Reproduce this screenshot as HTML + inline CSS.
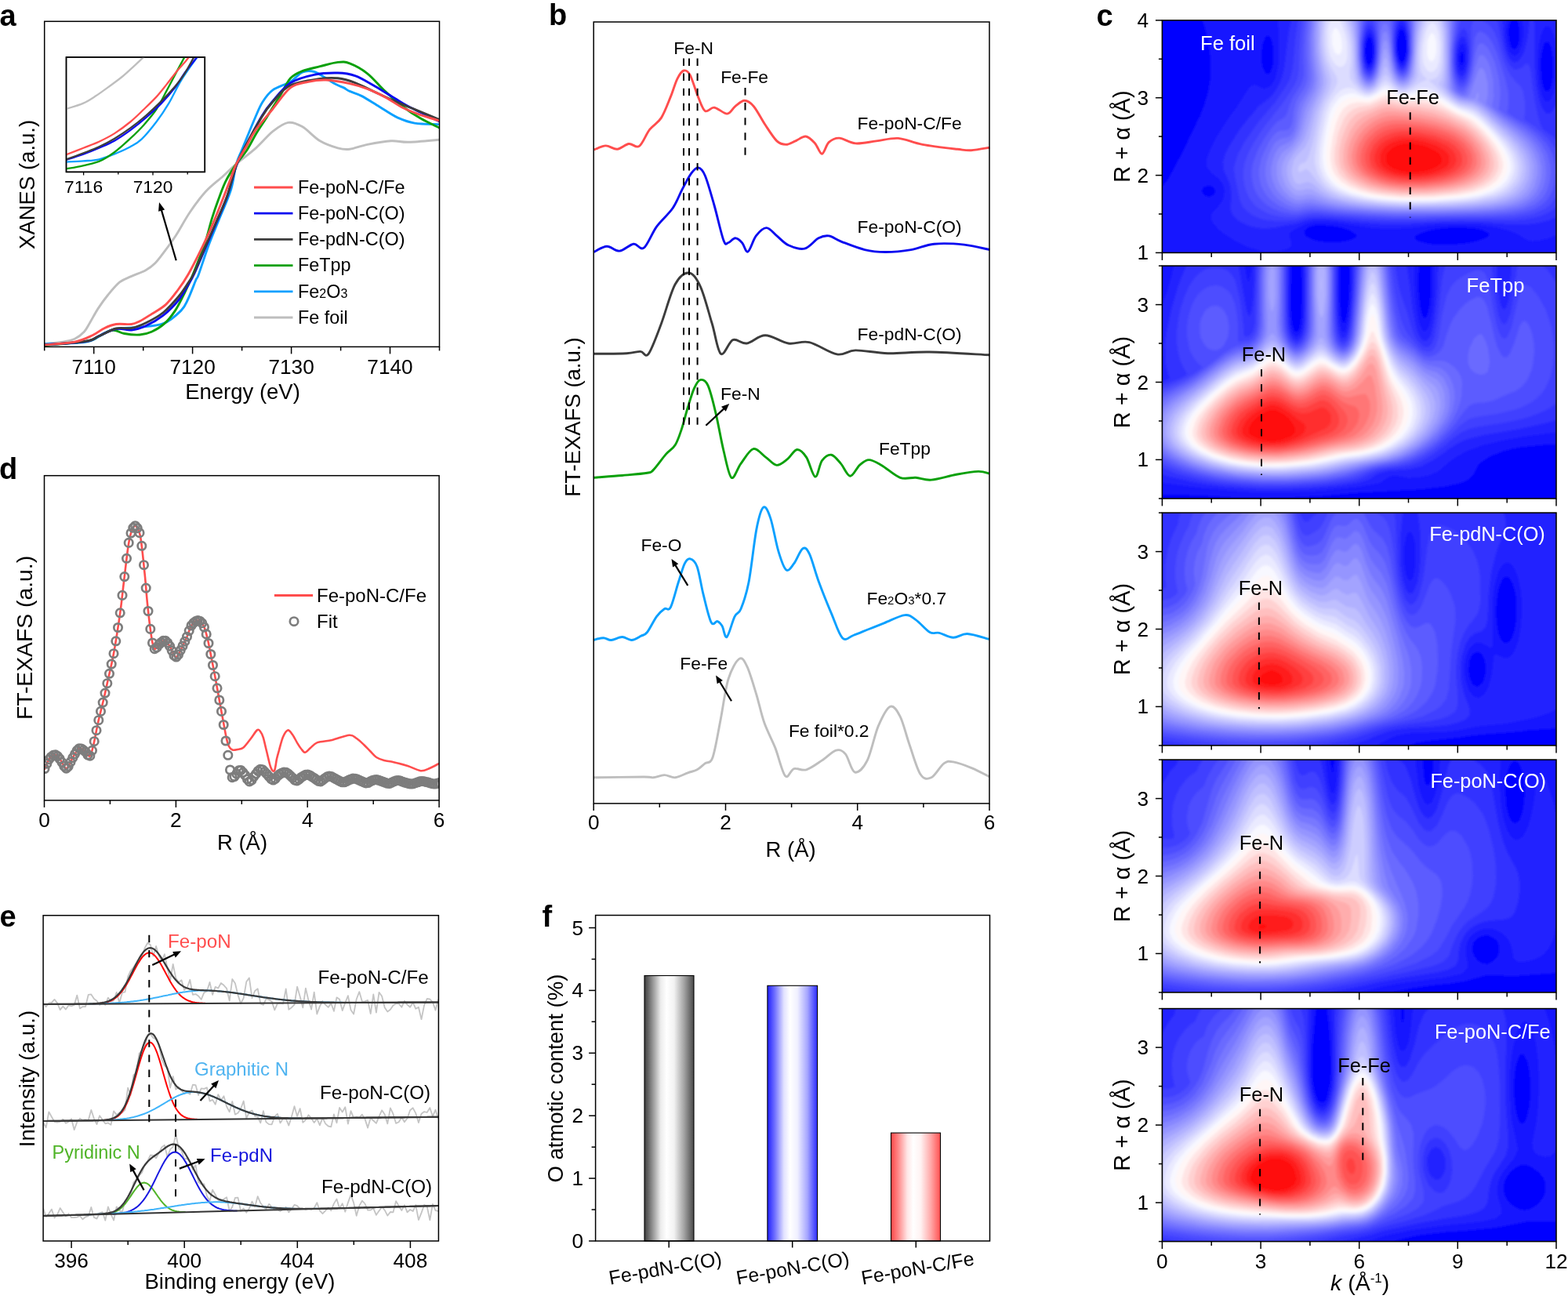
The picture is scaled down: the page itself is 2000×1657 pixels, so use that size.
<!DOCTYPE html>
<html><head><meta charset="utf-8"><style>
html,body{margin:0;padding:0;background:#fff;overflow:hidden}
svg{display:block}
</style></head><body>
<svg width="2000" height="1657" viewBox="0 0 2000 1657" style="font-family:'Liberation Sans',Arial,sans-serif">
<rect width="2000" height="1657" fill="#fff"/>
<defs><clipPath id="ca"><rect x="56.7" y="27.3" width="503.8" height="415.09999999999997"/></clipPath>
<clipPath id="cai"><rect x="84.5" y="72.9" width="176.8" height="146.5"/></clipPath></defs>
<g clip-path="url(#ca)" fill="none" stroke-width="2.9" stroke-linejoin="round">
<path d="M56.8,438.3C60.7,437.9 73.8,437.1 80.2,436.1C86.6,435.1 90.8,434.4 95.3,432.3C99.8,430.2 104,426.8 107.3,423.3C110.6,419.8 111.9,416.2 114.9,411.2C117.9,406.2 121.6,398.9 125.4,393.1C129.2,387.3 133,382 137.5,376.5C142,371 147.6,363.9 152.6,359.9C157.6,355.9 162.2,354.9 167.7,352.4C173.2,349.9 180.8,347.6 185.8,344.8C190.8,342 193.8,339.8 197.8,335.8C201.8,331.8 205.5,326.5 209.9,320.7C214.3,314.9 218.7,309.1 224.1,300.8C229.5,292.5 235.8,280.1 242.2,270.7C248.6,261.2 255.6,251.8 262.7,244.1C269.8,236.4 278.1,230.6 284.5,224.8C290.9,219 294.4,215.1 301.4,209.1C308.4,203.1 318.9,195.5 326.7,188.6C334.4,181.7 341.1,173.1 347.9,167.7C354.7,162.3 361.2,157.4 367.5,156.4C373.8,155.4 378.8,157.7 385.6,161.6C392.4,165.5 400.6,175.3 408.2,179.8C415.8,184.3 424.6,187.1 430.9,188.8C437.2,190.6 439.7,191.1 446,190.3C452.3,189.6 459.8,186.1 468.6,184.3C477.4,182.6 490,180.3 498.8,179.8C507.6,179.3 511.1,181.6 521.4,181.3C531.7,181 554.1,178.7 560.6,178.2" stroke="#bebebe"/>
<path d="M56.8,438.9C65.7,438.4 97.6,438.5 110.3,436.1C123,433.8 126.7,427.6 133,424.8C139.3,422 140.6,420.8 148.1,419.5C155.6,418.2 168.1,418.3 178.2,417.2C188.2,416.1 199.6,416.2 208.4,412.7C217.2,409.2 225.7,401.4 231,396.1C236.3,390.8 236.9,387.5 240.1,381C243.2,374.5 247.7,362.2 249.9,357C252.1,351.8 250.6,357.8 253.4,350C256.2,342.2 262.5,322.5 267,310.5C271.5,298.5 275.6,289.4 280.2,277.9C284.8,266.4 291.2,253.2 294.7,241.7C298.2,230.2 299.1,217.5 301.4,209.1C303.7,200.7 304.6,200.8 308.6,191C312.6,181.2 321.1,160.2 325.5,150C329.9,139.8 331.3,135.8 335,130C338.7,124.2 342,119.2 347.9,114.9C353.8,110.6 364.2,108.1 370.5,104.3C376.8,100.5 380.6,94.3 385.6,92.2C390.6,90.1 395.7,90.2 400.7,91.5C405.7,92.8 411.3,97.2 415.8,99.8C420.3,102.4 424.1,105.3 427.9,107.3C431.7,109.3 435.4,110.4 438.4,111.9C441.4,113.4 442.2,114.7 446,116.4C449.8,118.2 454.8,119.1 461.1,122.4C467.4,125.7 476.2,131.5 483.7,136C491.2,140.5 498.8,146.1 506.3,149.6C513.8,153.1 519.9,155.6 528.9,157.1C537.9,158.6 555.3,158.3 560.6,158.6" stroke="#0aa0ff"/>
<path d="M56.8,440.6C65.7,439.7 98.9,437.2 110.3,435.3C121.7,433.4 120.4,431.6 125.4,429.3C130.4,427.1 136.7,423.1 140.5,421.8C144.3,420.6 145.1,421.2 148.1,421.8C151.1,422.4 153.6,424.6 158.6,425.5C163.6,426.4 172.4,427.4 178.2,427C184,426.6 188,425.7 193.3,423.3C198.6,420.9 204.9,417.2 209.9,412.7C214.9,408.2 219.2,402.6 223.5,396.1C227.8,389.6 231.7,381.2 235.5,373.5C239.3,365.8 241.9,360.3 246.1,350C250.3,339.7 256.8,323.7 260.9,311.7C265,299.7 267.4,288.1 270.6,277.9C273.8,267.6 277.2,258.2 280.2,250.2C283.2,242.1 285.1,236.4 288.7,229.6C292.2,222.8 297.1,215.4 301.4,209.1C305.7,202.8 310.3,198.5 314.6,192C318.9,185.5 322.8,177 327,170C331.2,163 336.5,155.5 340,150C343.5,144.5 344.9,141.8 347.9,137C350.9,132.2 354.2,127.2 358,121C361.8,114.8 365.9,104.8 370.5,99.8C375.1,94.8 379.3,93.2 385.6,90.7C391.9,88.2 400.6,86.6 408.2,84.7C415.8,82.8 424.6,80 430.9,79.4C437.2,78.8 439.7,78.5 446,80.9C452.3,83.3 461.1,87.9 468.6,93.8C476.1,99.7 483.6,109.4 491.2,116.4C498.8,123.4 506.3,130.2 513.9,136C521.4,141.8 528.7,146.6 536.5,151.1C544.3,155.6 556.6,161.2 560.6,163.2" stroke="#0aa00a"/>
<path d="M56.8,440C65.7,439.2 98.6,437.3 110,435.5C121.4,433.7 119.1,431.7 125.4,429C131.8,426.3 141.1,420.8 148.1,419.5C155.1,418.2 161.4,421.6 167.7,421C174,420.4 179,418.8 185.8,415.7C192.6,412.6 201.4,407.6 208.4,402.1C215.4,396.6 222.7,389 228,382.5C233.3,376 237.1,368.3 240.3,362.9C243.5,357.5 244,357.3 247.4,350C250.8,342.7 256.2,329.7 260.9,318.9C265.6,308.1 270.6,296.6 275.4,285.2C280.2,273.8 285.6,262.5 289.9,250.2C294.2,237.9 297.7,221.8 301.4,211.5C305.1,201.2 306.8,199.2 312.2,188.6C317.6,178 328.1,157.9 334,148C339.9,138.1 341.8,136 347.9,129C354,122 361.7,111.4 370.5,105.8C379.3,100.2 390.6,97.4 400.7,95.3C410.8,93.2 422.1,92.8 430.9,93C439.7,93.2 446,94.2 453.5,96.8C461,99.4 468.6,104.5 476.1,108.8C483.7,113.1 491.2,117.9 498.8,122.4C506.4,126.9 511.1,130.6 521.4,136C531.7,141.4 554.1,151.8 560.6,154.9" stroke="#0a0af0"/>
<path d="M56.8,440C65.7,439.2 98.6,437.1 110,435.3C121.4,433.5 119.1,431.7 125.4,429C131.8,426.3 141.1,420.8 148.1,419C155.1,417.2 161.4,419.7 167.7,418.5C174,417.3 179,415.3 185.8,412C192.6,408.7 201.4,404.2 208.4,398.5C215.4,392.8 222.6,384.4 228,378C233.4,371.6 237.3,365 240.6,360C243.9,355 244.2,355.2 247.6,348C251,340.8 256.3,327.7 260.9,317C265.5,306.3 270.6,295.2 275.4,284C280.2,272.8 285.6,261.7 289.9,249.5C294.2,237.3 297.7,221.2 301.4,211C305.1,200.8 306.8,198.3 312.2,188C317.6,177.7 328.1,158.7 334,149C339.9,139.3 341.8,136.7 347.9,130C354,123.3 360.4,113.7 370.5,108.8C380.6,103.9 398.1,102 408.2,100.5C418.3,99 423.3,98.9 430.9,99.8C438.4,100.7 446,103 453.5,105.8C461,108.6 468.6,112.9 476.1,116.4C483.7,119.9 491.2,123.7 498.8,127C506.4,130.3 515.1,133.9 521.4,136.5C527.7,139.1 530,139.8 536.5,142.5C543,145.2 556.6,150.9 560.6,152.6" stroke="#3c3c3c"/>
<path d="M56.8,439.9C63.2,439.3 85.1,438.1 95.3,436.1C105.5,434.1 111.6,430.7 117.9,427.8C124.2,424.9 128,421.1 133,418.7C138,416.3 142.3,414.4 148.1,413.5C153.9,412.6 162.7,414.1 167.7,413.5C172.7,412.9 173.9,411.8 178.2,409.7C182.5,407.6 187.8,404.1 193.3,400.6C198.8,397.1 205.9,393.6 211.4,388.6C216.9,383.6 221.7,376.9 226.5,370.5C231.3,364.1 234.8,359.4 240.1,350C245.4,340.6 253.4,324.5 258.5,314.1C263.6,303.7 266.8,296.5 270.6,287.6C274.4,278.8 277.7,270.2 281.4,261C285.1,251.8 289.2,240.8 292.6,232.1C295.9,223.4 297.7,216.8 301.4,209.1C305.1,201.4 310.5,193.4 314.6,186.2C318.7,179 320.4,173.9 326,166C331.6,158.1 340.5,148 347.9,139C355.3,130 362.9,117.7 370.5,111.9C378.1,106.1 385.6,106 393.2,104.3C400.8,102.6 407,101.6 415.8,102C424.6,102.4 437.2,104.7 446,106.6C454.8,108.5 461.1,110.5 468.6,113.4C476.1,116.3 483.6,119.9 491.2,123.9C498.8,127.9 506.3,133.7 513.9,137.5C521.4,141.3 528.7,143.8 536.5,146.6C544.3,149.4 556.6,152.8 560.6,154.1" stroke="#ff4d4d"/>
</g>
<rect x="84.5" y="72.9" width="176.8" height="146.5" fill="#fff" stroke="#000" stroke-width="1.5"/>
<g clip-path="url(#cai)" fill="none" stroke-width="2.3" stroke-linejoin="round">
<path d="M84.5,138.9C88.2,137.7 100.1,134.4 106.4,131.6C112.7,128.8 116.5,126.1 122.3,122.3C128.1,118.5 135.2,113.2 141,109C146.8,104.8 152.1,101 156.9,97C161.8,93 165.8,89.1 170.1,85.1C174.4,81.1 179.5,76.3 182.8,73.1C186.1,69.9 188.8,67.2 190,66" stroke="#bebebe"/>
<path d="M84.5,206.6C88.2,206.4 99.4,205.9 106.4,205.3C113.4,204.8 119.2,205 126.3,203.3C133.4,201.6 142.2,198 148.9,195.3C155.6,192.6 160.9,190.3 166.2,187.3C171.5,184.3 175.3,182.7 180.8,177.4C186.3,172.1 193.6,163.1 199.4,155.5C205.2,147.9 210.1,140.5 215.4,131.6C220.7,122.7 225.2,112 231.2,102.3C237.2,92.5 247.2,79 251.2,73.1C255.2,67.2 254.4,68 255,67" stroke="#0aa0ff"/>
<path d="M84.5,215.2C87,214.8 92.8,214.1 99.8,212.6C106.8,211.1 118.6,209 126.3,205.9C134,202.8 139.5,198.9 146.2,194C152.8,189.1 160,182.5 166.2,176.7C172.4,170.9 177.9,165.6 183.4,159.4C188.9,153.2 194.5,146.8 199.4,139.5C204.3,132.2 208.2,123.8 212.6,115.6C217,107.4 222.1,97.5 225.9,90.4C229.7,83.3 233.2,76.8 235.2,73.1C237.2,69.4 237.5,68.8 238,68" stroke="#0aa00a"/>
<path d="M84.5,203.9C88.2,202.7 99.4,199.1 106.4,196.6C113.4,194.1 119.7,191.6 126.3,188.7C132.9,185.8 139.5,183.2 146.2,179.4C152.8,175.6 159.5,171 166.2,166.1C172.8,161.2 179.5,155.8 186.1,150.1C192.7,144.3 199.8,138 206,131.6C212.2,125.2 218.2,118.2 223.3,111.6C228.4,104.9 231.8,98.1 236.5,91.7C241.2,85.3 248.1,77 251.2,73.1C254.3,69.1 254.4,68.8 255,68" stroke="#0a0af0"/>
<path d="M84.5,203.3C88.2,202 99.4,198 106.4,195.3C113.4,192.6 119.7,190.4 126.3,187.3C132.9,184.2 139.5,180.7 146.2,176.7C152.8,172.7 159.5,168.3 166.2,163.4C172.8,158.5 179.5,153.2 186.1,147.5C192.7,141.8 199.8,135.1 206,128.9C212.2,122.7 218.4,116 223.3,110.3C228.2,104.5 231.2,100.6 235.2,94.4C239.2,88.2 244.7,77.5 247.2,73.1C249.7,68.7 249.5,68.8 250,68" stroke="#3c3c3c"/>
<path d="M84.5,197.3C88.2,195.9 99.4,191.5 106.4,188.7C113.4,185.9 119.7,183.8 126.3,180.7C132.9,177.6 139.5,174.3 146.2,170.1C152.8,165.9 160,160.6 166.2,155.5C172.4,150.4 177.9,144.8 183.4,139.5C188.9,134.2 194.5,128.9 199.4,123.6C204.3,118.3 208.2,113.1 212.6,107.6C217,102.1 221.9,95.3 225.9,90.4C229.9,85.5 233.6,81.8 236.5,78.4C239.4,75 242.1,71.4 243.2,70" stroke="#ff4d4d"/>
</g>
<rect x="84.5" y="72.9" width="176.8" height="146.5" fill="none" stroke="#000" stroke-width="1.5"/>
<line x1="106.6" y1="219.2" x2="106.6" y2="223.5" stroke="#000" stroke-width="1.3"/>
<line x1="150.8" y1="219.2" x2="150.8" y2="222.5" stroke="#000" stroke-width="1.3"/>
<line x1="195" y1="219.2" x2="195" y2="223.5" stroke="#000" stroke-width="1.3"/>
<line x1="239.2" y1="219.2" x2="239.2" y2="222.5" stroke="#000" stroke-width="1.3"/>
<text x="106.6" y="246.3" font-size="22.8" text-anchor="middle">7116</text>
<text x="195" y="246.3" font-size="22.8" text-anchor="middle">7120</text>
<line x1="224.7" y1="332.2" x2="205.8" y2="267.6" stroke="#000" stroke-width="2.2"/><path d="M203,258L210.1,267.4L202.1,269.7Z" fill="#000"/>
<rect x="56.7" y="27.3" width="503.8" height="415.1" fill="none" stroke="#000" stroke-width="1.5"/>
<line x1="56.7" y1="442.4" x2="56.7" y2="447.4" stroke="#000" stroke-width="1.5"/>
<line x1="119.7" y1="442.4" x2="119.7" y2="451.4" stroke="#000" stroke-width="1.5"/>
<text x="119.7" y="476.8" font-size="26.2" text-anchor="middle">7110</text>
<line x1="182.7" y1="442.4" x2="182.7" y2="447.4" stroke="#000" stroke-width="1.5"/>
<line x1="245.6" y1="442.4" x2="245.6" y2="451.4" stroke="#000" stroke-width="1.5"/>
<text x="245.6" y="476.8" font-size="26.2" text-anchor="middle">7120</text>
<line x1="308.6" y1="442.4" x2="308.6" y2="447.4" stroke="#000" stroke-width="1.5"/>
<line x1="371.6" y1="442.4" x2="371.6" y2="451.4" stroke="#000" stroke-width="1.5"/>
<text x="371.6" y="476.8" font-size="26.2" text-anchor="middle">7130</text>
<line x1="434.6" y1="442.4" x2="434.6" y2="447.4" stroke="#000" stroke-width="1.5"/>
<line x1="497.5" y1="442.4" x2="497.5" y2="451.4" stroke="#000" stroke-width="1.5"/>
<text x="497.5" y="476.8" font-size="26.2" text-anchor="middle">7140</text>
<line x1="560.5" y1="442.4" x2="560.5" y2="447.4" stroke="#000" stroke-width="1.5"/>
<text x="309.5" y="508.5" font-size="27.5" text-anchor="middle">Energy (eV)</text>
<text x="44" y="235.4" font-size="27.5" text-anchor="middle" transform="rotate(-90 44 235.4)">XANES (a.u.)</text>
<line x1="324" y1="239" x2="373.5" y2="239" stroke="#ff4d4d" stroke-width="2.8"/>
<text x="380" y="246.8" font-size="23.4">Fe-poN-C/Fe</text>
<line x1="324" y1="272.2" x2="373.5" y2="272.2" stroke="#0a0af0" stroke-width="2.8"/>
<text x="380" y="280" font-size="23.4">Fe-poN-C(O)</text>
<line x1="324" y1="305.4" x2="373.5" y2="305.4" stroke="#3c3c3c" stroke-width="2.8"/>
<text x="380" y="313.2" font-size="23.4">Fe-pdN-C(O)</text>
<line x1="324" y1="338.6" x2="373.5" y2="338.6" stroke="#0aa00a" stroke-width="2.8"/>
<text x="380" y="346.4" font-size="23.4">FeTpp</text>
<line x1="324" y1="371.8" x2="373.5" y2="371.8" stroke="#0aa0ff" stroke-width="2.8"/>
<text x="380" y="379.6" font-size="23.4">Fe<tspan font-size="16">2</tspan>O<tspan font-size="16">3</tspan></text>
<line x1="324" y1="405" x2="373.5" y2="405" stroke="#bebebe" stroke-width="2.8"/>
<text x="380" y="412.8" font-size="23.4">Fe foil</text>
<text x="-0.5" y="32.5" font-size="38" font-weight="bold">a</text>
<g fill="none" stroke-width="2.9" stroke-linejoin="round">
<path d="M757.3,191.2C759.8,190.3 767.6,186.1 772.6,185.9C777.6,185.8 782.4,190.7 787.3,190.3C792.2,189.9 797.4,184.2 802.1,183.5C806.8,182.8 811,189.5 815.4,186.4C819.8,183.3 824,171.2 828.7,165.2C833.4,159.2 839,157.3 843.4,150.4C847.8,143.5 851.8,132.2 855.2,123.9C858.6,115.6 861.1,106 864,100.3C866.9,94.6 869.6,90.7 872.3,90C875,89.3 877.2,90.2 880.3,95.9C883.3,101.6 887.4,116.3 890.6,123.9C893.8,131.5 896,139.4 899.4,141.6C902.8,143.8 906.5,136.6 911.2,137.2C915.9,137.8 923.1,145.3 927.5,145.1C931.9,144.8 934.1,138.5 937.8,135.7C941.5,132.9 945.7,128.3 949.6,128.3C953.5,128.3 957,130.5 961.4,135.7C965.8,140.9 971.2,151.9 976.1,159.3C981,166.7 986.5,175.7 990.9,179.9C995.3,184.1 998.8,184.4 1002.7,184.4C1006.6,184.4 1010.3,181.6 1014.5,179.9C1018.7,178.2 1023.6,173.5 1027.8,174C1032,174.5 1036.2,179.2 1039.6,182.9C1043,186.6 1045.5,196.4 1048.4,196.2C1051.4,195.9 1053.6,184.8 1057.3,181.4C1061,178.1 1064.8,175.8 1070.5,176.1C1076.2,176.3 1083.3,182.3 1091.2,182.9C1099.1,183.5 1108.6,181 1117.7,179.9C1126.8,178.8 1136,175.7 1145.8,176.4C1155.6,177.2 1164.2,182.1 1176.7,184.4C1189.2,186.7 1210.7,189.1 1221,190.3C1231.3,191.5 1231.8,192 1238.7,191.7C1245.6,191.3 1258.4,188.8 1262.3,188.2" stroke="#ff4d4d"/>
<path d="M757.3,321.5C760.1,320.3 768.6,314.4 774.1,314.2C779.6,314 784.6,320.6 790.3,320.1C795.9,319.6 802.8,311.9 808,311.2C813.2,310.5 816.4,319.9 821.3,316.2C826.2,312.5 831.4,297.6 837.5,289.1C843.6,280.7 852.7,273.4 858.1,265.5C863.5,257.6 866.1,249.3 870,241.9C873.9,234.5 878.3,225.9 881.7,221.2C885.1,216.5 887.7,213.4 890.6,213.9C893.5,214.4 896,216.1 899.4,224.2C902.8,232.3 907.3,248.7 911.2,262.5C915.1,276.3 920,298.9 923,306.8C926,314.7 926.4,310.2 928.9,309.7C931.4,309.2 934.8,303.8 937.8,303.8C940.8,303.8 943.9,306.8 946.6,309.7C949.3,312.6 951,322.5 954,321C957,319.5 960.4,306 964.3,300.9C968.2,295.8 973.2,290.6 977.6,290.6C982,290.6 986.2,297.2 990.9,300.9C995.6,304.6 999.7,310 1005.6,312.7C1011.5,315.4 1019.9,318.6 1026.3,317.1C1032.7,315.6 1038.8,306.5 1044,303.8C1049.2,301.1 1052.4,300.1 1057.3,300.9C1062.2,301.6 1065.9,305.4 1073.5,308.3C1081.1,311.2 1093.7,316.4 1103,318.6C1112.3,320.8 1119.7,321.5 1129.5,321.5C1139.3,321.5 1151.7,320.3 1162,318.6C1172.3,316.9 1180.2,312.3 1191.5,311.2C1202.8,310.1 1218,310.9 1229.8,312.1C1241.6,313.3 1256.9,317.5 1262.3,318.6" stroke="#0a0af0"/>
<path d="M757.3,451.3C764.3,451.2 789.2,451.2 799.1,450.7C809,450.2 812.1,448.3 816.8,448.4C821.5,448.5 822.8,457.2 827.2,451.3C831.6,445.4 837.8,427.8 843.4,413C849,398.2 855.2,373.6 861.1,362.8C867,352 873.4,347.5 878.8,348C884.2,348.5 888.6,355 893.5,365.8C898.4,376.6 904,398.8 908.3,413C912.6,427.2 915.1,447.9 919.5,451.3C923.9,454.7 929.3,435.8 934.8,433.6C940.3,431.4 945.6,439 952.5,438C959.4,437 967.2,427.7 976.1,427.7C985,427.7 996.2,436.5 1005.6,438C1015,439.5 1021.9,434.3 1032.2,436.6C1042.5,438.9 1057.8,450.2 1067.6,451.9C1077.4,453.6 1080.4,447.1 1091.2,446.9C1102,446.7 1116.8,450.3 1132.5,450.7C1148.2,451.1 1164,448.6 1185.6,449C1207.2,449.4 1249.5,452.2 1262.3,452.8" stroke="#3c3c3c"/>
<path d="M756.9,609.3C763,608.8 782.2,607.5 793.6,606.5C805,605.5 818.9,604.5 825.5,603.3C832.1,602.1 829.4,603.4 833.4,599.4C837.4,595.4 844.8,584.7 849.4,579.4C854,574.1 858,572.8 861.3,567.5C864.6,562.2 866.6,555.6 869.3,547.6C872,539.6 874.6,528.3 877.3,519.7C879.9,511.1 882.6,501.7 885.2,495.8C887.9,489.9 890.2,485.3 893.2,484.6C896.2,483.9 899.8,484.6 903.1,491.8C906.4,499 909.8,513.6 913.1,527.6C916.4,541.6 919.8,561.9 923.1,575.5C926.4,589.1 929.4,606.6 933,609.3C936.6,611.9 940.4,597.5 945,591.4C949.6,585.3 955.6,574 960.9,572.7C966.2,571.4 971.9,580 976.9,583.4C981.9,586.8 986.2,593.1 990.8,593.4C995.4,593.7 1000.4,588.7 1004.7,585.4C1009,582.1 1012.7,573.8 1016.7,573.5C1020.7,573.2 1024.8,577.6 1028.6,583.4C1032.4,589.2 1036.5,607.4 1039.8,608.1C1043.1,608.8 1045.1,592 1048.6,587.4C1052,582.8 1056.5,579.5 1060.5,580.2C1064.5,580.9 1068.5,586.9 1072.5,591.4C1076.5,595.9 1080.4,607 1084.4,607.3C1088.4,607.6 1092.4,596.8 1096.4,593.4C1100.4,590 1103.7,586.6 1108.3,586.6C1112.9,586.6 1117.6,589.6 1124.3,593.4C1131,597.2 1140.9,606.6 1148.2,609.3C1155.5,611.9 1161.5,608.8 1168.1,609.3C1174.7,609.8 1179.4,612.8 1188,612.1C1196.6,611.4 1209.9,607.1 1219.9,605.3C1229.9,603.5 1240.8,601.6 1247.8,601.4C1254.8,601.2 1259.4,603.6 1261.7,604.1" stroke="#0aa00a"/>
<path d="M756.9,816.5C759,816 765.9,813.7 769.7,813.7C773.5,813.7 775.6,816.7 779.6,816.5C783.6,816.3 789.3,812.5 793.6,812.5C797.9,812.5 801.5,816.7 805.5,816.5C809.5,816.3 814.2,813 817.5,811.3C820.8,809.6 822.2,810.6 825.5,806.5C828.8,802.4 833.8,791.6 837.4,786.6C841,781.6 844.4,778.7 847.4,776.7C850.4,774.7 852.3,780.4 855.3,774.7C858.3,769.1 862.3,752.1 865.3,742.8C868.3,733.5 870.8,723.9 873.3,718.9C875.8,713.9 877.8,712.2 880.4,712.9C883,713.6 886.4,715.3 889.2,722.9C892,730.5 894.2,746.9 897.2,758.7C900.2,770.5 904.1,788.1 907.1,793.8C910.1,799.4 912.8,791.8 915.1,792.6C917.4,793.4 919.1,795.3 921.1,798.6C923.1,801.9 924.5,814.5 927.1,812.5C929.8,810.5 934,792.6 937,786.6C940,780.6 942,784 945,776.7C948,769.4 951.7,759.7 955,742.8C958.3,725.9 961.8,691 964.9,675.1C968,659.2 970.7,649.5 973.7,647.2C976.7,644.9 979.6,651.8 982.8,661.1C986,670.4 989.5,691.9 992.8,702.9C996.1,713.9 999.4,724.2 1002.7,726.9C1006,729.6 1009.2,723.4 1012.7,718.9C1016.2,714.4 1020.6,701.8 1023.9,699.8C1027.2,697.8 1029.1,699.7 1032.6,706.9C1036,714.1 1039.9,730.2 1044.6,742.8C1049.2,755.4 1055.5,770.8 1060.5,782.6C1065.5,794.4 1069.8,809.1 1074.5,813.7C1079.2,818.4 1082.8,812.4 1088.4,810.5C1094,808.6 1101.7,805.1 1108.3,802.5C1114.9,799.9 1120.6,797.6 1128.2,794.6C1135.8,791.6 1147.4,785.3 1154.1,784.6C1160.8,783.9 1162.8,787 1168.1,790.6C1173.4,794.2 1181,803.7 1186,806.5C1191,809.3 1193,806.2 1198,807.3C1203,808.4 1209.9,813.1 1215.9,813.3C1221.9,813.5 1226.2,808.2 1233.8,808.5C1241.4,808.8 1257,814.2 1261.7,815.3" stroke="#0aa0ff"/>
<path d="M756.9,991.8C767.7,991.7 808.8,991 821.5,991C834.2,991 829.1,992.2 833.4,991.8C837.7,991.4 842.8,988.6 847.4,988.6C852,988.6 856.3,992.3 861.3,991.8C866.3,991.3 872.6,987.5 877.3,985.8C881.9,984.1 885.6,983.8 889.2,981.8C892.9,979.8 895.9,976.5 899.2,973.9C902.5,971.2 905.8,975.2 909.1,965.9C912.4,956.6 915.8,934.7 919.1,918.1C922.4,901.5 925,879.2 929,866.3C933,853.3 939,843 943,840.4C947,837.8 949.4,842.8 953,850.4C956.6,858 961.2,874.2 964.9,886.2C968.5,898.2 970.9,910.8 974.9,922.1C978.9,933.4 984.3,942.6 988.8,953.9C993.2,965.2 997.6,985.3 1001.6,989.8C1005.6,994.2 1008.2,981.9 1012.7,980.6C1017.2,979.3 1022.6,983.6 1028.6,981.8C1034.6,980 1042.3,974 1048.6,969.9C1054.9,965.8 1061.5,958.4 1066.5,957.1C1071.5,955.8 1074.4,957.2 1078.4,961.9C1082.4,966.5 1085.8,983.7 1090.4,985C1095.1,986.3 1101.3,979.7 1106.3,969.9C1111.3,960.1 1115.4,937.5 1120.3,926.1C1125.2,914.7 1130.8,903.3 1135.4,901.3C1140.1,899.3 1144.1,906 1148.2,914.1C1152.3,922.2 1155.8,937.7 1160.1,950C1164.4,962.3 1169.4,980.8 1174.1,987.8C1178.8,994.8 1183,994.1 1188,991.8C1193,989.5 1199.2,977.2 1203.9,973.9C1208.6,970.6 1209.9,970.9 1215.9,971.9C1221.9,972.9 1232.2,976.7 1239.8,979.8C1247.4,982.9 1258,988.8 1261.7,990.6" stroke="#bebebe"/>
</g>
<line x1="872" y1="74.5" x2="872" y2="542" stroke="#000" stroke-width="2.0" stroke-dasharray="9.4,9.68"/>
<line x1="879" y1="74.5" x2="879" y2="542" stroke="#000" stroke-width="2.0" stroke-dasharray="9.4,9.68"/>
<line x1="889.6" y1="74.5" x2="889.6" y2="542" stroke="#000" stroke-width="2.0" stroke-dasharray="9.4,9.68"/>
<line x1="950.5" y1="112" x2="950.5" y2="198" stroke="#000" stroke-width="2.0" stroke-dasharray="9.4,9.68"/>
<text x="884.7" y="69.3" font-size="22.8" text-anchor="middle">Fe-N</text>
<text x="949.6" y="105.6" font-size="22.8" text-anchor="middle">Fe-Fe</text>
<text x="1093.6" y="165.2" font-size="22.8">Fe-poN-C/Fe</text>
<text x="1093.6" y="296.5" font-size="22.8">Fe-poN-C(O)</text>
<text x="1093.6" y="433.6" font-size="22.8">Fe-pdN-C(O)</text>
<text x="1121" y="580" font-size="22.8">FeTpp</text>
<text x="919.1" y="509.7" font-size="22.8">Fe-N</text>
<line x1="900.4" y1="542.8" x2="923.6" y2="521.1" stroke="#000" stroke-width="2.2"/><path d="M930.2,514.9L925.8,524.8L920,518.7Z" fill="#000"/>
<text x="817.5" y="703" font-size="22.8">Fe-O</text>
<line x1="877.3" y1="746.8" x2="861.2" y2="720.6" stroke="#000" stroke-width="2.2"/><path d="M856.5,712.9L865.3,719.2L858.1,723.6Z" fill="#000"/>
<text x="1105.5" y="770.7" font-size="22.8">Fe<tspan font-size="15">2</tspan>O<tspan font-size="15">3</tspan>*0.7</text>
<text x="867.3" y="853.5" font-size="22.8">Fe-Fe</text>
<line x1="933" y1="894.2" x2="917.8" y2="869.2" stroke="#000" stroke-width="2.2"/><path d="M913.1,861.5L921.9,867.9L914.7,872.2Z" fill="#000"/>
<text x="1005.9" y="940" font-size="22.8">Fe foil*0.2</text>
<rect x="757.2" y="28" width="504.8" height="996.9" fill="none" stroke="#000" stroke-width="1.5"/>
<line x1="757.2" y1="1024.9" x2="757.2" y2="1033.9" stroke="#000" stroke-width="1.5"/>
<text x="757.2" y="1057.5" font-size="26.2" text-anchor="middle">0</text>
<line x1="841.3" y1="1024.9" x2="841.3" y2="1029.9" stroke="#000" stroke-width="1.5"/>
<line x1="925.5" y1="1024.9" x2="925.5" y2="1033.9" stroke="#000" stroke-width="1.5"/>
<text x="925.5" y="1057.5" font-size="26.2" text-anchor="middle">2</text>
<line x1="1009.6" y1="1024.9" x2="1009.6" y2="1029.9" stroke="#000" stroke-width="1.5"/>
<line x1="1093.7" y1="1024.9" x2="1093.7" y2="1033.9" stroke="#000" stroke-width="1.5"/>
<text x="1093.7" y="1057.5" font-size="26.2" text-anchor="middle">4</text>
<line x1="1177.9" y1="1024.9" x2="1177.9" y2="1029.9" stroke="#000" stroke-width="1.5"/>
<line x1="1262" y1="1024.9" x2="1262" y2="1033.9" stroke="#000" stroke-width="1.5"/>
<text x="1262" y="1057.5" font-size="26.2" text-anchor="middle">6</text>
<text x="1008.7" y="1093.4" font-size="27.5" text-anchor="middle">R (Å)</text>
<text x="740" y="532" font-size="27.5" text-anchor="middle" transform="rotate(-90 740 532)">FT-EXAFS (a.u.)</text>
<text x="700" y="32.4" font-size="38" font-weight="bold">b</text>
<defs><filter id="blr" x="-5%" y="-5%" width="110%" height="110%"><feGaussianBlur stdDeviation="1.6"/></filter><clipPath id="cc0"><rect x="1482.4" y="25.9" width="502.6" height="296.5"/></clipPath><clipPath id="cc1"><rect x="1482.4" y="339.1" width="502.6" height="296.8"/></clipPath><clipPath id="cc2"><rect x="1482.4" y="654.1" width="502.6" height="296.8"/></clipPath><clipPath id="cc3"><rect x="1482.4" y="969.1" width="502.6" height="296.8"/></clipPath><clipPath id="cc4"><rect x="1482.4" y="1286.6" width="502.6" height="297"/></clipPath></defs>
<g clip-path="url(#cc0)"><g filter="url(#blr)">
<rect x="1462.4" y="5.9" width="542.6" height="336.5" fill="#0000ff"/>
<path d="M1459.5 347 2010 347 2010 1 1523.5 1 1529 12.5 1533.5 24 1538.5 40.5 1541.5 54 1544 72.5 1544.5 82 1544 100.5 1541.5 116.5 1536 135 1530.5 149 1529 151 1523 165 1521.5 167 1510.5 190.5 1492 225.5 1488 232 1487 232.5 1479 243.5 1473.5 248.5 1469 252 1462 255 1457.5 256 1457.5 347ZM1817 310 1809 308 1805.5 305.5 1804.5 303.5 1805.5 301 1808.5 298.5 1821 294 1835 291.5 1851 290 1867.5 290 1883.5 291.5 1890.5 293 1897.5 296 1899.5 298.5 1898.5 301 1897.5 302.5 1895 304 1883.5 308 1867.5 311 1849 312.5 1828 312 1819 310.5ZM1682 308 1674 306 1668.5 303.5 1665.5 301 1663 296.5 1663.5 294 1669 289.5 1678.5 287 1697 287.5 1713 290.5 1723 294 1729.5 298.5 1730 301 1729 303.5 1727 305 1716.5 308 1708.5 309 1690 309 1683 308ZM1538 250.5 1535 248 1533.5 245.5 1533 243.5 1533.5 241 1535 238.5 1540 236.5 1545 237 1547.5 238.5 1549.5 241 1550 243.5 1550 245.5 1548.5 248 1546 250.5 1542.5 251 1538 250.5ZM1971.5 116.5 1968.5 112 1965.5 98 1965 77.5 1966 68 1968.5 58 1970.5 54 1973.5 52.5 1975.5 54 1979 61 1981.5 77.5 1981.5 93.5 1980 105 1978 112 1975.5 116 1973.5 117.5ZM1614 93.5 1610.5 86.5 1609 79.5 1608.5 70.5 1610 56.5 1613.5 47.5 1616 45 1618.5 45.5 1621 48.5 1623 54 1624.5 63.5 1624.5 77.5 1623.5 84 1621 91.5 1618.5 94.5 1616 95 1614 93.5ZM1744.5 82 1743 79.5 1741.5 72.5 1741 63.5 1742.5 54 1744 49.5 1745 47.5 1747.5 47.5 1750 51 1751.5 59 1751.5 70.5 1749.5 79.5 1747.5 82.5 1745 82.5ZM1863 82 1862 77.5 1862.5 68 1865 65 1867.5 70.5 1867.5 77 1865 83ZM1788.5 79.5 1786.5 79 1784.5 75.5 1782 63.5 1782 52 1784.5 40.5 1786.5 37.5 1789 37.5 1791.5 41 1794 52 1794 66 1791.5 77 1789 79.5ZM1928.5 61 1927 59.5 1924.5 49.5 1924 38 1925 32.5 1927 26 1929.5 23 1932 22.5 1935.5 26.5 1936.5 28.5 1938.5 38 1938.5 49.5 1936.5 58 1934 62 1932 63.5 1929.5 62.5Z" fill="#1515ff"/>
<path d="M1936.5 347 1958 347 1955 345 1948 343.5 1941 344.5 1936 347ZM1609.5 320 1616 321 1630 320.5 1637 319 1644 316 1645.5 315 1647 312.5 1647.5 310 1644.5 301 1644.5 298.5 1646 296 1648.5 294 1662.5 286.5 1676 283 1692 283 1704 284 1752 291 1772.5 292 1796 291 1828 287.5 1844.5 286.5 1885.5 287 1909 290 1925 294 1936.5 298.5 1945.5 304.5 1950 306.5 1955 307.5 1962 307 1971 305 1978 302.5 2001 292 2009.5 287 2010 286.5 2010 1 1631.5 1 1630 10.5 1630 26.5 1631.5 47.5 1631.5 72.5 1630.5 84 1626.5 100.5 1621 109.5 1617.5 112 1611.5 113 1608 112 1600 108 1595.5 110 1593 112.5 1577 137.5 1567 151 1551.5 175 1541 197 1538.5 206.5 1540 214.5 1545.5 220.5 1553.5 227 1556.5 230.5 1559 234 1561 238.5 1562 243.5 1561 251.5 1558.5 257 1555 262 1546.5 271 1544.5 275.5 1545 280 1547.5 285 1554 292 1559.5 296.5 1572.5 305 1592.5 315 1607 319.5ZM1970.5 128 1968.5 125.5 1966.5 121 1964 112 1963 105 1962 89.5 1961.5 89 1962 66 1963.5 54 1965.5 45 1968.5 37.5 1971 34 1973.5 33 1975.5 33.5 1978 35.5 1982 45 1984 54 1986 75 1986 89 1984.5 105 1981.5 119 1978 127 1975.5 129.5 1973.5 130 1971 129ZM1864.5 91 1862.5 90.5 1860 84 1859.5 70.5 1860.5 63.5 1862.5 57.5 1865 55.5 1867.5 56.5 1870 66 1870 79.5 1867.5 88.5 1865 91ZM1743.5 84 1741.5 79.5 1740 70.5 1740.5 56 1742.5 47.5 1745 42.5 1748 42.5 1750 45 1752 52 1753 61 1752.5 72.5 1750 83 1747.5 86 1745 86.5ZM1786 82 1783.5 77.5 1781 66 1781 49.5 1783 38 1786.5 32 1789 32.5 1791.5 35.5 1792.5 38 1794.5 47.5 1795 66 1793 77.5 1791.5 81 1789 83 1786.5 82.5ZM1929 70.5 1925.5 66 1923 59 1921.5 52 1920.5 38 1922.5 21 1924.5 15 1927 10.5 1929.5 8.5 1934 9 1936.5 11.5 1940 19.5 1942.5 31 1943 40.5 1942.5 49.5 1941 57.5 1938 66 1937 68 1934 71 1932 71.5 1929.5 70.5Z" fill="#2323ff"/>
<path d="M1600 290 1611.5 291.5 1625.5 290.5 1642.5 287 1651 286 1664.5 281.5 1676 279.5 1696.5 280 1729 283.5 1761.5 286 1798 286 1842 283.5 1881 283.5 1929.5 286.5 1945.5 286.5 1959.5 285 1975.5 281 1989.5 274.5 1996.5 269 2003 262 2007.5 255 2010 248.5 2010 196.5 2006 188 2008 175 2009.5 158 2009.5 130.5 2008 114 2003.5 91 2001 84 1998.5 80.5 1996.5 81 1994 88.5 1989.5 115 1984 135 1980 142 1978 144 1973.5 145 1971 143.5 1967 137.5 1963.5 128 1959.5 107.5 1957.5 82 1957.5 33.5 1956.5 26.5 1955 22.5 1952.5 22.5 1950.5 29 1949.5 40.5 1947.5 52 1944 66 1942 70.5 1936.5 78 1932 79.5 1929.5 78.5 1927 76.5 1923.5 70.5 1921 63.5 1918.5 52 1917 38 1916.5 10.5 1915.5 3.5 1914.5 1 1652 1 1643.5 42.5 1638.5 84 1635.5 98 1632.5 105.5 1626.5 116.5 1621 123.5 1604.5 136.5 1594.5 149 1593 150 1580 167 1567 188 1563 196 1560 206.5 1560.5 215.5 1563 222.5 1563.5 222.5 1568 233 1570 241 1570.5 252.5 1569.5 266.5 1572 273.5 1575.5 278 1581.5 282.5 1593 288 1598.5 289.5ZM1862 95.5 1859.5 91 1858 84 1857.5 79.5 1858 65.5 1860.5 54 1862.5 49.5 1865 47 1867.5 47.5 1869 49.5 1872 61 1872.5 66 1872 79.5 1869.5 91 1867.5 95 1865 97 1862.5 96.5ZM1744.5 89 1742.5 86.5 1740 79.5 1739 70.5 1739 59 1740.5 48.5 1743 41 1745 37.5 1747.5 37 1750.5 40.5 1753 49.5 1754 59 1754 68 1753 77.5 1750 86.5 1747.5 89.5 1745 89.5ZM1785.5 84 1782 77.5 1780 66 1779.5 59 1780 45 1781 38 1784 29 1786.5 26 1789 26.5 1791.5 29.5 1793 33.5 1795.5 45 1796 68 1793.5 79.5 1791.5 84.5 1789 86.5 1786.5 86Z" fill="#3232ff"/>
<path d="M1614 280.5 1627.5 282 1639.5 282 1653 281 1669 277 1687.5 276.5 1733 280 1733.5 280.5 1770.5 282.5 1803 282.5 1862.5 280.5 1925 281.5 1945.5 280 1964 276 1975.5 271 1985 264.5 1989.5 259.5 1994 252.5 1998.5 241 2000.5 232 2001.5 222.5 2001 211 1999.5 204 1996.5 195.5 1989.5 183.5 1985 178 1980.5 174 1968.5 165.5 1965.5 160.5 1962 149 1958 130.5 1955 112 1953 93.5 1951.5 86.5 1949.5 82 1948 81 1945.5 82 1940.5 86.5 1934 89 1932 88.5 1927 85 1922.5 78 1917.5 63.5 1910.5 29 1909 25 1905.5 19.5 1902 16 1897 12.5 1887.5 8 1874 4.5 1870.5 1 1659.5 1 1652.5 47.5 1649 86.5 1645.5 100.5 1639 112 1626.5 130.5 1604.5 156.5 1587.5 181 1579 197 1574.5 211 1574 215.5 1575 225 1581.5 255.5 1585.5 264 1588.5 267.5 1596 273.5 1605.5 278 1611.5 280 1613.5 280ZM1861.5 100.5 1858 93.5 1857 89 1856 79.5 1856 70.5 1857.5 56.5 1860.5 46 1862.5 40.5 1865 37.5 1867.5 36.5 1869.5 38.5 1871.5 42.5 1874 54 1874.5 61 1874 79.5 1872 90 1869 98 1867.5 100.5 1865 102 1862.5 101.5ZM1743.5 91 1740.5 86 1738.5 77.5 1738 72.5 1738.5 52 1740.5 42 1742.5 36 1745 32 1748 31 1750 33 1751.5 36 1753.5 42.5 1755 54 1755 68 1754 77.5 1752.5 84 1750.5 89 1747.5 92 1745 92.5ZM1787 89 1784.5 86.5 1781.5 79.5 1780 70.5 1779.5 70.5 1778.5 59 1778.5 47.5 1780 33.5 1783 22 1784 19.5 1786.5 17 1789 18 1791.5 22 1794.5 31 1797 47.5 1797 66 1796 75 1793.5 83.5 1791.5 87.5 1789 89Z" fill="#4040ff"/>
<path d="M1743 278 1773 279.5 1814.5 279.5 1837.5 278.5 1915.5 278 1932 277 1952 273.5 1957 272 1969.5 266.5 1973.5 264 1978.5 259.5 1985 250.5 1988 243.5 1991 232 1992 222.5 1991.5 211 1988 197 1985 190.5 1973.5 176 1958.5 162.5 1945 153.5 1944 151 1945 144 1945 130.5 1942.5 116.5 1939 109.5 1934 105 1927 97 1922.5 89 1917.5 77.5 1909 47.5 1908.5 47.5 1906.5 42 1902 35 1897.5 30.5 1890.5 26 1883.5 25 1880 26.5 1879 28 1877.5 31 1876.5 36 1877 56.5 1876.5 72.5 1875.5 82 1873 93.5 1870.5 100.5 1867.5 105.5 1865 106.5 1862.5 106.5 1860.5 104.5 1857.5 98 1855.5 89 1854.5 75 1855 63.5 1856.5 52 1863.5 22 1863 12.5 1860 1 1793 1 1792.5 10.5 1797.5 40.5 1798 66 1797 75 1794 86.5 1791.5 90.5 1789 92 1786.5 91.5 1784 89 1782 85 1778.5 70.5 1777.5 59 1777.5 40.5 1779 26.5 1779.5 12.5 1777.5 6 1772.5 1 1665 1 1663.5 8 1659 42.5 1657.5 63.5 1657 89 1655 100.5 1651 109 1639.5 127 1632.5 137 1627.5 142.5 1609 167 1598.5 183.5 1591.5 197 1587.5 208.5 1586 218 1586 227 1587.5 236.5 1589.5 243.5 1593.5 252.5 1600 261 1604.5 265 1609.5 268 1616 271.5 1623 274 1632.5 276 1641.5 277 1653 277 1669 273.5 1678.5 273 1742 278ZM1743 93.5 1740 89 1737.5 77.5 1737 56.5 1740.5 34.5 1745 23.5 1747.5 22 1750 23 1751.5 26.5 1755 40.5 1756 49.5 1756 68 1754.5 80.5 1753 86.5 1750 93 1747.5 95 1745 95 1743 93.5Z" fill="#4e4eff"/>
<path d="M1750 275.5 1777.5 277 1819 277 1821 276.5 1902 275.5 1929.5 273.5 1945.5 270.5 1955 267.5 1964 263 1971 257.5 1973.5 254.5 1978 248 1980 243.5 1982.5 235 1984.5 220.5 1984 211 1980.5 197 1973.5 184.5 1962 171.5 1948 160 1929.5 149 1922.5 144 1924 132.5 1924 119 1920.5 102.5 1909 66 1908.5 66 1903.5 54 1897.5 46 1893.5 42.5 1890.5 41 1888 40.5 1885.5 41 1883.5 43 1881.5 47.5 1880.5 52 1877.5 82 1874 98 1872 103.5 1870 107.5 1867.5 110.5 1865 111.5 1862.5 111.5 1859 107.5 1855.5 98 1853.5 82 1854 59 1857.5 36 1858.5 24.5 1857.5 10.5 1855.5 1 1798 1 1796.5 10.5 1796.5 17.5 1799 45 1799 66 1798 75 1795.5 86.5 1793.5 91 1791.5 93.5 1789 94.5 1786.5 94 1782 88.5 1777.5 70.5 1776 52 1776 24.5 1774.5 17.5 1772 12.5 1768.5 10.5 1763.5 10 1759 12.5 1756.5 17 1755.5 24.5 1757.5 54 1756.5 75 1754.5 85.5 1751.5 93.5 1750 96 1747.5 97.5 1745 98 1740.5 93.5 1738 86.5 1736 70.5 1736 56.5 1737 45 1742 17.5 1742 8 1740 1 1669 1 1666.5 15 1663.5 42.5 1662.5 61 1663 95.5 1661.5 102.5 1658.5 109.5 1648.5 125.5 1645.5 132.5 1642 144 1639.5 149 1629 155.5 1622.5 162.5 1611.5 178.5 1604 192.5 1598 208.5 1596.5 218 1596.5 225 1598.5 236.5 1601 243.5 1605 250.5 1611.5 257.5 1616 261.5 1624.5 266.5 1630 268.5 1630 269 1637 271 1648.5 273 1655.5 273 1669 270 1683 270 1708.5 273 1748 275.5Z" fill="#5c5cff"/>
<path d="M1752 273.5 1773 274.5 1835 274.5 1897.5 273 1922.5 271 1941 267.5 1955.5 262 1959.5 259.5 1966.5 253.5 1969 250.5 1973 243.5 1976.5 232 1978 220.5 1977.5 211 1973.5 196 1966.5 184 1962 179 1962 178 1955 171 1944.5 162.5 1922.5 148 1911.5 139.5 1913.5 123.5 1913.5 114 1911.5 98 1906.5 79.5 1902 69 1897.5 61 1893 56.5 1890.5 55.5 1888 55.5 1885.5 57 1883 63.5 1881 72.5 1877.5 93.5 1873 107.5 1867.5 116 1865 117 1862.5 116.5 1858 112 1855.5 105 1853.5 95.5 1852 79.5 1852.5 61 1855 36 1855 19.5 1851.5 1 1802 1 1799.5 12.5 1799 19.5 1800 38 1800 66 1798 82 1796 89.5 1794 93.5 1791.5 96.5 1789 97 1786.5 96.5 1784.5 95 1782 91.5 1780 86.5 1777.5 77.5 1776.5 70.5 1775 55 1774.5 40.5 1773 28 1770.5 22.5 1768.5 20.5 1766 20 1763.5 20.5 1761.5 23 1759 31 1758.5 63.5 1757.5 75 1755.5 86.5 1753 93.5 1750 98.5 1747.5 100 1745 100.5 1740.5 96.5 1739 93.5 1737.5 89 1735.5 77.5 1735 54 1738 24.5 1738 12.5 1735 1 1672.5 1 1669 22.5 1667 45 1666.5 66 1668 89 1668 98 1667 104 1664 112 1656.5 123.5 1653 130.5 1650 142 1648.5 155.5 1646 162.5 1644 165 1641.5 166 1631.5 167 1627.5 169.5 1623 174.5 1618.5 181 1611.5 195.5 1609 202 1606 215.5 1606 225 1608.5 236.5 1611.5 243 1616.5 250.5 1621 255 1630.5 262 1639.5 266 1646 268 1651 269 1655.5 269 1664.5 267 1674 266 1715.5 271 1750 273.5Z" fill="#6a6aff"/>
<path d="M1750 271 1780 272.5 1830.5 272.5 1885.5 271 1918 268.5 1936.5 265 1945.5 262 1957 255 1962 250 1967.5 241 1970.5 232 1972 220.5 1971 208 1968 197 1962 186 1952 174 1944 167 1938.5 163.5 1938 162.5 1918.5 149 1904.5 137.5 1903 135 1905 123.5 1904.5 102.5 1901 86.5 1897.5 78 1894 72.5 1890.5 70 1888 70.5 1886 72.5 1881.5 86.5 1877 105 1870.5 119 1867.5 121 1862.5 120 1858 117 1856 114 1852.5 100.5 1851 86.5 1851 63.5 1853 31 1852 17.5 1848 1 1806 1 1803.5 8 1801.5 19.5 1801 66 1799.5 79.5 1796 93.5 1791.5 99 1789 99.5 1785 98 1782 94.5 1779.5 89 1776 75 1773 45 1770.5 34 1768.5 30.5 1766 30 1763.5 31.5 1761 40.5 1759.5 66 1758 79.5 1756 89 1752.5 98 1750 101 1747.5 102.5 1743 102 1739.5 98 1737.5 93.5 1735 82 1734 70.5 1734 52 1735.5 22 1733 8 1730.5 1 1676 1 1672.5 19.5 1670 49.5 1670.5 75 1672.5 93.5 1672.5 100.5 1670.5 109.5 1667 117 1657.5 133 1654.5 144 1653.5 153.5 1651 165 1648.5 170 1644 174.5 1639.5 176 1634.5 176.5 1627.5 181 1624 185.5 1618.5 197 1615 208.5 1614 218 1614.5 225 1616 232.5 1618.5 238.5 1623 246 1627.5 251.5 1631.5 255 1638.5 259.5 1643.5 262 1651 264.5 1657.5 264.5 1667 262.5 1676 262.5 1706 267.5 1749.5 271Z" fill="#7878ff"/>
<path d="M1750 269 1782 270.5 1830.5 270.5 1881 269 1902 267.5 1918 265.5 1934 262 1940.5 259.5 1949 255 1955 250 1960 243.5 1964 234 1966 225 1966.5 213.5 1962.5 197 1955 184 1948 176 1938 167 1914 149 1895.5 132.5 1897.5 121 1897.5 106.5 1894.5 93.5 1893.5 91 1890.5 87 1888 87 1885.5 90 1875.5 119 1874.5 121 1872 123 1869.5 123.5 1865 123 1862.5 122 1858 119.5 1853.5 114.5 1852.5 112 1851 102.5 1849.5 82 1849.5 68 1850.5 52 1850.5 26.5 1849 16.5 1845 1 1809 1 1805 14 1803 26.5 1802 66 1800 84 1798.5 91 1796 97 1791.5 101.5 1789 102 1784.5 100.5 1779.5 93.5 1775.5 79.5 1772.5 56.5 1770.5 46.5 1768.5 41 1766 40.5 1763.5 44 1762 52 1759.5 77.5 1758 86.5 1756 93.5 1752.5 100.5 1750 103.5 1747.5 105 1743 104.5 1739 100.5 1736 93.5 1734.5 86.5 1733 70.5 1733 42.5 1733.5 40.5 1733 24.5 1731 12.5 1727 1.5 1726.5 1 1679 1 1676.5 12.5 1674.5 26.5 1673 49.5 1673.5 70.5 1676.5 95.5 1676.5 102.5 1675.5 107.5 1674 113 1664.5 130 1660.5 139.5 1655.5 163.5 1651 174.5 1647.5 179 1644 181.5 1639.5 184 1635 185.5 1632.5 187.5 1627.5 193.5 1624 202 1621.5 213.5 1621.5 222.5 1623 229.5 1627.5 240.5 1633.5 248 1642 255 1651 259.5 1657.5 260 1664.5 258.5 1671.5 258 1704 264.5 1724.5 267 1747.5 268.5Z" fill="#8787ff"/>
<path d="M1745 266.5 1780 268.5 1833 268.5 1876.5 267 1902 265 1925 261 1934 258 1940.5 255 1947.5 250.5 1950 248 1955 241.5 1957.5 236.5 1961 222.5 1961 211 1959.5 204 1955 192.5 1947 181 1935 169.5 1915.5 154 1890.5 132 1885 128 1885 125.5 1886 123.5 1885.5 117 1883 121 1882.5 125.5 1881 126 1867.5 125.5 1861 123.5 1856 120 1851 114.5 1850 112 1848.5 93.5 1848.5 54 1849 52 1848.5 31 1847.5 22 1845.5 12.5 1842 1 1812.5 1 1807.5 15 1805 26.5 1803.5 47.5 1803 67 1801.5 82 1799.5 93.5 1796 100.5 1791.5 104 1789 104.5 1784.5 103 1782 100.5 1778 93.5 1776.5 89 1770 56.5 1768.5 52 1766 51.5 1763.5 57.5 1760.5 79.5 1757.5 93.5 1754.5 100.5 1752 104 1750 106 1746.5 107.5 1745 107.5 1740.5 105 1736 98 1734.5 93.5 1732 72.5 1731.5 33.5 1730.5 24.5 1727.5 12.5 1723 1 1682 1 1678.5 17.5 1676 42.5 1676.5 70.5 1680.5 100.5 1678.5 112 1677 116.5 1668.5 132.5 1664.5 142 1659 165 1655.5 174 1648.5 184.5 1641.5 190.5 1638 192.5 1634.5 196 1630.5 204 1629 208.5 1628.5 213.5 1628.5 222.5 1630 229.5 1633 236.5 1637.5 243.5 1644.5 250.5 1653 255 1660 255 1667 253.5 1674 253.5 1690 258.5 1705.5 262 1745 266.5Z" fill="#9595ff"/>
<path d="M1782 266.5 1835 266.5 1865 265.5 1897.5 263 1918 259.5 1932 255 1940 250.5 1943 248 1947.5 243.5 1950.5 238.5 1953.5 232 1955.5 225 1956 211 1954.5 204 1952 197 1948.5 190.5 1941.5 181 1932 171.5 1920.5 161.5 1918.5 160.5 1890.5 135 1881 129.5 1862.5 126.5 1858 124 1854.5 121 1851 117.5 1847.5 112 1847 38 1844.5 19.5 1838.5 1 1816 1 1813 8 1810 17.5 1809.5 17.5 1806.5 31 1805 47.5 1804 70.5 1802 89 1799.5 98 1796 103.5 1793.5 105.5 1789 107 1784.5 105.5 1779.5 100.5 1775 89.5 1773 82 1773 79.5 1772 77.5 1771 70.5 1769 66 1768.5 63 1766 63 1763.5 70 1761.5 82.5 1757.5 98 1753.5 105 1750 108.5 1747.5 109.5 1744.5 109.5 1740.5 108 1736.5 102.5 1734 95.5 1733.5 95.5 1731 77.5 1730.5 52 1729 31 1727 21 1720 2.5 1719 1 1685 1 1680.5 22 1678.5 45 1679 66 1684 98 1683.5 109.5 1678.5 122.5 1669 143 1661 172 1657.5 179 1651 188 1640.5 199.5 1636 208.5 1635 213.5 1635 222.5 1638 232 1640 236.5 1645.5 243.5 1650.5 248 1653 249 1660 249.5 1667 248 1671.5 248 1676 249 1697 257 1722 262 1745 264.5 1781.5 266.5Z" fill="#a3a3ff"/>
<path d="M1773 264 1791.5 265 1853.5 264 1879 262.5 1897.5 260.5 1909 258.5 1920.5 255.5 1932 250.5 1936.5 247.5 1943.5 240.5 1949 229.5 1951 220.5 1951 211 1949.5 204 1947 197 1943.5 190.5 1936.5 181.5 1922 167 1914 160.5 1901.5 149 1897 144 1888 136.5 1879 131.5 1862.5 128.5 1860.5 127.5 1854.5 123.5 1850 119 1845 112 1844.5 109.5 1845.5 75 1845 38 1840.5 15 1838 8 1834 1 1820.5 1 1814.5 12.5 1809.5 27.5 1807 42.5 1804.5 82 1803 95 1802 98 1797.5 105 1795 107.5 1789 109.5 1783.5 107.5 1777.5 100.5 1773.5 91 1768.5 74 1766 74.5 1763.5 81.5 1760 95.5 1754 107.5 1750 111 1746 112 1740.5 110.5 1735.5 105 1732.5 98 1730 84 1729 54 1727 33.5 1721.5 15 1715.5 1.5 1715 1 1689 1 1687 6 1685.5 12.5 1685 12.5 1682 31 1681.5 61 1683 75 1688 98 1688 107.5 1684.5 119 1680.5 126.5 1675 139.5 1667 168.5 1664 176.5 1660 183.5 1649 197 1643.5 206.5 1642 211 1641 218 1642.5 227 1647 236.5 1653 242.5 1660 243 1667 241 1674 242 1689 250.5 1697 253.5 1722 259.5 1741 262 1771 264Z" fill="#b1b1ff"/>
<path d="M1766 262 1784.5 263 1826 263 1854 262 1885.5 259.5 1909 255.5 1923.5 250.5 1928 248 1932 245.5 1938.5 238.5 1943.5 230 1945 225 1946.5 215.5 1945.5 208.5 1944 202 1942 197 1935 185.5 1927 176.5 1909 159 1904 155 1897.5 148 1883.5 136.5 1876.5 133.5 1865 131.5 1858 128.5 1851.5 123.5 1847 119 1840.5 109.5 1842 102.5 1843.5 84 1843 40.5 1839 19.5 1833 7 1828 4 1826 4 1823.5 5.5 1818 12.5 1814 22 1809 42.5 1807 63.5 1805.5 93.5 1803.5 100.5 1798.5 107.5 1793.5 111 1791.5 111.5 1786.5 111.5 1782 109 1777.5 104 1775 100 1768.5 85.5 1766 86 1761.5 97.5 1754.5 109.5 1752 112 1745 114.5 1739 112 1734.5 107.5 1731 100.5 1728.5 86.5 1727 51.5 1724.5 35.5 1720 20.5 1715.5 9.5 1710.5 1 1693 1 1687.5 15.5 1684.5 33.5 1684 56.5 1685 68 1687.5 81 1692.5 100.5 1692.5 107.5 1692 107.5 1691.5 112 1678 144 1670 176.5 1664.5 188 1655.5 197 1650.5 204 1647.5 215.5 1647.5 220.5 1650 229.5 1653 233.5 1657.5 235 1667 232 1671.5 233 1674 234 1685.5 243.5 1698 250.5 1710.5 254.5 1722 257 1738.5 259.5 1764 262Z" fill="#bfbfff"/>
<path d="M1761.5 259.5 1770.5 260.5 1796 261.5 1844.5 260.5 1879 258 1906.5 253 1918 249 1927.5 243.5 1936 234 1938.5 229.5 1941.5 218 1941.5 211 1940 204 1935 192.5 1926.5 181 1895 149.5 1883 139.5 1876.5 136.5 1862.5 133 1857.5 130.5 1848.5 123.5 1844 119 1835 107.5 1838.5 100.5 1840.5 91 1841.5 79.5 1841.5 49.5 1840 36 1838.5 29 1835.5 19.5 1831 12.5 1828 11 1823.5 12.5 1821 15.5 1816.5 24.5 1813.5 33.5 1811 45 1809.5 56.5 1808.5 72.5 1808.5 93.5 1809 95.5 1806.5 102.5 1803 107 1796 112.5 1791.5 114 1786.5 114 1782.5 112 1779.5 109.5 1775 104.5 1771 98 1768.5 95.5 1766.5 95.5 1763.5 99 1761.5 103 1755 112 1747.5 116.5 1743 116.5 1738.5 114.5 1733.5 110 1730 105 1728 100.5 1726 89 1726 72.5 1725 56.5 1724 47.5 1721.5 36 1716 19.5 1712.5 12.5 1708.5 6.5 1704 3 1701.5 2.5 1699 3 1696 6 1692 12.5 1688 29 1686.5 47.5 1687 59 1688.5 70.5 1690 77.5 1696.5 95.5 1698 102.5 1697 110 1693.5 119 1687.5 130.5 1682.5 144 1674 183.5 1669 199.5 1667 204 1664.5 207 1660 208.5 1657 211 1655.5 215.5 1656 218 1657.5 219.5 1660 219 1664.5 216 1667 216 1671.5 220 1680.5 232 1687.5 239 1693 243.5 1707.5 250.5 1733.5 256.5 1759.5 259.5Z" fill="#cdcdff"/>
<path d="M1796 259.5 1821 259.5 1867.5 257 1883.5 255 1909 249 1920 243.5 1925 239.5 1932 231.5 1935 225 1936.5 218 1936.5 210 1934.5 202 1932 195.5 1922 181 1893 151 1885 144 1881 141.5 1877 139.5 1860.5 134.5 1851 128.5 1840 119 1826 105.5 1821.5 102.5 1828 101.5 1833 98.5 1836 93.5 1837.5 88.5 1839 77.5 1839.5 56.5 1838 40.5 1835 29 1833 24 1830.5 21 1828.5 19.5 1825.5 19.5 1821 24 1815.5 38 1812 56.5 1811 70.5 1811 79.5 1812 89 1813.5 93.5 1816.5 98 1820 100.5 1819 102 1814.5 103.5 1805 109.5 1803 111.5 1791.5 116.5 1786.5 116 1782 114.5 1776 109.5 1773 106 1768 102.5 1766 103 1763.5 105 1760 109.5 1752.5 116.5 1747.5 119 1742.5 119 1740.5 118.5 1733.5 114 1727 107.5 1722 100 1721.5 91 1723 77.5 1723 68 1722.5 59 1720 44 1715.5 28.5 1710 17.5 1706 12.5 1701.5 11 1699 12 1696.5 15 1694 19.5 1692 25.5 1690 38 1690 56.5 1691.5 68 1694 77.5 1699.5 89 1705 98 1706 105 1703 112 1692 130.5 1687 144 1682 167 1677 199.5 1677 208.5 1680.5 221 1687 232 1692 237.5 1700.5 243.5 1713 249 1738.5 255 1756.5 257.5 1786.5 259.5 1796 259.5Z" fill="#dcdcff"/>
<path d="M1780 257 1805 258 1828 257.5 1860.5 255.5 1883.5 252.5 1902 248 1913.5 243 1920.5 238 1926 232 1930.5 222.5 1932 216 1932 210.5 1930 202 1928 197 1925 191.5 1917.5 181 1905 167 1889 151 1880 144 1872 140.5 1861.5 137.5 1850 130.5 1833 117.5 1823.5 113 1819 112 1812 112 1805 114 1796 118 1792.5 119 1788 119 1782 117 1768.5 108 1764 109.5 1754.5 118 1748 121 1745 121.5 1740.5 121 1733.5 118 1727 113.5 1722 112 1717.5 112 1713 113.5 1708.5 116.5 1704 121 1696 132.5 1692.5 142 1692 142 1685 176.5 1683 190.5 1682.5 206.5 1683.5 213.5 1688 225 1692 231 1697.5 236.5 1706 242.5 1717.5 247.5 1728 250.5 1743 253.5 1761.5 256 1779.5 257ZM1823.5 91.5 1826 92 1828 91.5 1833 86.5 1835.5 77.5 1836.5 68 1836.5 56.5 1835 42.5 1832 33.5 1830.5 31 1828 29 1826 29 1823.5 31 1821 34.5 1818 42.5 1815 59 1814.5 72.5 1816 82 1819.5 89 1822.5 91ZM1706 84.5 1710.5 85.5 1713 84.5 1715.5 82 1717.5 77.5 1718.5 70.5 1718 54 1715.5 42.5 1711.5 31 1708.5 25.5 1706 22.5 1704 21.5 1701.5 21.5 1699 23 1697 26.5 1694.5 33.5 1693.5 40.5 1694 59 1696.5 70.5 1699 76.5 1703 82 1706 84Z" fill="#eaeaff"/>
<path d="M1773 255 1789 256 1830.5 255.5 1872 252 1888 249 1904.5 243.5 1915.5 236.5 1920.5 231.5 1923.5 227 1927 218 1927.5 213.5 1927 208.5 1925 200.5 1918.5 188 1907.5 174 1897.5 163 1890 155.5 1878.5 146.5 1856.5 137.5 1837.5 124.5 1826 119 1819 117.5 1812 117 1805 118 1793.5 121.5 1789 121.5 1780.5 119 1772.5 114 1768.5 113 1766 113 1763.5 114 1757 119 1747.5 124 1740.5 124 1727 119 1722 119 1714.5 121 1707.5 125.5 1699 137.5 1695.5 146.5 1692 161.5 1689.5 176.5 1687.5 191.5 1687 202 1688.5 213.5 1692 223 1699 232.5 1703.5 236.5 1710.5 241 1722 246 1738.5 250 1738.5 250.5 1750 252.5 1772.5 255ZM1823.5 77.5 1826 78.5 1828 77.5 1830.5 73.5 1832 66 1832 54 1830.5 46.5 1828 42.5 1825.5 42.5 1823.5 45 1821.5 49.5 1820.5 54 1820 68 1821 73.5 1823.5 77.5ZM1704 68 1706 69.5 1708.5 69.5 1711 66 1712 61 1711.5 52 1710 45 1707 38 1704 35.5 1701.5 36.5 1700.5 38 1698.5 45 1699 57 1702 66 1703.5 68Z" fill="#f8f8ff"/>
<path d="M1768.5 252.5 1784.5 254 1823.5 254 1842 253 1867 250.5 1890.5 245.5 1901.5 241 1909 236.5 1914.5 232 1920.5 223 1922.5 215.5 1922.5 208.5 1920.5 200 1917 192.5 1913.5 187 1909 180.5 1897.5 167 1886 155.5 1879 150 1867.5 144.5 1862.5 143 1851 137 1835 127 1826 123.5 1814.5 121.5 1807.5 121.5 1793.5 124 1789 124 1782 122.5 1773 118 1768.5 117 1766 117 1763.5 118 1750 126 1745 127 1740.5 127 1729 124.5 1724.5 124.5 1719.5 125.5 1713 129 1709 132.5 1704 139.5 1698 155.5 1693.5 179 1691.5 195 1692 209.5 1695.5 220.5 1699 226 1704 232 1710.5 237 1723.5 243.5 1740.5 248.5 1750.5 250.5 1768 252.5Z" fill="#fff6f6"/>
<path d="M1770.5 250.5 1791.5 252 1826 251.5 1860.5 248.5 1879 245 1895 239.5 1902 235.5 1909 230 1915 220.5 1917 213.5 1917 208.5 1915.5 202 1913.5 196.5 1907.5 185.5 1902 178 1892.5 167 1879 154.5 1872 150.5 1858 144.5 1836.5 132.5 1828 129.5 1812 126.5 1789 127.5 1782 126 1770.5 122 1766 122 1747.5 130.5 1745 131 1731.5 130.5 1722.5 132.5 1717.5 135.5 1713 139.5 1708.5 146.5 1704 158 1700 174 1697 195 1697 204 1699 214.5 1701.5 220.5 1706 226.5 1711.5 232 1722 238.5 1736 244 1750 247.5 1769.5 250.5Z" fill="#ffe4e4"/>
<path d="M1773 248 1786.5 249.5 1828 249 1858 246 1879 241.5 1892.5 236 1902 229.5 1906 225 1910 218 1911 213.5 1911 206.5 1909.5 199.5 1906.5 192.5 1897.5 178.5 1887.5 167 1873.5 155.5 1841.5 139.5 1828 134.5 1819.5 132.5 1807.5 131 1796 131.5 1786.5 131 1770.5 127 1763.5 127.5 1747.5 134.5 1731.5 137 1731.5 137.5 1726 139.5 1720 144 1714.5 151 1708 167 1706 174 1704 185.5 1703.5 185.5 1702.5 195 1702.5 204 1703.5 211 1704 211 1707.5 220.5 1713 227 1722 234 1733.5 239.5 1745.5 243.5 1756.5 246 1771 248Z" fill="#ffd1d1"/>
<path d="M1773 245.5 1784.5 247 1796 247.5 1821 247 1849 244.5 1872 240 1883.5 236 1891 232 1897.5 227 1899.5 225 1904 218 1905.5 211 1905.5 206.5 1904 199.5 1901.5 192.5 1897.5 185.5 1890.5 176 1882 167 1867.5 156.5 1841.5 144 1830.5 140 1809.5 136 1786.5 135 1773 132 1763.5 132.5 1750 138.5 1733 144 1729 146.5 1722 153.5 1717 162.5 1711.5 176.5 1708 192.5 1708 204 1708.5 208.5 1710.5 215 1717.5 225 1722 229 1735 236.5 1747.5 241 1763.5 244.5 1772.5 245.5Z" fill="#ffbfbf"/>
<path d="M1775 243.5 1791.5 245 1814.5 245 1830.5 244 1853.5 241 1872 236.5 1883.5 231.5 1890.5 227 1896.5 220.5 1899.5 213.5 1900 204 1897.5 195 1890.5 182.5 1879 169.5 1867.5 161 1847 151 1827 144 1807.5 140.5 1786.5 139 1773 137 1768.5 137 1763.5 138 1756.5 140.5 1738.5 149 1730 155.5 1722 167 1715.5 183.5 1713.5 195 1713.5 206.5 1715.5 213.5 1718 218 1722 223 1729 229 1745 237 1760.5 241 1774 243.5Z" fill="#ffadad"/>
<path d="M1777.5 241 1789 242.5 1823.5 242 1849 239 1849 238.5 1856 237.5 1867.5 234.5 1879 229.5 1885.5 225 1890.5 220 1894 213.5 1895 206.5 1893 197 1887.5 185.5 1878 174 1869.5 167 1862.5 163 1847 155.5 1833 150.5 1812 146 1780 142.5 1768.5 142.5 1763.5 143.5 1747.5 151 1737.5 158 1729.5 167 1724.5 176 1722 181.5 1719.5 190.5 1718.5 199.5 1719 206.5 1722 215 1726 220.5 1730.5 225 1742 232 1752 236 1763.5 239 1776 241Z" fill="#ff9b9b"/>
<path d="M1780 239 1789 240 1816.5 240 1837.5 238 1849 236 1864 232 1874 227.5 1879 224.5 1883.5 220.5 1887 215.5 1889 211 1889.5 206.5 1888 197 1885 190.5 1879 181.5 1871.5 174 1865.5 169.5 1856 164 1844.5 159 1828 154 1807.5 150 1793.5 148.5 1777.5 147.5 1770.5 148 1760 151 1752 155 1742 162.5 1733.5 172 1727.5 183.5 1725 192.5 1724 199.5 1725 208.5 1729 217 1736 224 1750 232 1765 236.5 1775 238.5 1778 238.5Z" fill="#ff8989"/>
<path d="M1782 236.5 1800.5 238 1816.5 237.5 1835 235.5 1846.5 233.5 1856 231 1867.5 226.5 1877 220.5 1881 215.5 1883 211 1884 206.5 1882.5 197 1876.5 185.5 1867.5 176.5 1858 170 1852 167 1833 160 1812 155.5 1789 153 1777.5 153 1766 155 1756.5 159 1747.5 165.5 1740.5 172.5 1733.5 183.5 1731 190.5 1729.5 199.5 1730 206.5 1732.5 213.5 1738 220.5 1740.5 222.5 1747.5 227 1759 231.5 1759 232 1770.5 235 1780 236.5Z" fill="#ff7676"/>
<path d="M1784.5 234.5 1814.5 235 1839 232 1856 227.5 1856 227 1860.5 225.5 1869.5 220.5 1876 213.5 1878 206.5 1878 202 1877 197 1875 192.5 1867.5 182.5 1856 174 1844.5 168.5 1830.5 164 1814.5 160.5 1793.5 158 1780 158 1773 159 1763.5 162 1755 167 1745 176 1741.5 181 1737 190.5 1735 199.5 1735.5 206.5 1737 211 1740.5 216.5 1745 221 1756.5 227.5 1770 232 1782.5 234Z" fill="#ff6464"/>
<path d="M1786.5 232 1791.5 232.5 1819 232 1830.5 230.5 1844.5 227.5 1844.5 227 1852 225 1861.5 220.5 1867.5 215.5 1870.5 211 1872 206.5 1871.5 199.5 1867.5 190.5 1860.5 183 1856 179.5 1844.5 173.5 1826 167.5 1807.5 164 1798 163 1782 163 1770.5 165.5 1766 167 1761.5 169.5 1755 174 1748.5 181 1744 188 1741 197 1741 204 1743 211 1745 214.5 1752 221 1759.5 225 1770.5 229 1786 232Z" fill="#ff5252"/>
<path d="M1793.5 229.5 1796 230 1814.5 229.5 1823.5 228.5 1842 224.5 1849 222 1856 218.5 1863.5 211 1865 206.5 1865 201.5 1864 197 1861.5 192.5 1855 185.5 1848.5 181 1830.5 173.5 1809.5 169 1796 167.5 1789 167.5 1777.5 169 1765 174 1759 178 1752 185.5 1747 197 1747 204 1749 211 1750.5 213.5 1758.5 220.5 1768.5 225 1775 227 1791.5 229.5Z" fill="#ff4040"/>
<path d="M1782 225 1796 227 1807.5 227 1824.5 225 1837.5 222 1849 217 1853.5 213.5 1857 208.5 1858 204 1856.5 197 1853.5 192.5 1845.5 185.5 1833 179.5 1821 176 1811.5 174 1798 172.5 1789 172.5 1779.5 174 1768.5 178.5 1764.5 181 1759.5 185.5 1756.5 189.5 1754 195 1753 199.5 1753 204 1754.5 209 1756.5 212.5 1759.5 215.5 1767 220.5 1781 225Z" fill="#ff2e2e"/>
<path d="M1789 223 1809.5 223.5 1819 222.5 1828.5 220.5 1835.5 218 1844 213.5 1846.5 211 1849 206.5 1849 201 1847.5 197 1844.5 193 1833 185.5 1816.5 180 1800.5 177.5 1786.5 178 1775 181.5 1768.5 185.5 1763.5 191 1760.5 197 1760 199.5 1760.5 206.5 1762.5 211 1766 214.5 1770.5 217.5 1777.5 220.5 1787 222.5Z" fill="#ff1b1b"/>
<path d="M1786.5 218.5 1796 220 1805 220 1814.5 219 1823.5 217 1830.5 214.5 1837.5 209 1839 206.5 1839 202 1836.5 197 1833 193.5 1828 190.5 1823 188 1815.5 185.5 1800.5 183 1789 183.5 1781.5 185.5 1777.5 187.5 1771.5 192.5 1768.5 197 1767.5 202 1768 206.5 1770.5 210.5 1774 213.5 1777.5 215.5 1784.5 218Z" fill="#ff0909"/>
</g></g>
<rect x="1482.4" y="25.9" width="502.6" height="296.5" fill="none" stroke="#000" stroke-width="1.6"/>
<line x1="1473.9" y1="322.4" x2="1482.4" y2="322.4" stroke="#000" stroke-width="1.5"/>
<text x="1465" y="331.4" font-size="26.2" text-anchor="end">1</text>
<line x1="1477.9" y1="273" x2="1482.4" y2="273" stroke="#000" stroke-width="1.5"/>
<line x1="1473.9" y1="223.6" x2="1482.4" y2="223.6" stroke="#000" stroke-width="1.5"/>
<text x="1465" y="232.6" font-size="26.2" text-anchor="end">2</text>
<line x1="1477.9" y1="174.1" x2="1482.4" y2="174.1" stroke="#000" stroke-width="1.5"/>
<line x1="1473.9" y1="124.7" x2="1482.4" y2="124.7" stroke="#000" stroke-width="1.5"/>
<text x="1465" y="133.7" font-size="26.2" text-anchor="end">3</text>
<line x1="1477.9" y1="75.3" x2="1482.4" y2="75.3" stroke="#000" stroke-width="1.5"/>
<line x1="1473.9" y1="25.9" x2="1482.4" y2="25.9" stroke="#000" stroke-width="1.5"/>
<text x="1465" y="34.9" font-size="26.2" text-anchor="end">4</text>
<line x1="1482.4" y1="322.4" x2="1482.4" y2="331.9" stroke="#000" stroke-width="1.5"/>
<line x1="1545.2" y1="322.4" x2="1545.2" y2="327.9" stroke="#000" stroke-width="1.5"/>
<line x1="1608.1" y1="322.4" x2="1608.1" y2="331.9" stroke="#000" stroke-width="1.5"/>
<line x1="1670.9" y1="322.4" x2="1670.9" y2="327.9" stroke="#000" stroke-width="1.5"/>
<line x1="1733.7" y1="322.4" x2="1733.7" y2="331.9" stroke="#000" stroke-width="1.5"/>
<line x1="1796.5" y1="322.4" x2="1796.5" y2="327.9" stroke="#000" stroke-width="1.5"/>
<line x1="1859.3" y1="322.4" x2="1859.3" y2="331.9" stroke="#000" stroke-width="1.5"/>
<line x1="1922.2" y1="322.4" x2="1922.2" y2="327.9" stroke="#000" stroke-width="1.5"/>
<line x1="1985" y1="322.4" x2="1985" y2="331.9" stroke="#000" stroke-width="1.5"/>
<text x="1441" y="174.1" font-size="29" text-anchor="middle" transform="rotate(-90 1441 174.1)">R + α (Å)</text>
<g clip-path="url(#cc1)"><g filter="url(#blr)">
<rect x="1462.4" y="319.1" width="542.6" height="336.8" fill="#0000ff"/>
<path d="M1459.5 660.5 2010 660.5 2010 647.5 1982.5 649 1934 649 1869.5 647 1819 647 1763.5 648.5 1692 648.5 1690 648 1653 648 1621 646.5 1515 645 1460 642 1457.5 642 1457.5 660.5ZM1609.5 635.5 1639.5 635 1685.5 632.5 1729 628.5 1812 624 1842 620.5 1858.5 617 1865.5 614.5 1874.5 610 1879 605.5 1885.5 593 1890.5 588 1899.5 582 1917.5 575 1925 573.5 1927 572.5 1941 570 1971 567 1982.5 567 1996.5 568 2010 571 2010 314.5 1821 314.5 1823.5 323.5 1825 337.5 1825.5 370 1824 388 1821.5 400 1819 405.5 1816.5 406 1814 402 1811.5 393 1809.5 376.5 1809 365 1809.5 340 1811.5 323.5 1814 314.5 1721 314.5 1722 356 1720.5 386 1718 404.5 1715.5 412 1713 412.5 1710.5 406 1708.5 381.5 1708.5 346.5 1710 314.5 1658.5 314.5 1661 360.5 1660.5 402 1658 418 1655.5 423 1653 424 1651 422.5 1648.5 416 1647.5 411.5 1646 393 1646.5 346.5 1648 321.5 1649 314.5 1480 314.5 1481.5 326 1481 337.5 1479 349 1475.5 360.5 1471 370 1467 374.5 1462 376.5 1459.5 376 1457.5 374 1457.5 631 1498.5 630.5 1545 632.5 1572.5 634.5 1608 635Z" fill="#1515ff"/>
<path d="M1572.5 626 1602.5 628 1646 628 1685.5 626 1733.5 621 1755.5 617 1761.5 615 1770.5 608.5 1775 607 1782 607 1796 609.5 1809.5 609 1821 606.5 1833 601.5 1837.5 598.5 1851 587 1860.5 580.5 1871 575 1890.5 568 1915.5 562 1943.5 557 1987 551 2010 549 2010 314.5 1829 314.5 1829.5 365 1828.5 381.5 1826.5 400 1823.5 413.5 1821 420 1818 423 1816.5 423 1814 420.5 1812 416.5 1809.5 409 1807 395 1805 376.5 1804 358 1804 328 1805 314.5 1724 314.5 1724 353.5 1722.5 386 1720.5 404.5 1717.5 418.5 1715.5 423.5 1713 424 1710.5 420.5 1708.5 411.5 1707 393 1706.5 356 1707.5 314.5 1661.5 314.5 1663 360.5 1662.5 403.5 1661.5 413.5 1659.5 423 1657 427.5 1653.5 430 1650 427.5 1647.5 423 1646 417 1644.5 402 1644 374.5 1645.5 314.5 1596 314.5 1596 342 1595.5 349 1593 360 1590.5 356 1588.5 345 1585.5 314.5 1502.5 314.5 1494.5 351.5 1488 374.5 1487 376 1480.5 396.5 1474.5 411.5 1469 422.5 1462 433 1457.5 437.5 1457.5 613.5 1487 616.5 1528.5 622 1571 626Z" fill="#2323ff"/>
<path d="M1602.5 624 1634.5 624.5 1671.5 623 1704 620 1731.5 616 1743 612.5 1748.5 610 1756 605 1761.5 603 1772 600.5 1798 598.5 1812 595 1827.5 587 1844.5 575.5 1846.5 573.5 1858.5 566 1863 563.5 1872 560 1892.5 555 1936.5 547.5 1971 540 1994 533 2008 527 2010 525.5 2010 327 2001.5 314.5 1927 314.5 1927.5 346.5 1925.5 374.5 1924.5 381.5 1922.5 388.5 1920.5 393.5 1918 394.5 1915.5 392 1913.5 386 1910.5 367.5 1909.5 349 1910 314.5 1836.5 314.5 1834.5 337.5 1833 371.5 1829 409 1826 424 1824 430 1819 435 1816.5 435 1811.5 430 1808 423 1806.5 418 1801.5 393 1798 363 1794.5 340 1791.5 328 1787 314.5 1726.5 314.5 1725.5 363 1724.5 381.5 1722 406.5 1720 419.5 1718.5 425 1716 430 1713 431.5 1710.5 429.5 1708 423 1706 409 1705 386 1705.5 314.5 1664 314.5 1664.5 328 1664.5 402 1664 409 1662.5 421.5 1660.5 427.5 1657.5 432 1655.5 433.5 1653 434 1649.5 432 1646 426 1643.5 413.5 1642.5 395 1643 314.5 1600.5 314.5 1600 351.5 1598 386 1595.5 400.5 1593 403.5 1590.5 397.5 1588.5 388.5 1579.5 337.5 1575 324 1572.5 320 1568 315.5 1566 314.5 1535.5 314.5 1531 317 1524 323 1520 328 1512 342 1507 353.5 1502 367.5 1494 395 1488 423 1486 439 1486.5 462 1489.5 476 1492 483 1487 485.5 1457.5 495 1457.5 595 1469 600.5 1489.5 607.5 1522 615 1542.5 618.5 1563 621 1593 623.5 1601 623.5Z" fill="#3232ff"/>
<path d="M1579.5 619 1595.5 620.5 1621 621.5 1660 620.5 1683 619 1701 617 1717.5 614.5 1731.5 611.5 1738.5 609 1746 605 1757 600.5 1768.5 598 1791.5 595 1800.5 593 1812 588.5 1826 580.5 1844.5 567 1848 563.5 1862.5 552.5 1874 547 1882.5 545 1920.5 539 1943.5 534 1943.5 533.5 1950 532 1962 527.5 1973.5 522.5 1977.5 520 1985 514.5 1991 508.5 1996.5 501.5 2001 492.5 2003.5 485 2007 469 2008 460 2008 434.5 2006 418 2002.5 402 1996.5 383.5 1991.5 372 1985 360 1973.5 344 1962 332 1950 323.5 1945.5 322.5 1941 324.5 1938.5 328 1934.5 344.5 1930 381.5 1926.5 400 1922 411.5 1920.5 413 1918 414 1915.5 412 1912 404.5 1911 400.5 1907 379 1902 332.5 1899.5 321.5 1897.5 316 1896 314.5 1867.5 314.5 1863 316.5 1851 324.5 1846.5 330.5 1843.5 337.5 1839.5 355.5 1834.5 400 1829.5 430 1826 439 1823.5 441.5 1819 443 1815 441.5 1809.5 436.5 1805 429.5 1802 423 1794.5 397.5 1786.5 375 1783.5 363 1780 342 1777 314.5 1728.5 314.5 1727 366 1724 404.5 1722.5 416 1719.5 430 1717 434.5 1715.5 436 1713 436.5 1710.5 435.5 1707.5 430 1705.5 423 1704.5 413.5 1703.5 390.5 1703.5 314.5 1666.5 314.5 1666 409 1665 418 1662.5 429 1660 433.5 1657.5 436 1655.5 437.5 1653 438 1648.5 435 1646 431.5 1643 423 1641.5 411.5 1641 402 1641 314.5 1603.5 314.5 1600.5 413.5 1598 423.5 1595.5 427 1591 429.5 1588.5 429.5 1586.5 427.5 1586.5 420.5 1584 397.5 1581 379 1575.5 358 1572.5 352.5 1567.5 346.5 1561 343 1556.5 341.5 1547 341 1540 342.5 1535.5 344.5 1528.5 349.5 1524.5 353.5 1517 364.5 1510.5 379 1505.5 395 1503 406.5 1501 423 1501 436.5 1502 446 1505.5 460 1509.5 469 1514 476 1513.5 478.5 1505 483 1471 496.5 1458 503.5 1457.5 504.5 1457.5 582 1463.5 587 1475.5 594 1501 604.5 1521 610 1542.5 614.5 1558.5 617 1579.5 619Z" fill="#4040ff"/>
<path d="M1586.5 617 1607 618.5 1646 618.5 1690 615.5 1723 610 1731.5 607.5 1748.5 600.5 1756.5 598 1784.5 593.5 1798 590 1814.5 582.5 1830.5 572 1848 557 1862.5 542.5 1871 536 1876 533.5 1888 531 1909 528 1932 522.5 1939.5 520 1952.5 513.5 1959.5 508.5 1966.5 501.5 1971 495 1977.5 480.5 1981 464.5 1982 453 1982 441.5 1981 430 1979 418 1971.5 395 1962 378 1952.5 366.5 1950.5 365 1945.5 363.5 1943.5 364.5 1941 367.5 1937.5 376.5 1928 418 1922.5 430 1920.5 431.5 1918 432 1915.5 430.5 1913.5 427 1911.5 423 1908.5 413.5 1904.5 395 1899.5 365 1898.5 363 1897.5 357 1895 351 1892.5 347.5 1890.5 346 1885.5 344.5 1881 345.5 1874 348 1862.5 354.5 1858 358 1851 365.5 1845.5 376.5 1839.5 402 1835 430 1831.5 441.5 1828 446 1825 448.5 1823.5 449 1817 448.5 1813 446 1808 441.5 1796.5 427.5 1792 420.5 1786.5 407 1782 389 1778.5 370 1775 342 1772.5 314.5 1731 314.5 1728.5 367.5 1724.5 413.5 1723 423 1720 434.5 1715.5 440 1713 440.5 1710.5 439.5 1708.5 437.5 1705.5 432 1703.5 423 1702 395 1702 319 1701.5 314.5 1668.5 314.5 1668 404.5 1667 419 1666 425 1662.5 434 1660 437.5 1655.5 440.5 1653 441 1649 439 1646 435.5 1643 430 1640.5 420.5 1639.5 409 1639 314.5 1606 314.5 1604.5 353.5 1603.5 416 1602 423 1600 427.5 1598 431 1593.5 434.5 1581.5 436 1579.5 435.5 1579 434.5 1579 413.5 1577.5 400 1575 387.5 1570.5 376.5 1568 373 1563 368.5 1556.5 365 1551.5 364 1543.5 365 1538 367.5 1533.5 370.5 1527.5 376.5 1524 382 1521 388 1517 399.5 1515 409 1514 418 1514 427.5 1517 444 1518.5 448.5 1523.5 457.5 1528.5 463.5 1533.5 467.5 1533.5 469.5 1531 470.5 1530.5 471.5 1520.5 478.5 1512.5 483 1498.5 490 1494 491.5 1492 493 1483 496.5 1470 503.5 1462 509.5 1457.5 514 1457.5 572 1465.5 580 1478 588.5 1487 593.5 1508 602 1526.5 607.5 1547 612 1558.5 614 1584.5 617Z" fill="#4e4eff"/>
<path d="M1588.5 614.5 1604.5 616 1637 616.5 1674 614.5 1697 612 1722 607 1752 597 1766 594 1780 592 1797.5 587 1814.5 578.5 1829 568.5 1837 561.5 1849 549 1856 540.5 1867.5 524.5 1874 517.5 1881 514.5 1895.5 513 1904 511 1911 508.5 1911 508 1927 501 1932 499.5 1939.5 494.5 1944 490 1948 484.5 1953 473.5 1955 466 1957 448.5 1956.5 439 1955 429 1952.5 420.5 1949.5 413.5 1945.5 409.5 1943.5 409.5 1941 411.5 1938.5 415.5 1931 439 1926 450.5 1922.5 455 1920.5 456 1918 455.5 1915 453 1909.5 441.5 1906 430 1902.5 413.5 1896.5 390.5 1892.5 382.5 1888 379 1883.5 379 1874.5 383.5 1868.5 388 1862.5 394 1853.5 406.5 1850 413.5 1845 427.5 1841 441.5 1836.5 448.5 1830.5 453 1823.5 455 1821 455 1816.5 453.5 1810 448.5 1797.5 436.5 1789.5 430 1786.5 425.5 1783.5 418 1779 397.5 1775 372 1769 314.5 1733 314.5 1729 381.5 1724.5 425 1723.5 430 1720 438.5 1718 441.5 1715.5 443 1713 443.5 1710.5 443 1708.5 441.5 1705 436.5 1704 434.5 1701.5 423 1700.5 402 1700 314.5 1670.5 314.5 1669.5 340 1669.5 413.5 1668.5 423 1667 429 1662.5 438 1659.5 441.5 1653 444 1648 441.5 1643 434.5 1639.5 425 1638 416 1637.5 328 1636.5 314.5 1608.5 314.5 1606.5 356 1606.5 411.5 1604.5 425 1602.5 430 1599.5 434.5 1593 439 1577 442 1570 445 1565.5 448.5 1563 449.5 1526 478.5 1510.5 488 1487 499.5 1475.5 506.5 1470 510.5 1464 516.5 1459.5 522.5 1457.5 526.5 1457.5 561.5 1460 566 1464 571 1474 580 1484.5 587 1494 592 1509 598.5 1524 603.5 1551.5 610 1575 613.5 1586.5 614.5ZM1545 446 1549.5 447 1554.5 446 1560.5 441.5 1565.5 432 1567 425 1567.5 416 1566 406.5 1564.5 402 1561 396 1556.5 391.5 1551.5 390 1545 390.5 1538.5 395 1535.5 399 1532 406.5 1530.5 413.5 1530.5 425 1531.5 430 1535.5 438.5 1540 443.5 1544.5 446Z" fill="#5c5cff"/>
<path d="M1586.5 612 1609.5 614 1644 614 1690 610.5 1713 606.5 1750 595.5 1784.5 588.5 1803 581.5 1823.5 568.5 1833 560.5 1844.5 548 1853.5 534.5 1859.5 522 1862.5 513 1864 506 1865 490 1864.5 485 1862.5 478.5 1859.5 473.5 1855.5 469 1849 464 1844.5 461.5 1837.5 460 1823.5 460.5 1816.5 458.5 1809.5 453 1803 446.5 1787 434.5 1783.5 430 1780.5 423 1775 393 1772 370 1766.5 314.5 1735.5 314.5 1733.5 334.5 1731 376.5 1726 425 1724.5 432 1720.5 441.5 1715.5 446 1713 446.5 1710.5 446 1705.5 441.5 1702 434.5 1700 425 1699 411.5 1699.5 349 1698 314.5 1672.5 314.5 1671 349 1671 376.5 1671.5 379 1671 420.5 1669 430 1667 435 1662.5 441.5 1660 444 1655.5 446.5 1650.5 446 1646 442.5 1642 436.5 1639 430 1636.5 420.5 1635.5 402 1636 342 1634.5 314.5 1611 314.5 1609.5 330.5 1608.5 353.5 1608.5 397.5 1609 400 1608.5 416 1606.5 427.5 1602.5 435.5 1596 441.5 1591 443.5 1577 446 1563 453.5 1524.5 483 1513.5 490 1501 496.5 1482.5 507.5 1471 517.5 1464.5 526.5 1461.5 533.5 1460 540.5 1460 550 1461 554.5 1464 561.5 1471 571 1475.5 575.5 1487 584 1505.5 593.5 1531 602.5 1547 606.5 1563 609.5 1586 612ZM1883.5 476.5 1888 478 1890.5 478 1895 476.5 1897.5 474 1899.5 466.5 1900 462 1899.5 455 1897.5 443 1895 435 1890.5 427 1888 426.5 1885.5 427 1880 432 1874.5 443.5 1872.5 453 1872.5 462 1874 467.5 1876.5 471.5 1881 475.5 1882.5 476Z" fill="#6a6aff"/>
<path d="M1586.5 610 1611.5 612 1641.5 612 1674 610 1687.5 608.5 1716 603 1750.5 593.5 1782 587 1782 586.5 1786.5 585.5 1800.5 579.5 1818 568.5 1833 555.5 1846 538.5 1852.5 524.5 1855.5 508.5 1855 499 1853.5 492 1851 485 1848.5 480.5 1844.5 475 1837.5 469.5 1821 465.5 1814.5 462 1803 451.5 1786.5 439.5 1782 434.5 1778.5 427.5 1775 411.5 1772.5 393 1765.5 326 1763.5 314.5 1738 314.5 1735.5 333 1731.5 388 1727 428.5 1725.5 434.5 1722.5 441.5 1717.5 447.5 1716 448.5 1713 449 1710 448.5 1706 445.5 1701.5 439 1698.5 430 1697.5 420.5 1698 349 1696.5 314.5 1674.5 314.5 1673 335 1673.5 413.5 1672.5 425 1671.5 430 1665.5 441.5 1662.5 445 1658 448.5 1653 449.5 1650 448.5 1646 445.5 1641 439 1636.5 430 1634.5 422 1633.5 411.5 1634 342 1632 314.5 1613.5 314.5 1612 326 1610.5 353.5 1611 418 1608.5 430 1604.5 437 1600 442 1595.5 445 1579.5 449 1566.5 455 1551.5 465.5 1531 482 1519.5 490 1494 505 1485 511.5 1475.5 520.5 1471 527 1466.5 538.5 1466 550 1467 554.5 1470 561.5 1473 566 1480.5 574 1487 579.5 1494 584 1505.5 590 1517 595 1528.5 599 1551.5 605 1585 610Z" fill="#7878ff"/>
<path d="M1614 610 1641.5 610 1660 609 1692 605.5 1720 599.5 1742.5 593.5 1774 587 1786.5 583 1796 579 1807.5 572.5 1822 561.5 1833 550 1841 538.5 1844.5 531.5 1847 524.5 1848.5 517.5 1849 506 1847.5 496.5 1842.5 485 1839.5 481 1833 475.5 1821 471.5 1816.5 469 1806 460 1803 456.5 1786.5 444.5 1781.5 439 1776.5 430 1774.5 423 1773 413.5 1763.5 328 1761 314.5 1740.5 314.5 1738 328 1732.5 393 1729 425 1727 435 1724.5 441.5 1720 448 1717.5 450 1713 451.5 1708.5 450 1703.5 446 1699 438.5 1696 427.5 1695.5 400 1696.5 374.5 1696.5 351.5 1694.5 314.5 1676.5 314.5 1674.5 342 1674.5 383.5 1675.5 406.5 1675 423 1673 432 1667 443 1662.5 448 1655.5 452 1651 451.5 1644 446 1636 434.5 1632.5 425 1631 411.5 1632 388 1632 344.5 1629.5 316.5 1629 314.5 1616.5 314.5 1614 330.5 1612.5 358 1613.5 420.5 1612 427.5 1609.5 434 1602.5 443.5 1598 447 1588.5 450.5 1584 451 1577 453 1570 456.5 1551.5 469 1522 492 1494 510 1481 522 1475.5 530.5 1472.5 538.5 1471.5 545 1471.5 550 1473.5 557 1475.5 561.5 1480.5 568.5 1485 573 1498.5 583 1519.5 593 1535.5 598.5 1547 601.5 1577 607 1595.5 609 1613 610Z" fill="#8787ff"/>
<path d="M1607 607.5 1641.5 608 1680.5 605 1697 602.5 1731.5 594.5 1733.5 593.5 1768.5 586.5 1784.5 581.5 1791.5 578.5 1808.5 568.5 1822 557 1830 547.5 1836 538.5 1841 526.5 1843 517.5 1842.5 503.5 1841.5 499 1837.5 490 1833 484.5 1816.5 475 1803 462 1786.5 449.5 1779.5 441.5 1774 430 1771.5 418 1767.5 386 1762.5 337.5 1760 321.5 1758 314.5 1743 314.5 1739 337.5 1730.5 425 1727 439.5 1722 448.5 1717.5 452.5 1713 454 1710.5 453.5 1703 448.5 1698 441.5 1695 434.5 1693.5 427.5 1693 413.5 1694.5 386 1694.5 340 1692 314.5 1679 314.5 1678 319 1676 351.5 1676 374.5 1677.5 402 1677.5 423 1677 427.5 1674 436 1671 441.5 1665 448.5 1660 452.5 1655.5 454.5 1651 454 1646 451 1634.5 436.5 1630 427.5 1628 418 1628 406.5 1630 374.5 1629.5 344.5 1628.5 333 1625.5 318.5 1623 315 1620.5 316.5 1618.5 323 1615.5 344.5 1615 379 1617 406.5 1616.5 423 1616 423 1616 425 1614 430.5 1609.5 438.5 1607.5 441.5 1600.5 448.5 1598 450 1590.5 453 1577 456.5 1568 461 1559.5 466.5 1531 489 1505.5 506.5 1494.5 515 1487 522.5 1481 531.5 1479 536 1477 545 1477 550 1478.5 557 1482.5 564 1486 568.5 1490.5 573 1500 580 1512.5 587 1524 592 1542.5 598 1577 605 1606 607.5Z" fill="#9595ff"/>
<path d="M1602.5 605.5 1623 606.5 1644 606 1683 602.5 1705 598.5 1727 593 1768.5 584.5 1784.5 579 1803.5 568.5 1812.5 561.5 1819.5 554.5 1826 546.5 1831 538.5 1834 531.5 1837 520 1837 510.5 1835 501.5 1833 497 1829.5 492 1818 483 1809.5 475 1802 466.5 1789 456.5 1782 449.5 1775.5 439 1772.5 432 1769 413.5 1759.5 333 1757 321.5 1754.5 314.5 1747 314.5 1745 318.5 1740.5 342 1731.5 428 1729.5 436.5 1727 443 1724 448.5 1720 453 1715.5 455.5 1713 456 1710.5 456 1705 453 1700 448.5 1695.5 441.5 1691 430 1690 420.5 1693 374.5 1693 351.5 1692 333 1689 314.5 1682 314.5 1679.5 328 1678 349 1678 376.5 1680.5 411.5 1680.5 425 1679.5 430 1676.5 436.5 1674 441 1668 448.5 1662.5 453.5 1657.5 456.5 1653 457 1648.5 455.5 1641 448.5 1630 434.5 1625.5 427.5 1623 425.5 1621 426.5 1618.5 429.5 1610.5 441.5 1604 448.5 1598 453 1588.5 456.5 1577 459.5 1563 467.5 1540 485 1534.5 490 1522 499.5 1517 502.5 1498.5 517 1490 526.5 1487 531 1484 538.5 1482.5 544.5 1482.5 552.5 1483.5 557 1487 563.5 1491 568.5 1496.5 573.5 1505.5 580 1518.5 587 1531 592 1547 597 1568 601.5 1581.5 603.5 1600 605ZM1623 397.5 1625.5 388 1626.5 376.5 1626 346.5 1625.5 342 1623 335.5 1621 337.5 1619 346.5 1618 360.5 1618.5 379 1621 395Z" fill="#a3a3ff"/>
<path d="M1595.5 603 1618.5 604.5 1632.5 604.5 1653 603.5 1678.5 601 1697 598 1715 593.5 1747.5 587 1750 587 1768.5 582.5 1782 577.5 1791 573 1802 566 1812.5 557 1818.5 550 1824.5 540.5 1828.5 531.5 1830.5 522 1830.5 513 1827.5 503.5 1823 496.5 1809 480.5 1800.5 471.5 1787 460 1781 453 1776.5 446 1773 439 1770.5 432 1768.5 420.5 1768 420.5 1765.5 395 1758.5 342 1756 330.5 1752 322.5 1750 322 1746 328 1742.5 344.5 1733.5 425 1731.5 435 1727 446.5 1720 455.5 1715.5 458 1713 458.5 1708.5 457.5 1704.5 455 1697.5 448.5 1692.5 441.5 1687.5 432.5 1685.5 431 1683 432.5 1677 441.5 1666.5 453 1660 458 1653 460 1646 456.5 1627.5 436.5 1625.5 435 1621 434.5 1616 438.5 1607.5 448.5 1600 454.5 1593 458 1581.5 461 1572.5 465 1558.5 474 1533.5 494.5 1530 496.5 1507 515 1499.5 522 1492.5 531.5 1488.5 540.5 1487.5 545 1487.5 552 1488.5 557 1496 568.5 1505.5 576.5 1511 580 1525 587 1545 594 1565.5 599 1577 601 1595.5 603ZM1685.5 406 1688 400 1690.5 376.5 1690.5 346.5 1688 328 1685.5 324 1683 328 1680.5 345.5 1680.5 378.5 1682.5 397.5 1685 404.5Z" fill="#b1b1ff"/>
<path d="M1593 601 1614 602.5 1637 602.5 1674 599.5 1685.5 598 1722 590 1740.5 587 1740.5 586.5 1743 586.5 1759 583 1769.5 580 1775.5 577.5 1793.5 568.5 1803 561.5 1814.5 549 1820.5 538.5 1823 531.5 1824 524.5 1824 517.5 1822.5 510.5 1819 502.5 1807.5 486 1803 480.5 1786 464.5 1780.5 457.5 1775 448.5 1772 441.5 1768.5 432 1767 425 1764 397.5 1757.5 351.5 1754.5 339 1752 334.5 1750 334 1749 335 1747.5 337.5 1745 345 1740.5 374.5 1735 425 1732.5 436.5 1731 441.5 1727 449.5 1724.5 453 1717.5 459.5 1710.5 460.5 1706 458.5 1699 453 1694.5 448.5 1690 442.5 1685.5 439.5 1683 440 1680.5 441.5 1674 449 1662.5 459 1657.5 462 1653 462.5 1647 460 1632.5 445 1628 441.5 1625.5 440 1623 439.5 1621 440 1616 443 1609.5 449.5 1600 457.5 1595.5 460 1581.5 464 1575.5 466.5 1563 474 1517 511 1505.5 522 1498.5 530.5 1494 540 1492.5 547.5 1492.5 552 1493.5 557 1495.5 561.5 1501 568.5 1505.5 572.5 1516.5 580 1525.5 584.5 1547 592.5 1565.5 597 1584 600 1591 600.5ZM1685.5 370.5 1686 367.5 1685.5 352.5 1684.5 360.5 1685 370Z" fill="#bfbfff"/>
<path d="M1618.5 600.5 1639.5 600.5 1674 597.5 1690 595 1715.5 589 1738.5 585.5 1762.5 580 1780 573 1791.5 566.5 1803 557 1812 545 1816 536 1818 526.5 1818 520 1816 510.5 1813 503.5 1806 492 1796.5 480.5 1786.5 471 1781.5 464.5 1775 453.5 1770.5 443 1767.5 434.5 1764.5 420.5 1762.5 400 1758.5 372 1754.5 353 1752 348 1750 347 1748.5 349 1745 359.5 1740.5 388 1736.5 425 1733.5 439 1727 452.5 1720 460 1715.5 462.5 1713 463 1706 461 1699 456 1690 447 1685.5 444.5 1680.5 446 1674 452.5 1662.5 462 1658 464.5 1653 465 1650.5 464.5 1646 462 1639.5 455 1630 446.5 1625.5 444 1623 443.5 1621 444 1616 446.5 1607 455 1600.5 460 1591 464.5 1577 469 1569 473.5 1553 485 1517.5 515 1507 526.5 1502 533.5 1498.5 541.5 1497 550 1498.5 558 1506 568.5 1512.5 574 1522 580 1540 588 1563 594.5 1587.5 598.5 1602.5 600 1618.5 600.5Z" fill="#cdcdff"/>
<path d="M1609.5 598.5 1632.5 599 1674 595.5 1696 591.5 1717.5 586.5 1736 584 1755 580 1763.5 577.5 1774.5 573 1789 564.5 1798 557 1804 550 1807 545 1811 536 1812.5 529 1812.5 520 1811 513 1808.5 506 1803.5 496.5 1794.5 485 1786.5 477 1782 471 1775.5 460 1770.5 448.5 1765.5 434.5 1763.5 425 1759 388 1754.5 367 1752 361.5 1750 361 1747.5 365 1744.5 376.5 1740.5 402 1738.5 423 1736.5 434.5 1731.5 447.5 1728.5 453 1723 460 1720 462.5 1715.5 465 1708.5 464.5 1700.5 460 1690 451 1687.5 449.5 1683 449 1680.5 450 1676 453.5 1662.5 465 1657.5 467.5 1653 468 1646 464.5 1639.5 458 1630 450 1627.5 448.5 1621 447.5 1616 450 1609.5 456 1598 464.5 1574.5 473.5 1557.5 485 1522.5 515 1512 526.5 1508.5 531.5 1505.5 536.5 1502.5 545 1502 552 1503 557 1505 561.5 1508.5 566 1517 573.5 1528.5 580.5 1544 587 1554 590 1565.5 593 1579.5 595.5 1607.5 598.5Z" fill="#dcdcff"/>
<path d="M1602.5 596 1611.5 597 1637 597 1674 593.5 1717.5 584.5 1733.5 582.5 1746.5 580 1763.5 575 1777.5 568.5 1791.5 558.5 1799 550 1803 543.5 1807 531.5 1807.5 524.5 1805.5 513 1803 506 1797.5 496.5 1783 478.5 1775 465 1767.5 446 1762.5 430 1759 402 1754.5 380.5 1752 375.5 1750 374.5 1747.5 379 1745 387.5 1741.5 409 1740 425 1736 441.5 1731.5 451 1727 458 1720 465 1715.5 467.5 1710.5 467.5 1699 461.5 1691 455 1687.5 453.5 1683 453 1676 457 1662.5 468 1657.5 470 1653 470.5 1646 467.5 1632.5 455 1627.5 452 1623 451 1618.5 452 1598 467.5 1577 475.5 1562 485 1532 510.5 1524 518.5 1515 529 1512 533.5 1508 543 1506.5 552 1507.5 557 1509.5 561.5 1510.5 562 1513 566 1521 573 1533 580 1550.5 587 1570 592 1588.5 595 1600.5 596Z" fill="#eaeaff"/>
<path d="M1595.5 593.5 1609.5 595 1627.5 595.5 1662.5 593 1683 590 1708.5 584 1733.5 580.5 1748 577.5 1761.5 573.5 1773 568 1784.5 560 1788 557 1794 550 1798 543 1800.5 536.5 1802 529 1802 522 1801 515 1799.5 510.5 1795 501.5 1792 496.5 1782 483.5 1775 471.5 1773 466.5 1762.5 436.5 1759 420.5 1757 404.5 1755 395 1751.5 388 1749.5 388 1747 393 1745 400.5 1741.5 427.5 1738.5 439 1731.5 454 1727.5 460 1720 467.5 1717.5 469 1713 470 1708.5 469 1704 467 1689 457.5 1683 456.5 1676 460.5 1662.5 471 1657.5 473 1653 473.5 1646 470.5 1639.5 464 1630 456.5 1625.5 454.5 1621 454.5 1616 457 1598 470.5 1577 479 1565.5 486 1544 503.5 1528.5 518.5 1521.5 526.5 1515.5 536 1513.5 540.5 1512 545 1511 552 1513 559 1520 568.5 1531 576 1547 583.5 1570 590 1584 592.5 1595 593.5Z" fill="#f8f8ff"/>
<path d="M1591 591.5 1614 593.5 1634.5 593.5 1648.5 592.5 1674 589.5 1710.5 581.5 1733.5 578.5 1750 575 1766.5 568.5 1777.5 561.5 1785 554.5 1791.5 545.5 1795.5 536 1797 526.5 1796 517 1791.5 505 1777.5 483 1770.5 466.5 1758.5 430 1754.5 408 1752 402 1750 401 1747.5 405.5 1742 434.5 1736.5 448.5 1727 463.5 1720 470.5 1715.5 472.5 1710.5 472.5 1703 469 1692 462 1685.5 460 1680.5 461 1662.5 474 1658 476 1653 476.5 1646 473.5 1638.5 466.5 1630 460 1625.5 458 1621 458 1616 460 1607 467.5 1598 473.5 1581.5 480 1572 485 1565.5 489.5 1551.5 500.5 1528.5 523.5 1521.5 533.5 1518 540.5 1515.5 550 1517 558.5 1522.5 566 1533.5 574.5 1549.5 582 1565.5 587 1577 589.5 1591 591.5Z" fill="#fff6f6"/>
<path d="M1591 589 1602.5 590.5 1618.5 591.5 1644 590.5 1673.5 587 1713 578.5 1738.5 575 1752 571 1761.5 567 1773 559.5 1780 552.5 1784.5 546 1788 538.5 1790 529 1790 522 1789 517 1788 513 1784 503.5 1775 487 1770.5 476 1760.5 443.5 1752 423.5 1750 423 1748.5 425 1739 448.5 1729.5 464.5 1722 472.5 1715.5 476 1712.5 476 1706 474 1690 465 1683 464.5 1678.5 466.5 1662.5 478 1657.5 480 1653 480.5 1648 478.5 1633.5 466.5 1630 464.5 1625.5 462.5 1621 462.5 1616 464.5 1598 477.5 1577 486.5 1565.5 494 1551.5 505.5 1539.5 517.5 1530 529 1527 533.5 1524 540 1522 547.5 1521.5 547.5 1521.5 554.5 1522 557 1524.5 561.5 1528.5 566.5 1531 568.5 1540 574.5 1547 578 1568 585 1576.5 587 1591 589Z" fill="#ffe4e4"/>
<path d="M1621 589 1641.5 588.5 1667 585.5 1685.5 582 1706 577 1722 575 1738.5 572 1750 568.5 1759 564 1768.5 557 1773 552.5 1780 541.5 1782.5 533.5 1783 531.5 1782.5 517.5 1780 509 1770.5 486.5 1760 450.5 1756 441.5 1752.5 436.5 1749.5 436.5 1747 439 1738.5 455 1731.5 466 1727.5 471.5 1719.5 478.5 1715.5 479.5 1710.5 479.5 1707.5 478.5 1694.5 471 1689 469 1685.5 468.5 1680.5 470 1667 479.5 1660.5 483 1657.5 484 1653 484 1649.5 483 1646 481 1632.5 470 1625.5 467 1621 467 1616 469 1603.5 478.5 1595 483 1579.5 489.5 1568 496.5 1551.5 510.5 1540 523 1535.5 529 1533.5 533 1532.5 533.5 1528.5 542.5 1526.5 552 1527.5 557 1530 561.5 1537 568.5 1544 573 1551.5 576.5 1558.5 579.5 1570 583 1591 587 1611.5 589 1619.5 589Z" fill="#ffd1d1"/>
<path d="M1616 587 1630 587 1644 586 1667 583 1702 575 1727 571.5 1736 569.5 1750 564.5 1754.5 562 1761.5 557 1766 552.5 1768.5 549.5 1773 541.5 1775 536 1776.5 526.5 1776 517.5 1773 506 1766 485 1759 457.5 1754.5 447.5 1752 445 1747.5 446 1745 449 1738.5 461 1727 477 1720 482.5 1717.5 483.5 1715.5 484 1710.5 483.5 1700.5 478.5 1697 476 1690.5 473.5 1685.5 473 1680.5 474.5 1662.5 486.5 1657.5 488 1653 488 1646 485 1632.5 474.5 1623 471.5 1616 473.5 1600 484.5 1591 489 1584 491.5 1575 496.5 1565 503.5 1551.5 516 1542.5 526.5 1534.5 540.5 1533.5 545 1533 545 1532 552 1533 557 1535.5 561.5 1543 568.5 1547 571 1551.5 573.5 1565.5 579 1581.5 583 1593 585 1615.5 587Z" fill="#ffbfbf"/>
<path d="M1614 584.5 1634.5 584.5 1667 580.5 1699 573 1726.5 568.5 1736 566 1746.5 561.5 1754 557 1761.5 549 1766 541 1768.5 535 1770 526.5 1770 520 1768.5 510 1757.5 464.5 1754.5 457 1752 454 1750 453 1747.5 454 1745 456.5 1738.5 466.5 1738.5 467.5 1730.5 478.5 1727 482.5 1720 487.5 1713 488.5 1706 485.5 1694.5 479 1690 477.5 1685.5 477.5 1680.5 479 1664 490 1657.5 492 1653 492 1647.5 490 1634.5 480.5 1630 478 1625.5 476.5 1621 476.5 1614 479.5 1598 490 1581.5 497 1570 504.5 1563 510 1549.5 524.5 1540 540 1537.5 550 1538 555 1540 560 1549 568.5 1558.5 573.5 1568 577 1588.5 582 1613 584.5Z" fill="#ffadad"/>
<path d="M1611.5 582 1632.5 582.5 1651 580.5 1674 576.5 1697.5 570.5 1727 565 1738.5 561 1745.5 557 1750 553.5 1758 543 1761.5 535 1763.5 524.5 1763.5 517.5 1762 506 1755.5 473.5 1753 466.5 1750 463.5 1747.5 464 1745 465.5 1736.5 478.5 1731.5 484.5 1725.5 490 1720 493 1715.5 493.5 1710.5 492.5 1697 484.5 1690 482 1685.5 482 1678.5 485 1674 488.5 1662.5 495 1655.5 496.5 1648.5 494.5 1632.5 484 1623 481 1616 483 1598 494 1581.5 501.5 1568.5 510.5 1558.5 520 1553 526.5 1546 538.5 1543 547.5 1543 554.5 1545 559 1549.5 564 1555.5 568.5 1570 575 1591 580 1611 582Z" fill="#ff9b9b"/>
<path d="M1611.5 580 1627.5 580.5 1657.5 577 1722 562.5 1736 557 1739.5 554.5 1744.5 550 1750 543 1753.5 536 1756.5 524.5 1756.5 513 1753.5 492 1750 480.5 1747.5 478.5 1745 479 1740.5 483.5 1738.5 486.5 1729 495 1720.5 499 1715.5 499.5 1710.5 498 1699 490.5 1692.5 487.5 1685.5 487 1678.5 490 1667 497.5 1662.5 499.5 1657.5 500.5 1653 500.5 1646 497.5 1632.5 488.5 1627.5 486.5 1623 486 1617 487.5 1611.5 490 1602.5 496 1581.5 506 1577 509 1563 521 1558.5 526.5 1552.5 536 1549.5 543 1548 550 1548.5 554.5 1549.5 557 1552.5 561.5 1555 563.5 1562 568.5 1570 572 1579.5 575 1593 578 1609.5 580Z" fill="#ff8989"/>
<path d="M1609.5 577.5 1611.5 578 1632.5 578 1660 574 1713 561 1725 557 1731.5 553 1738.5 546 1742 540.5 1746 531.5 1747.5 524.5 1747.5 515 1746.5 510.5 1743 503.5 1740.5 502.5 1733.5 503.5 1722 506.5 1717.5 506.5 1710.5 504 1697 494.5 1690.5 492 1685.5 492 1676 496.5 1668.5 501.5 1662.5 504 1655.5 505 1648.5 503 1632.5 493 1625.5 491 1621 491 1616 492.5 1600 501.5 1588.5 507 1577 514 1568 522 1559 533.5 1554 546.5 1553.5 552 1555 557 1558.5 561.5 1569 568.5 1581.5 573 1595.5 576 1609 577.5Z" fill="#ff7676"/>
<path d="M1609.5 575.5 1627.5 576 1648.5 573.5 1667 569.5 1699 561 1715.5 555.5 1724 550 1729.5 543 1732 538.5 1734 529 1732 522 1729 519 1727 518 1720 516 1713.5 513 1697 500.5 1690 497.5 1685.5 497.5 1681.5 499 1671.5 505 1664 508.5 1660 509.5 1655.5 509.5 1650.5 508.5 1639.5 501.5 1629 496.5 1623 495.5 1618 496.5 1586.5 513 1577 519.5 1570 526.5 1565.5 532.5 1563 536.5 1559 547.5 1559 552 1560.5 557 1564.5 561.5 1572.5 566.5 1588.5 572 1604.5 575 1609 575Z" fill="#ff6464"/>
<path d="M1611.5 573 1630 573.5 1639.5 572.5 1659 568.5 1699 557 1706 554 1712 550 1715.5 546 1719 538.5 1718.5 531.5 1715.5 525.5 1704 512.5 1695.5 506 1690 503.5 1685.5 503.5 1678.5 506.5 1674 509.5 1664.5 513.5 1660 514.5 1655.5 514.5 1648.5 512 1632.5 502.5 1623 500.5 1616 502 1611.5 504 1593 514 1581.5 521.5 1576 526.5 1570.5 533.5 1565.5 544.5 1564.5 552 1566.5 557 1571 561.5 1577 565 1586 568.5 1595.5 571 1609.5 573Z" fill="#ff5252"/>
<path d="M1611.5 570.5 1630 571 1639.5 570 1660 565 1691.5 554.5 1699 551 1704 547 1706.5 543 1708 538.5 1708 533.5 1707 529 1704 523 1697 515 1694.5 513 1690 511 1688 510.5 1683 511 1667 519 1663 520 1656 520 1648.5 517 1632.5 507.5 1623 505.5 1616 507 1608.5 510.5 1589 522 1583 526.5 1578.5 531.5 1574 538.5 1572 543 1570.5 550 1570.5 552 1573 557 1578.5 561.5 1593 567.5 1604.5 570 1611 570.5Z" fill="#ff4040"/>
<path d="M1616 568.5 1634.5 568 1646 565.5 1660 561 1689.5 547.5 1693 545 1697 540.5 1698 536 1697.5 529 1694.5 524 1692.5 522 1687.5 519.5 1683 520 1669 526.5 1660 527 1651.5 524.5 1637 515 1630 512 1625.5 511 1621 511 1616 512 1611.5 514 1591 526.5 1582 536 1577.5 545 1577 547.5 1577 552 1578 554.5 1581.5 558.5 1586.5 561.5 1595.5 565 1614.5 568.5Z" fill="#ff2e2e"/>
<path d="M1604.5 564 1614 565.5 1625.5 566 1639.5 564 1647.5 561.5 1657.5 557 1662.5 553 1664.5 550 1665.5 545 1663.5 540.5 1651 531.5 1644 525.5 1632.5 518.5 1625.5 516.5 1621 516.5 1614 518.5 1600.5 526.5 1593 532.5 1588.5 538 1585 545 1584 550 1584.5 552 1585.5 554.5 1588.5 557.5 1596.5 561.5 1604 563.5Z" fill="#ff1b1b"/>
<path d="M1611.5 561.5 1616 562.5 1627.5 562.5 1634.5 561.5 1646.5 557 1651.5 552 1652 547.5 1651 543.5 1644 533.5 1635.5 526.5 1630 524 1623 522.5 1616 524 1611 526.5 1604.5 531 1597 538.5 1593 546 1592.5 547.5 1593 552.5 1595.5 555.5 1602 559 1610 561.5Z" fill="#ff0909"/>
</g></g>
<rect x="1482.4" y="339.1" width="502.6" height="296.8" fill="none" stroke="#000" stroke-width="1.6"/>
<line x1="1477.9" y1="635.9" x2="1482.4" y2="635.9" stroke="#000" stroke-width="1.5"/>
<line x1="1473.9" y1="586.4" x2="1482.4" y2="586.4" stroke="#000" stroke-width="1.5"/>
<text x="1465" y="595.4" font-size="26.2" text-anchor="end">1</text>
<line x1="1477.9" y1="537" x2="1482.4" y2="537" stroke="#000" stroke-width="1.5"/>
<line x1="1473.9" y1="487.5" x2="1482.4" y2="487.5" stroke="#000" stroke-width="1.5"/>
<text x="1465" y="496.5" font-size="26.2" text-anchor="end">2</text>
<line x1="1477.9" y1="438" x2="1482.4" y2="438" stroke="#000" stroke-width="1.5"/>
<line x1="1473.9" y1="388.6" x2="1482.4" y2="388.6" stroke="#000" stroke-width="1.5"/>
<text x="1465" y="397.6" font-size="26.2" text-anchor="end">3</text>
<line x1="1477.9" y1="339.1" x2="1482.4" y2="339.1" stroke="#000" stroke-width="1.5"/>
<line x1="1482.4" y1="635.9" x2="1482.4" y2="645.4" stroke="#000" stroke-width="1.5"/>
<line x1="1545.2" y1="635.9" x2="1545.2" y2="641.4" stroke="#000" stroke-width="1.5"/>
<line x1="1608.1" y1="635.9" x2="1608.1" y2="645.4" stroke="#000" stroke-width="1.5"/>
<line x1="1670.9" y1="635.9" x2="1670.9" y2="641.4" stroke="#000" stroke-width="1.5"/>
<line x1="1733.7" y1="635.9" x2="1733.7" y2="645.4" stroke="#000" stroke-width="1.5"/>
<line x1="1796.5" y1="635.9" x2="1796.5" y2="641.4" stroke="#000" stroke-width="1.5"/>
<line x1="1859.3" y1="635.9" x2="1859.3" y2="645.4" stroke="#000" stroke-width="1.5"/>
<line x1="1922.2" y1="635.9" x2="1922.2" y2="641.4" stroke="#000" stroke-width="1.5"/>
<line x1="1985" y1="635.9" x2="1985" y2="645.4" stroke="#000" stroke-width="1.5"/>
<text x="1441" y="487.5" font-size="29" text-anchor="middle" transform="rotate(-90 1441 487.5)">R + α (Å)</text>
<g clip-path="url(#cc2)"><g filter="url(#blr)">
<rect x="1462.4" y="634.1" width="542.6" height="336.8" fill="#0000ff"/>
<path d="M1459.5 975.5 1985.5 975.5 1975.5 975.5 1915.5 972 1828 965 1805 961.5 1799.5 959.5 1796 957 1795 955 1796 952.5 1799 950 1805 947.5 1819 945 1862.5 940.5 1874 938.5 1892.5 936.5 1925 934 1945.5 932 1945.5 931.5 2010 927 2010 629.5 1457.5 629.5 1457.5 975.5ZM1879.5 874 1877.5 872 1874 863.5 1873 855.5 1874 843 1876.5 837 1879 833.5 1881 832 1885.5 831 1888.5 832.5 1890.5 834.5 1894 841.5 1895.5 851 1895 858.5 1893 867 1890.5 872 1885.5 876 1881 875.5ZM1916.5 818.5 1914.5 816.5 1911.5 809.5 1909.5 800 1908 784 1908.5 768 1911 751.5 1915.5 739.5 1918 736.5 1920 735.5 1923 735.5 1925 736.5 1930 745 1933.5 758.5 1934.5 768 1934.5 788.5 1932 804 1928.5 814 1925 819 1922.5 820.5 1920.5 821 1918 820Z" fill="#1515ff"/>
<path d="M1459.5 975.5 1785 975.5 1774.5 973.5 1752 967.5 1744 964 1741.5 962 1742 959.5 1744 957 1768.5 943.5 1779.5 938.5 1796 935.5 1844.5 933.5 1860.5 931.5 1885.5 926.5 1920.5 923 1946 918 1962 914 1973.5 910 1985 904.5 1991.5 899.5 1993.5 897 1996.5 892.5 1999.5 885.5 2004.5 865 2010 828 2010 708 2004.5 668.5 1995.5 629.5 1457.5 629.5 1457.5 975.5ZM1879.5 888 1874 881.5 1869 867 1868 858 1868 848.5 1870 837 1874 827 1880 821 1883.5 819.5 1890.5 820 1902 826.5 1904 823.5 1903.5 775 1904.5 758.5 1906.5 746.5 1911 729.5 1915.5 721.5 1920.5 717.5 1925 718 1927.5 719.5 1932 725.5 1936 735.5 1939.5 751.5 1941 765.5 1940.5 795.5 1937 816.5 1932 830 1929.5 834 1925 838.5 1922.5 839.5 1917.5 839.5 1909 835.5 1906.5 835 1905.5 837 1903 860 1898.5 876.5 1895 883 1890.5 888 1888 889.5 1885.5 890 1881 889ZM1797.5 740 1796 739 1793.5 733.5 1792 726.5 1791 717 1791 698.5 1793.5 684.5 1796 679 1798.5 678 1801 680 1803 685 1804.5 691.5 1805.5 701 1805.5 719.5 1803 735 1800.5 739.5 1798 741Z" fill="#2323ff"/>
<path d="M1549.5 974 1551.5 975.5 1658.5 975.5 1661.5 968.5 1662.5 968.5 1668.5 964 1676 961 1699 954.5 1731.5 947.5 1744 943.5 1755 938.5 1770.5 933 1782 930.5 1798 928.5 1828 927 1849 924.5 1860.5 921.5 1868.5 918 1871.5 915.5 1873.5 913.5 1874.5 911 1875 906.5 1873 899.5 1867.5 885.5 1864 869.5 1863 851 1864.5 837 1869.5 821.5 1874 814 1881 808 1890 805 1895 800 1897.5 789.5 1899 756.5 1902 731 1907.5 708 1910.5 698.5 1917.5 682.5 1919 678 1920.5 669 1920 661.5 1917 650 1912 638.5 1906.5 629.5 1800.5 629.5 1803 633 1805.5 641 1809.5 661.5 1811.5 680 1812 708 1810.5 728.5 1808 742.5 1803 755 1801.5 756.5 1798 757.5 1796 756 1793.5 752.5 1789.5 740 1787 724 1786 710 1786 687 1789 657 1793.5 638 1796 631.5 1798 629.5 1669.5 629.5 1667 631.5 1664.5 631 1664 629.5 1492 629.5 1487 637 1480.5 650 1475.5 662.5 1469 682 1466.5 685.5 1462 687 1457.5 687 1457.5 947 1507.5 957 1526.5 962 1542.5 968.5 1549 973.5Z" fill="#3232ff"/>
<path d="M1568 955 1588.5 956.5 1627.5 956.5 1660 953.5 1697 948 1727 942 1756.5 932 1775 927 1789 924.5 1823.5 920 1837.5 917 1847.5 913.5 1856 907.5 1858 904 1859.5 897 1859.5 888 1857.5 865 1857.5 848.5 1859 835 1861 825.5 1862.5 819.5 1867.5 807 1874 796.5 1877 793.5 1884 784 1886 779.5 1888 770 1888.5 765.5 1888 735.5 1886 721.5 1885.5 721.5 1884 715 1879 703 1873 694 1867.5 687.5 1860.5 681 1856 677.5 1846.5 672.5 1837.5 670 1833 670 1830.5 671 1828 673 1823.5 682.5 1821.5 694 1821 694 1816 733 1814.5 741.5 1810.5 756.5 1808 763.5 1805 768 1803 770 1800.5 771 1798 771 1795 768 1792 763.5 1786.5 745.5 1784 731 1782.5 717 1780 665.5 1778.5 652.5 1777 645.5 1773 635 1768.5 629.5 1695.5 629.5 1690 640.5 1684 650 1679.5 655 1676 657.5 1669.5 664 1667 665.5 1664.5 665.5 1662.5 664 1659 657 1655.5 641 1654 629.5 1518.5 629.5 1512.5 638.5 1507 650 1503.5 661.5 1502.5 668.5 1494 686.5 1489 703 1486 721.5 1486 738 1487.5 749.5 1485 751.5 1478 751.5 1466.5 747 1457.5 741 1457.5 940 1512.5 949 1565.5 955Z" fill="#4040ff"/>
<path d="M1558.5 948 1588.5 950 1630 950 1669 947 1701.5 942.5 1727 937 1759 927 1803 917 1815 913.5 1833 904.5 1838.5 899.5 1844.5 891.5 1848 878.5 1851 831 1856.5 791 1856 776 1854 768 1850.5 758.5 1847 751.5 1842 744.5 1837.5 740 1835 738.5 1833 737.5 1830.5 738 1827.5 740 1823.5 746.5 1814.5 770 1812 775 1807.5 781.5 1803 784.5 1798 784 1796 782 1793.5 779 1788.5 768 1784.5 754 1781 735.5 1777.5 705.5 1774 682.5 1771.5 673 1768.5 665.5 1765.5 661.5 1761.5 658 1752 652 1748 648 1738.5 634 1736 631.5 1731.5 629.5 1729 629.5 1725 631.5 1720 636 1715.5 638 1706 638 1701.5 641 1699.5 643 1695.5 650 1690 663 1685.5 671 1681.5 675.5 1678 678 1671.5 682 1667 683.5 1663.5 682.5 1661 680 1657.5 673 1653.5 657 1649 629.5 1541 629.5 1532 638.5 1524 650.5 1519 661.5 1516.5 671 1511.5 680 1505.5 694 1502.5 703 1500.5 712.5 1499 726.5 1499.5 740 1502.5 756.5 1496.5 761.5 1492 764 1482.5 766 1475.5 766 1464 763.5 1457.5 761 1457.5 934.5 1505.5 942.5 1556.5 948Z" fill="#4e4eff"/>
<path d="M1604.5 945.5 1644 945 1663 943.5 1699 939 1727 933 1789 915 1798.5 911 1807.5 906 1819.5 895 1827 883.5 1829 878.5 1831 872 1832.5 860 1833 860 1834 846.5 1833.5 823.5 1830.5 807 1828 801 1824 795.5 1821 794.5 1817.5 795.5 1807.5 800.5 1803 800.5 1798.5 798 1793.5 792 1788.5 781.5 1784 768 1777.5 738 1773 712 1768.5 696 1763.5 687 1752 676.5 1748 671 1738.5 653 1733.5 647.5 1731.5 646.5 1729 646.5 1723 650 1720 653 1716.5 655 1706 654.5 1704 655.5 1702 657 1699 661 1688.5 685 1685.5 689.5 1683 692 1678.5 694.5 1672.5 696.5 1669 697 1664.5 696.5 1660 692 1655.5 682.5 1651.5 666.5 1648.5 648 1644.5 629.5 1567 629.5 1547 643 1540 650.5 1532.5 661.5 1529 671 1528.5 671 1526.5 679.5 1519.5 691.5 1515 703 1512 715 1511 724 1511 733 1512 742.5 1514.5 751.5 1514 754 1510.5 760 1501 769.5 1490 775 1480.5 777 1471 777 1457.5 775 1457.5 929 1496.5 936.5 1533.5 941.5 1568 944.5 1603 945.5Z" fill="#5c5cff"/>
<path d="M1577 941 1593 942 1632.5 942 1657.5 940.5 1697 936 1715.5 932.5 1717.5 931.5 1729 929 1761.5 919.5 1777.5 914 1791 906.5 1796.5 902 1802.5 895 1807.5 887 1812 875 1813.5 867 1814 851 1812.5 839.5 1811 835 1807.5 827 1798 814.5 1793.5 807 1786.5 791 1781.5 775 1772.5 735.5 1766.5 717 1761.5 708.5 1750.5 696.5 1746.5 689.5 1738.5 670.5 1736 666.5 1731.5 662 1729 662 1725 664 1720 669 1716.5 671 1712.5 671 1708.5 670 1706 670 1704 671 1701.5 673 1699 677 1691 696.5 1685.5 705 1680 708 1676 708.5 1669 708.5 1664.5 707.5 1662 705.5 1657.5 699.5 1653 687 1644 644.5 1639.5 629.5 1584 629.5 1571.5 641 1551.5 656 1546.5 661.5 1540 671.5 1535.5 682.5 1533.5 692 1527 705.5 1524 716.5 1523 724 1523 733 1524.5 745 1522 752.5 1515 765 1510.5 770.5 1505.5 775 1496.5 781 1492 783 1478 786.5 1457.5 787.5 1457.5 923.5 1487 930.5 1517 935.5 1551.5 939.5 1575.5 941Z" fill="#6a6aff"/>
<path d="M1600 938.5 1602.5 939 1641.5 938.5 1685.5 934.5 1702 932 1727 926.5 1756.5 917.5 1768.5 913 1780 906 1784.5 902 1790.5 895 1796 885 1799 876.5 1800 869.5 1800 853.5 1797 837 1785.5 805 1768.5 744.5 1762 731 1752 719 1748 712.5 1743 701 1738 687 1734 680 1731.5 678 1729 677.5 1727 678 1720 685 1715.5 687.5 1708.5 685.5 1706 685.5 1704 686.5 1701.5 689 1699 693 1690 713 1685.5 718 1683 719.5 1680.5 720 1674 720 1667 718.5 1661.5 715 1657.5 709.5 1654.5 703 1649 685 1641.5 650 1637 636.5 1633.5 629.5 1595.5 629.5 1579 648 1561 663 1554 670 1547 680 1542 691.5 1540 698.5 1533.5 734 1530 747 1526.5 756 1522 765 1515 774.5 1510 779.5 1503.5 784.5 1491 791 1480.5 794.5 1457.5 798.5 1457.5 917.5 1464 920 1482.5 925 1518.5 932 1556.5 936.5 1586.5 938.5 1599.5 938.5Z" fill="#7878ff"/>
<path d="M1568 934 1600 936 1632.5 936 1664.5 934 1697 930 1721 925 1736 921 1757.5 913.5 1768.5 907.5 1773 904 1780 896.5 1784.5 889.5 1789 878.5 1790.5 872 1791 858 1789 841.5 1782 811.5 1768.5 766 1762 751.5 1751.5 738 1747.5 731 1742.5 719.5 1737 703 1733.5 697 1731.5 694.5 1729 693.5 1724.5 696.5 1721 701 1717.5 703.5 1715.5 704 1713 703.5 1708.5 701.5 1706 701.5 1703 703 1699 709 1691.5 724 1685.5 730 1683 731 1678.5 731 1669 728.5 1665 726.5 1657.5 719 1651.5 705.5 1647 689.5 1639.5 657 1634 643 1628.5 634 1623 629.5 1609.5 629.5 1605.5 631.5 1598 638.5 1580 659.5 1565.5 673 1557 682.5 1551.5 691 1547.5 701 1543 717 1539 735.5 1533.5 753 1526 768 1517.5 779.5 1508 788.5 1494 797 1480.5 802.5 1475.5 803.5 1457.5 809.5 1457.5 911 1462.5 913.5 1478 919 1501 925 1535.5 931 1567 934Z" fill="#8787ff"/>
<path d="M1577 932 1623 933.5 1662.5 931.5 1694.5 927.5 1715.5 923.5 1729 920 1743 915.5 1753.5 911 1759 908 1767 902 1771.5 897 1777.5 888 1780 883 1783 872 1783.5 853.5 1782 839.5 1777.5 818.5 1772.5 800 1768.5 787.5 1761.5 771.5 1753 758.5 1751 756.5 1745 746 1735.5 719.5 1733 715 1730.5 712.5 1729 712 1727.5 712.5 1724.5 715 1720 720.5 1717.5 722 1713 721.5 1708.5 718.5 1706 718 1704 719 1701 721.5 1694.5 732.5 1690 738 1687.5 740 1683 741 1676 740 1664.5 734.5 1657.5 727.5 1653 719 1647.5 703 1639.5 670.5 1632.5 652 1625.5 642.5 1623 640.5 1618.5 638.5 1611.5 639 1607 641.5 1600 647.5 1598 650.5 1593 655.5 1586.5 664.5 1562 691.5 1557.5 698.5 1551.5 712 1544 738 1537.5 756.5 1529 772.5 1522 782 1513 791 1503.5 798.5 1492 805 1466.5 816 1461.5 818.5 1457.5 821.5 1457.5 904 1475.5 913 1487 917 1505.5 922 1531 927 1575.5 932Z" fill="#9595ff"/>
<path d="M1584 929.5 1600 930.5 1637 930.5 1660 929 1697 924.5 1729 917 1743 912 1753.5 906.5 1759.5 902 1764.5 897 1771 888 1775 878.5 1777 869.5 1777.5 855.5 1776.5 844 1773 825.5 1767.5 807 1761.5 792 1755.5 781.5 1746.5 768 1743 761 1736 743 1731.5 734.5 1729 733 1724.5 735.5 1720 739.5 1717.5 740.5 1713 739.5 1708.5 736 1704 735.5 1701.5 737 1692 747.5 1689 749.5 1685.5 750.5 1678.5 749.5 1669 745.5 1664.5 742.5 1657.5 735.5 1653 728 1647 712.5 1636 673 1631 661.5 1625.5 653.5 1621 650 1616 649 1611 650 1604.5 654 1597.5 661.5 1588.5 673 1586.5 676.5 1570 696 1565 703 1559.5 712.5 1555.5 721.5 1545 751 1539.5 763.5 1533.5 774 1522 789 1512.5 798 1501 806.5 1471 823.5 1462 830 1457.5 834.5 1457.5 895.5 1459.5 897.5 1466 902 1475.5 907 1491 913.5 1505.5 918 1535.5 924.5 1563 928 1582.5 929.5Z" fill="#a3a3ff"/>
<path d="M1588.5 927 1602.5 928 1637 928 1660 926.5 1690 923 1704 920.5 1724.5 915.5 1738.5 910.5 1750 904 1752 902 1753 902 1760 895 1765 888 1768.5 881.5 1771.5 869.5 1772 858 1771 846.5 1768.5 832.5 1765 821 1761.5 811.5 1757 802.5 1745 783.5 1738.5 770 1732 758.5 1729 756 1724.5 756.5 1720 758.5 1717.5 758.5 1713 756.5 1706.5 751.5 1704 751 1699 753 1695 756.5 1690 759 1685.5 759.5 1680.5 758.5 1671.5 754.5 1661 747 1657.5 743.5 1654 738 1648.5 726.5 1645 717 1639.5 697 1632 675.5 1625.5 665 1621 661 1618.5 660 1611.5 660.5 1604.5 665 1597.5 673 1570 710.5 1562 724 1543.5 765.5 1538 775 1530 786.5 1528.5 787.5 1524 793.5 1510.5 806 1496 816.5 1482.5 825 1471 834 1464 841.5 1459.5 848.5 1457.5 853.5 1457.5 884 1464 892 1477.5 902 1498.5 911.5 1521 918 1542.5 922.5 1556.5 924.5 1588.5 927Z" fill="#b1b1ff"/>
<path d="M1595.5 925 1637 925.5 1660 924 1692 920 1720 914 1729 911 1739 906.5 1746.5 902 1754.5 894.5 1761.5 885 1765 876.5 1766.5 867 1766 848.5 1765 841.5 1761 828 1757 818.5 1750.5 807 1744 798 1734 781.5 1729 776.5 1727 775.5 1717.5 774 1704 765 1699 765.5 1691.5 768 1683 767.5 1674 763.5 1663.5 756.5 1656.5 749.5 1649.5 738 1646 730 1631.5 687 1624.5 675.5 1622 673 1616.5 671 1611.5 671.5 1608.5 673 1600 681.5 1592.5 691.5 1577 715 1575 717 1575 718 1572 721.5 1569.5 726.5 1565 733 1547.5 768 1533.5 789 1518.5 805 1505 816.5 1485 832 1479.5 837 1473.5 844 1469 851 1465 860 1463 869.5 1463 874 1464 878 1470 888 1478 895 1484.5 899.5 1498 906.5 1512.5 912 1538 918.5 1563 922.5 1593.5 925Z" fill="#bfbfff"/>
<path d="M1600 922.5 1602.5 923 1639.5 923 1660 921.5 1692 917.5 1711.5 913.5 1724.5 909.5 1738.5 903 1743 900 1751 892.5 1754.5 888 1758.5 881 1761.5 871 1762 867 1761.5 851 1757.5 835 1754.5 827.5 1750 819 1738.5 802.5 1733.5 796.5 1727 791 1717.5 787 1706 778.5 1701.5 776.5 1690 776.5 1682.5 775 1669 767.5 1657.5 758 1653 752 1647.5 742.5 1642.5 731 1632.5 702.5 1628.5 694 1625.5 689 1621 684.5 1616.5 682.5 1611.5 683 1607 686 1600 693.5 1569 740 1548.5 775 1533.5 795.5 1515 814.5 1494 832.5 1482.5 845 1475.5 857 1472 869.5 1472 872 1474.5 881 1479.5 888 1487.5 895 1494.5 899.5 1505.5 905 1517 909.5 1528.5 913 1549.5 917.5 1579.5 921.5 1598 922.5Z" fill="#cdcdff"/>
<path d="M1602.5 920.5 1625.5 921 1655.5 919.5 1694.5 914.5 1717.5 909 1727 905.5 1734 902 1746 892.5 1751.5 885.5 1754 881 1756.5 874 1757.5 867 1757.5 855.5 1756.5 848.5 1753 837 1747 825.5 1737 811.5 1731.5 805.5 1727 802 1719 798 1704 787.5 1697 785.5 1690 784.5 1680.5 781 1670.5 775 1661 768 1652.5 758.5 1648 751.5 1644.5 745 1629 708 1623 699 1618.5 695.5 1614 694.5 1609.5 696.5 1604.5 700.5 1600 706 1589.5 721.5 1586.5 727 1571 749.5 1569 751.5 1554 775 1540.5 793.5 1522 814 1509.5 825.5 1494 841.5 1487 851.5 1483 860 1481 867 1480.5 872 1482.5 880 1484.5 883.5 1494 893 1509 902 1520 906.5 1538 912 1551.5 915 1581.5 919 1601.5 920Z" fill="#dcdcff"/>
<path d="M1604.5 918 1632.5 918.5 1662.5 916.5 1694.5 912 1716.5 906.5 1727.5 902 1736 896.5 1743 890.5 1750 880.5 1753.5 867 1753 853.5 1750 842 1744 830 1735.5 818.5 1728 811.5 1717.5 805.5 1704 796 1688.5 791 1678.5 786.5 1667.5 779.5 1657.5 771.5 1646 756.5 1640 745 1632.5 728 1626.5 717 1621 710 1616 707.5 1614 707.5 1608.5 710 1601.5 717 1584 742.5 1542 798 1525.5 816.5 1512 830 1500 844 1494 853.5 1491 860 1489 867 1488.5 872 1490 878.5 1494 885 1498.5 889.5 1505.5 895 1512.5 899 1526.5 905 1547 911 1559.5 913.5 1581.5 916.5 1604 918Z" fill="#eaeaff"/>
<path d="M1607 915.5 1637 916 1668 913.5 1694.5 909.5 1715.5 904 1727 899 1738.5 890.5 1745.5 881 1747.5 876.5 1749.5 867 1749.5 858 1747 846.5 1743 837.5 1738.5 830 1731.5 822 1727 818 1713 809.5 1708.5 806 1701.5 802 1690 798 1680 793.5 1664.5 783.5 1659.5 779.5 1652.5 772.5 1645.5 763.5 1625.5 728.5 1621 723.5 1616 721 1611.5 721.5 1607 724.5 1603 728.5 1583.5 754 1563 778 1551 793.5 1535 811.5 1533.5 814 1512.5 837 1505.5 846.5 1501.5 853.5 1498.5 860 1496 869.5 1497.5 878.5 1500.5 883.5 1504.5 888 1514 895 1528.5 902 1540 906 1558.5 910.5 1578 913.5 1606 915.5Z" fill="#f8f8ff"/>
<path d="M1609.5 913.5 1640 913.5 1660 912 1697 906.5 1713.5 902 1727 895.5 1738.5 885.5 1743.5 876.5 1745.5 869.5 1745.5 858 1743.5 848.5 1738 837 1732.5 830 1727 824.5 1707.5 811.5 1698.5 807 1687.5 803 1680.5 799.5 1670.5 793.5 1661 786.5 1653 779.5 1647 772.5 1625.5 741 1621 736.5 1618.5 735 1616 734.5 1610 735.5 1601.5 742.5 1586.5 760.5 1563 785.5 1545 807 1524 830.5 1515.5 841.5 1509.5 851 1505.5 860 1503 869.5 1504 876.5 1506 881 1512.5 888 1522.5 895 1535.5 901 1551.5 906 1565.5 909 1593 912.5 1607.5 913.5Z" fill="#fff6f6"/>
<path d="M1588.5 908.5 1600 910 1621 911 1641.5 910.5 1676 907 1702 902 1715.5 897.5 1727 891 1730.5 888 1734.5 883.5 1738.5 877 1741 867 1740.5 858 1738.5 849.5 1734.5 841.5 1727 832 1720 826.5 1704 816.5 1683 807.5 1664.5 796.5 1653 787 1645.5 779.5 1632.5 763 1624 754 1620.5 751.5 1616 750 1611.5 750.5 1607 752.5 1599.5 758.5 1586.5 772 1562 795.5 1540 820 1528.5 834 1521.5 844 1514.5 858 1511.5 869.5 1512.5 876.5 1517 883.5 1524 889.5 1533 895 1551.5 902 1572 906.5 1588 908.5Z" fill="#ffe4e4"/>
<path d="M1598 906.5 1618.5 908 1632.5 908 1655.5 906.5 1687.5 902 1704 898 1717.5 892.5 1727 885.5 1731.5 880.5 1735.5 872 1736 869.5 1736 860 1734.5 853.5 1728.5 841.5 1724.5 837 1715.5 830 1706 824 1680.5 812.5 1660 800 1651.5 793.5 1628.5 770 1623 766 1618.5 764 1611.5 764 1600.5 770 1570 796 1554.5 811.5 1540 828.5 1530.5 841.5 1524 853.5 1522 860 1521.5 860 1519.5 869.5 1519.5 872 1521 876.5 1525.5 883.5 1531 888 1544 895 1551.5 898 1566 902 1579.5 904.5 1596 906.5Z" fill="#ffd1d1"/>
<path d="M1604.5 904 1616 905 1634.5 905 1651 904 1678.5 900.5 1704 894.5 1715.5 889.5 1723.5 883.5 1727 879.5 1729 875.5 1730.5 872 1731.5 865 1730 855.5 1727 848.5 1724 844 1715.5 836 1706.5 830 1683 819.5 1664.5 809.5 1648.5 798 1630 781.5 1622.5 777 1616 775.5 1607.5 777 1600 781 1575 800 1555.5 818.5 1547 828.5 1536 844 1530.5 855.5 1527.5 867 1527.5 872 1528.5 876 1531 880 1534 883.5 1540 888 1547 891.5 1555 895 1571.5 899.5 1584 902 1604 904Z" fill="#ffbfbf"/>
<path d="M1614 902 1639.5 902 1651 901 1671.5 898.5 1685.5 896 1697 893 1710 888 1717 883.5 1723.5 876.5 1725.5 872 1726.5 865 1725.5 858 1722.5 851 1721 848.5 1714.5 841.5 1701.5 833 1680.5 824 1664.5 815.5 1653 808 1637 795.5 1626.5 788.5 1623 787 1616 785.5 1611.5 786 1604 788.5 1593 795 1577 806.5 1558.5 823.5 1547.5 837 1540.5 848.5 1537.5 855.5 1535.5 862.5 1535 867 1535 872 1536.5 876.5 1542.5 883.5 1551.5 889 1565.5 894.5 1588.5 899.5 1613 902Z" fill="#ffadad"/>
<path d="M1595.5 897 1611.5 899 1630 899.5 1651 898 1674 895 1690 891.5 1704 886.5 1710 883.5 1710.5 882.5 1715.5 879 1720 872 1721 867 1721 862.5 1719 855.5 1715.5 850 1706 841.5 1697 836.5 1667 822.5 1656.5 816.5 1641.5 806.5 1639.5 804.5 1632 800 1623 796 1618.5 795 1610.5 795.5 1598.5 800 1588.5 806 1572 818.5 1563 827 1551.5 841.5 1547.5 848.5 1543.5 860 1542 867 1543 874 1547 880 1551.5 883.5 1559.5 888 1570 892 1581.5 895 1595 897Z" fill="#ff9b9b"/>
<path d="M1602.5 895 1618.5 896.5 1641.5 896 1667 893 1685.5 889 1701 883.5 1706 880.5 1713 873.5 1714 872 1715 867 1713 857 1708.5 851 1700 844 1696 841.5 1676 832.5 1657.5 823 1632.5 807.5 1625.5 805 1625.5 804.5 1616 803 1611.5 803.5 1604.5 805.5 1593 811 1582 818.5 1570 828.5 1563 836 1556 846.5 1551.5 856 1549.5 865 1549.5 872 1551.5 876 1560 883.5 1572.5 889 1579.5 891 1600.5 895Z" fill="#ff8989"/>
<path d="M1607 892.5 1616 893.5 1637 893.5 1662.5 890.5 1662.5 890 1674.5 888 1685.5 885 1695.5 881 1702.5 876.5 1706.5 872 1707.5 869.5 1708 865 1705.5 858 1704 855.5 1696.5 848.5 1684 841.5 1660 830 1632.5 814.5 1621 811 1610.5 811.5 1603 814 1593.5 818.5 1581.5 826.5 1566.5 841.5 1562 848.5 1559 855.5 1557 862.5 1556.5 869.5 1558 874 1563 879.5 1569.5 883.5 1581.5 888 1598 891.5 1606.5 892.5Z" fill="#ff7676"/>
<path d="M1614 890.5 1623 891 1637 890.5 1662.5 887 1677 883.5 1685.5 880.5 1692.5 876.5 1697.5 872 1699 867 1698.5 862.5 1697 859 1690 852 1685 848.5 1657.5 834.5 1641.5 825.5 1631.5 821 1623 818.5 1613.5 818.5 1607 820 1595.5 825 1587.5 830 1581.5 835 1573 844 1568.5 851 1566.5 855.5 1564.5 862.5 1564 869.5 1566 874 1570 878 1579.5 883.5 1591 887 1604.5 889.5 1613 890Z" fill="#ff6464"/>
<path d="M1625.5 888 1637 887.5 1648.5 886 1661 883.5 1671.5 880.5 1680.5 876.5 1685.5 873 1688 869.5 1688.5 865 1686.5 860 1678.5 852.5 1674 849.5 1651 836.5 1637 829.5 1630 827 1623 825.5 1615.5 825.5 1609.5 826.5 1600.5 830 1588.5 837.5 1581.5 844 1576.5 851 1572.5 860 1572 869.5 1572.5 872 1577 877 1588.5 882.5 1602.5 886 1614 887.5 1625 888Z" fill="#ff5252"/>
<path d="M1607 883.5 1621 885 1630 885 1643 883.5 1662.5 878.5 1671 874 1674 871.5 1675 869.5 1675.5 865 1673.5 860 1669 855.5 1662.5 850.5 1639.5 837 1625.5 832.5 1616 832.5 1604.5 835.5 1600 838 1593 842.5 1587 848.5 1582.5 855.5 1580.5 860 1579.5 867 1581 872 1582.5 874 1585.5 876.5 1593 880 1606.5 883.5Z" fill="#ff4040"/>
<path d="M1614 881 1632.5 881.5 1641.5 880 1648.5 878 1655.5 875 1660 872 1661.5 869.5 1662 865 1660 860 1655.5 855 1648.5 849.5 1639.5 844 1632.5 841 1625.5 839.5 1616 839.5 1604.5 843.5 1597.5 848.5 1593 853 1589 860 1588 867 1589.5 872 1593 875 1602.5 879 1613.5 881Z" fill="#ff2e2e"/>
<path d="M1609.5 876.5 1618.5 878 1630 878 1637.5 876.5 1644 874 1647 872 1648.5 869.5 1649 867 1648.5 863.5 1647 860 1643 855.5 1639.5 852.5 1632 848.5 1623 846.5 1614 848 1607.5 851 1604.5 853 1600 857.5 1598.5 860 1597.5 862.5 1597 867 1597.5 869.5 1599 872 1604.5 875 1609 876.5Z" fill="#ff1b1b"/>
<path d="M1621 874 1625.5 874 1633 872 1635.5 869.5 1636 867 1636 865 1633.5 860 1630 857.5 1624 855.5 1620 855.5 1616 856.5 1611.5 859 1608.5 862.5 1607 867 1607.5 869.5 1610.5 872 1620.5 874Z" fill="#ff0909"/>
</g></g>
<rect x="1482.4" y="654.1" width="502.6" height="296.8" fill="none" stroke="#000" stroke-width="1.6"/>
<line x1="1477.9" y1="950.9" x2="1482.4" y2="950.9" stroke="#000" stroke-width="1.5"/>
<line x1="1473.9" y1="901.4" x2="1482.4" y2="901.4" stroke="#000" stroke-width="1.5"/>
<text x="1465" y="910.4" font-size="26.2" text-anchor="end">1</text>
<line x1="1477.9" y1="852" x2="1482.4" y2="852" stroke="#000" stroke-width="1.5"/>
<line x1="1473.9" y1="802.5" x2="1482.4" y2="802.5" stroke="#000" stroke-width="1.5"/>
<text x="1465" y="811.5" font-size="26.2" text-anchor="end">2</text>
<line x1="1477.9" y1="753" x2="1482.4" y2="753" stroke="#000" stroke-width="1.5"/>
<line x1="1473.9" y1="703.6" x2="1482.4" y2="703.6" stroke="#000" stroke-width="1.5"/>
<text x="1465" y="712.6" font-size="26.2" text-anchor="end">3</text>
<line x1="1477.9" y1="654.1" x2="1482.4" y2="654.1" stroke="#000" stroke-width="1.5"/>
<line x1="1482.4" y1="950.9" x2="1482.4" y2="960.4" stroke="#000" stroke-width="1.5"/>
<line x1="1545.2" y1="950.9" x2="1545.2" y2="956.4" stroke="#000" stroke-width="1.5"/>
<line x1="1608.1" y1="950.9" x2="1608.1" y2="960.4" stroke="#000" stroke-width="1.5"/>
<line x1="1670.9" y1="950.9" x2="1670.9" y2="956.4" stroke="#000" stroke-width="1.5"/>
<line x1="1733.7" y1="950.9" x2="1733.7" y2="960.4" stroke="#000" stroke-width="1.5"/>
<line x1="1796.5" y1="950.9" x2="1796.5" y2="956.4" stroke="#000" stroke-width="1.5"/>
<line x1="1859.3" y1="950.9" x2="1859.3" y2="960.4" stroke="#000" stroke-width="1.5"/>
<line x1="1922.2" y1="950.9" x2="1922.2" y2="956.4" stroke="#000" stroke-width="1.5"/>
<line x1="1985" y1="950.9" x2="1985" y2="960.4" stroke="#000" stroke-width="1.5"/>
<text x="1441" y="802.5" font-size="29" text-anchor="middle" transform="rotate(-90 1441 802.5)">R + α (Å)</text>
<g clip-path="url(#cc3)"><g filter="url(#blr)">
<rect x="1462.4" y="949.1" width="542.6" height="336.8" fill="#0000ff"/>
<path d="M1459.5 1290.5 1920 1290.5 1837.5 1286 1809.5 1284 1789 1281.5 1773 1278 1768.5 1276 1766.5 1274.5 1765.5 1272 1770.5 1268 1778.5 1265 1799.5 1260.5 1828 1256.5 1849 1254.5 1867.5 1251.5 1895 1244 1904 1243.5 1929.5 1245 1975.5 1241.5 2010 1240 2010 944.5 1457.5 944.5 1457.5 1290.5ZM1889 1228.5 1885.5 1226 1881 1221 1878 1214.5 1877.5 1210 1879 1203 1880.5 1200.5 1885.5 1195.5 1890 1193.5 1897.5 1193 1902 1194 1909 1199 1911 1202.5 1912.5 1207.5 1912.5 1212 1911.5 1217 1909 1222 1902 1228.5 1897.5 1230 1890.5 1229ZM1928.5 1048 1927 1046.5 1924.5 1041.5 1921.5 1030 1920.5 1023 1920 1002 1921 993 1922.5 984.5 1927 973 1932 970 1934 970.5 1938 974.5 1941 981.5 1944 995 1945 1006.5 1944.5 1023 1942 1036.5 1938.5 1046 1934 1050.5 1929.5 1049.5ZM1820.5 1002 1818.5 1000 1817.5 997.5 1815.5 988 1815 967.5 1816.5 957 1819 951 1821 949 1823.5 950.5 1826.5 958 1828 970 1828 981.5 1826 995.5 1823.5 1001 1821 1002.5ZM1699 986 1697 974.5 1697 958 1699 948 1701.5 955 1702 960.5 1701.5 982.5 1699 986.5Z" fill="#1515ff"/>
<path d="M1459.5 1290.5 1739 1290.5 1722 1285 1716 1281.5 1713.5 1279 1713 1277 1714.5 1274.5 1718 1272 1723 1270 1737.5 1265 1763.5 1258.5 1791 1253.5 1842.5 1247 1860.5 1243 1867 1240 1871.5 1235 1872 1233 1872 1228.5 1869.5 1217 1869.5 1209.5 1871 1203 1874 1196.5 1876.5 1193.5 1883.5 1188 1888 1186 1895 1184.5 1902 1184.5 1906.5 1185.5 1913.5 1188.5 1920.5 1194 1925 1200.5 1927 1205 1929 1212 1930.5 1221.5 1934 1225.5 1936.5 1226.5 1945.5 1226.5 1952.5 1225 1959.5 1222.5 1969 1217 1975.5 1210 1981 1198.5 1986.5 1175 1991 1140.5 1992 1122 1992 1096.5 1989.5 1066.5 1986.5 1046 1982 1025 1973.5 999 1971 994 1966.5 988 1963.5 988 1962 990.5 1959.5 1001 1956.5 1023 1953.5 1039 1949.5 1053 1946.5 1060 1943.5 1065.5 1941 1068.5 1936.5 1071.5 1933 1071.5 1929.5 1069.5 1927 1067 1922.5 1059 1918 1046 1915 1030 1914 1020.5 1913 1004.5 1913 988 1914.5 965 1917 944.5 1837.5 944.5 1837.5 960.5 1836 983.5 1833 1004.5 1832.5 1004.5 1830.5 1013.5 1826.5 1023 1823.5 1025.5 1821 1026.5 1819 1025.5 1816.5 1022.5 1814.5 1018.5 1811 1009 1809.5 1002.5 1805.5 972 1804 944.5 1706.5 944.5 1706.5 972 1705 995 1704 1003.5 1701.5 1011.5 1699 1012.5 1697 1009 1694 997.5 1691.5 979 1689 944.5 1457.5 944.5 1457.5 1290.5Z" fill="#2323ff"/>
<path d="M1545 1289 1547 1290.5 1644 1290.5 1646 1285.5 1647.5 1283.5 1651 1281 1660 1276.5 1673.5 1272 1697 1266.5 1701 1265 1735 1258.5 1756.5 1253.5 1791.5 1247 1835 1240 1846.5 1237 1856 1232 1858.5 1228.5 1860 1223.5 1861 1212 1863 1203 1867.5 1193.5 1874 1185.5 1881 1180.5 1890.5 1176.5 1899.5 1174.5 1918.5 1173 1925 1171 1928.5 1168.5 1932 1164 1936.5 1150 1938 1138.5 1938 1124.5 1936.5 1115 1934 1108.5 1922.5 1087 1916.5 1071.5 1911 1049.5 1902 999 1897.5 986 1890 976.5 1879 969 1872 966 1867.5 964.5 1860.5 963.5 1855.5 965 1851 969 1847.5 976.5 1844.5 988 1844 988 1839 1011.5 1833 1031 1830.5 1036 1826.5 1041.5 1823.5 1043.5 1821 1043.5 1819 1043 1816.5 1041 1812 1034.5 1809.5 1029 1805 1015.5 1799.5 995 1793.5 979 1791.5 975.5 1782 967 1777.5 961 1775 956.5 1770.5 944.5 1710 944.5 1708.5 983.5 1706.5 1006.5 1704 1020.5 1701.5 1025.5 1699 1026.5 1696.5 1023 1694 1016 1692.5 1009 1692 1009 1692 1006.5 1685.5 974 1683 965 1680 958 1678.5 956 1674 953 1671 953.5 1664.5 957.5 1662.5 958 1660 957 1657.5 952.5 1655.5 944.5 1520.5 944.5 1518 946.5 1511 953.5 1508 958 1504 965 1501 974.5 1492.5 983.5 1482.5 1000.5 1479 1009 1475.5 1022 1473.5 1036.5 1473.5 1046 1472.5 1043.5 1471 1043.5 1464.5 1034.5 1457.5 1021.5 1457.5 1262.5 1502.5 1272 1519.5 1276.5 1527 1279 1537 1283.5 1543.5 1288.5Z" fill="#3232ff"/>
<path d="M1561 1270 1584 1271.5 1611.5 1271.5 1641.5 1269 1669 1265 1731.5 1254 1731.5 1253.5 1738.5 1252.5 1768.5 1246 1775 1244 1795.5 1240 1828 1232 1837.5 1228.5 1841.5 1226 1846.5 1221.5 1849 1217 1853 1205 1858 1193.5 1862.5 1186 1869.5 1178 1874 1174 1890.5 1163 1897.5 1157.5 1901.5 1152 1904.5 1145 1907.5 1131.5 1908.5 1120 1907.5 1099 1904.5 1080.5 1899.5 1060 1895 1046.5 1890.5 1037 1881.5 1025 1873.5 1018 1862.5 1012.5 1860.5 1012 1856 1012.5 1851 1016 1846.5 1023 1837.5 1044 1833 1052.5 1830.5 1055.5 1826 1059.5 1823.5 1060.5 1819.5 1060 1816.5 1058 1809.5 1049.5 1799 1027.5 1793.5 1018 1791.5 1015.5 1782 1007.5 1775 997.5 1769.5 981.5 1761 944.5 1713 944.5 1709 1004.5 1706.5 1023 1704 1033 1701.5 1037 1699 1037.5 1694 1030 1685.5 1000 1683 993.5 1678.5 986 1674 984 1669 985.5 1664.5 988.5 1660 989 1657.5 987 1655.5 983.5 1651.5 970 1647.5 944.5 1557.5 944.5 1537 965 1528.5 978 1526.5 984 1520 988 1512.5 995 1505.5 1004 1500.5 1013.5 1496.5 1025 1494.5 1039 1495 1053 1498 1066.5 1497 1069 1492 1070.5 1480.5 1070 1475.5 1068.5 1467 1064.5 1459.5 1060 1457.5 1058 1457.5 1255.5 1494 1262 1522 1266 1560 1270Z" fill="#4040ff"/>
<path d="M1551.5 1263 1584 1265 1625.5 1264.5 1664.5 1260.5 1717.5 1252 1754.5 1244 1780 1237 1806 1228.5 1826 1218.5 1833 1213 1837.5 1207 1846.5 1191.5 1851 1182 1867.5 1158 1872 1149.5 1874 1143 1874.5 1143 1877.5 1129 1878.5 1117.5 1877.5 1099 1875 1087.5 1872.5 1080.5 1864.5 1066.5 1858 1061 1853.5 1059.5 1851 1059.5 1846.5 1062 1841.5 1066.5 1833 1076 1829.5 1078.5 1823.5 1080 1818 1078.5 1809.5 1070.5 1800.5 1057 1793 1048 1784.5 1041.5 1778 1034.5 1775 1029.5 1770 1016 1763.5 986.5 1755.5 944.5 1716 944.5 1713.5 965 1711.5 997.5 1708.5 1025 1704 1043.5 1701.5 1046.5 1699 1047 1694.5 1041.5 1685.5 1017.5 1682.5 1011.5 1679 1006.5 1674 1004 1669 1004.5 1664.5 1006.5 1660 1006.5 1657.5 1005 1655.5 1002 1653 997.5 1651.5 993 1641.5 944.5 1572.5 944.5 1565 956 1548.5 976.5 1540 991.5 1535.5 1003 1526 1011.5 1519.5 1020.5 1516.5 1027.5 1514 1041.5 1514.5 1050.5 1516 1057.5 1518 1062 1517.5 1064.5 1515 1068 1510.5 1072.5 1501 1078.5 1489.5 1081.5 1478 1081.5 1465 1078.5 1457.5 1075.5 1457.5 1249.5 1473.5 1253 1501 1257.5 1528.5 1261 1551 1263Z" fill="#4e4eff"/>
<path d="M1549.5 1258.5 1584 1260.5 1618.5 1260.5 1641.5 1259 1685.5 1253.5 1738.5 1243.5 1768.5 1234 1782 1228.5 1795.5 1221.5 1802.5 1217 1811 1210 1819 1201.5 1825.5 1191.5 1833 1172.5 1837.5 1156 1839.5 1143 1839.5 1133.5 1838.5 1126.5 1837 1122 1834 1117.5 1831.5 1115 1819 1106 1812 1099 1803 1087.5 1796.5 1080.5 1782 1067.5 1775 1057.5 1769 1041.5 1766 1028 1763.5 1016 1757.5 976.5 1750.5 944.5 1719 944.5 1716 965 1712.5 1006.5 1709.5 1032 1706.5 1046 1704 1052.5 1701.5 1055 1699 1055.5 1696 1053 1692 1046.5 1685.5 1031 1683.5 1027.5 1678.5 1021.5 1676 1020 1671.5 1019 1662.5 1020 1657.5 1018 1653 1011.5 1648 997.5 1639.5 955.5 1636 944.5 1582.5 944.5 1575 957.5 1551 995 1546 1006.5 1533.5 1049.5 1526.5 1064 1519.5 1073.5 1514.5 1078.5 1508.5 1083 1501 1087 1491.5 1090 1485 1091 1473.5 1091 1457.5 1089 1457.5 1244.5 1475.5 1248.5 1498.5 1252.5 1524 1256 1549.5 1258.5Z" fill="#5c5cff"/>
<path d="M1572.5 1256 1591 1257 1614 1257 1641.5 1255.5 1678.5 1251 1717.5 1244 1736 1240 1747.5 1236.5 1761.5 1231 1773 1225 1774.5 1223.5 1780 1220.5 1792 1210 1802 1196 1806 1187 1809 1168.5 1809 1152 1807.5 1142.5 1806 1136 1801.5 1124.5 1791.5 1108 1786 1101.5 1778 1090 1775 1084.5 1769 1069 1766 1057.5 1763 1041.5 1754.5 981.5 1750 959 1745.5 944.5 1723 944.5 1722 946.5 1719 960.5 1716.5 979 1714.5 1004.5 1710 1041.5 1708.5 1049 1706 1056.5 1704 1061 1701.5 1063.5 1699 1063.5 1695 1060 1692 1055.5 1685.5 1042.5 1681 1036.5 1674 1032 1662.5 1031 1659.5 1030 1655.5 1026.5 1653 1023 1648 1011.5 1639 972 1633.5 953.5 1629.5 944.5 1591.5 944.5 1584 956 1558.5 1001 1551.5 1016.5 1539 1053 1533.5 1064 1526.5 1074.5 1518.5 1083 1512.5 1088 1500.5 1094.5 1492 1097.5 1485 1099 1475.5 1100 1457.5 1100.5 1457.5 1239 1479.5 1244.5 1505.5 1249.5 1551.5 1255 1570.5 1256Z" fill="#6a6aff"/>
<path d="M1554 1251.5 1581.5 1253.5 1632.5 1253 1676 1248 1720 1240 1740.5 1235 1750 1231.5 1761.5 1226 1774.5 1217 1781.5 1210 1787 1203 1791.5 1194.5 1794 1187 1795.5 1175 1795 1166 1791.5 1151.5 1774 1110.5 1768.5 1094.5 1766 1085 1762 1064.5 1754 1000 1750 976 1745.5 958 1745 958 1743 951.5 1739 944.5 1728.5 944.5 1725 951.5 1722 961 1718.5 981.5 1715.5 1012.5 1711 1048 1709 1057.5 1706.5 1064.5 1704 1069.5 1701.5 1071 1699 1071 1694.5 1067.5 1685.5 1053 1681.5 1048 1678.5 1045.5 1674 1043 1666 1041.5 1660 1039.5 1654 1034.5 1651 1030 1646 1017.5 1634.5 972 1627 953.5 1622 946.5 1619.5 944.5 1602.5 944.5 1599.5 946.5 1593 954.5 1582.5 972 1559 1018 1545.5 1053 1538 1066.5 1538 1067.5 1530.5 1078.5 1519 1090 1513 1094.5 1503.5 1100 1496.5 1103 1486 1106 1457.5 1111 1457.5 1233.5 1473.5 1238.5 1489.5 1242.5 1517 1247.5 1552 1251.5Z" fill="#7878ff"/>
<path d="M1563 1249 1581.5 1250.5 1602.5 1251 1639.5 1249.5 1671.5 1245.5 1727 1235.5 1727 1235 1738.5 1232.5 1749 1228.5 1761.5 1221.5 1768 1217 1775.5 1210 1783.5 1198.5 1787.5 1189 1788.5 1184.5 1789.5 1173 1788 1163.5 1784.5 1153.5 1771 1131.5 1766 1115 1760 1083 1756.5 1054 1753 1016 1748.5 986 1744 967.5 1740 958 1738.5 955.5 1733.5 952.5 1731.5 953.5 1727.5 958 1724 967.5 1722 975.5 1719.5 990.5 1715 1034.5 1711.5 1057.5 1707.5 1071.5 1704 1077.5 1702.5 1078.5 1698.5 1078.5 1697 1077.5 1691.5 1071.5 1683 1059.5 1678.5 1055.5 1671.5 1052 1660 1048.5 1657.5 1047 1652.5 1041.5 1648.5 1034.5 1644 1023 1635 988 1634.5 988 1632 979 1626 965 1618.5 955.5 1614 953 1611.5 952.5 1606.5 953.5 1602.5 956 1600 958 1593 967 1583.5 983.5 1572 1006.5 1556.5 1042 1545 1066 1538.5 1076 1529 1087.5 1515 1099.5 1508 1104 1499 1108.5 1485 1113.5 1464 1119 1457.5 1121.5 1457.5 1227 1460 1228.5 1478 1235 1497 1240 1531 1246 1562 1249Z" fill="#8787ff"/>
<path d="M1572.5 1247 1591 1248 1618.5 1248 1651 1245.5 1720 1234 1738.5 1229.5 1747.5 1226 1756 1221.5 1761.5 1218 1770.5 1210 1780 1197 1783 1189 1785 1180 1784.5 1167.5 1781 1156.5 1773 1143.5 1764 1131.5 1762 1126.5 1760.5 1120 1756.5 1090.5 1751.5 1030 1748 1002 1745.5 988 1743 978.5 1738.5 968 1735.5 965 1733.5 964.5 1732 965 1729 968 1725.5 976.5 1723.5 983.5 1721 997.5 1716.5 1039 1712.5 1064.5 1708.5 1078.5 1706 1083 1701.5 1086.5 1699 1086 1695 1083 1692 1080 1685.5 1071 1681 1066.5 1674 1062 1660 1056.5 1657.5 1055 1653 1050.5 1648.5 1043.5 1643.5 1032 1633.5 997.5 1626.5 979 1621 970 1615 965 1611.5 964 1609.5 964 1604.5 966 1598 972 1594.5 976.5 1586.5 990.5 1555.5 1057.5 1545 1075.5 1535.5 1087.5 1522 1100.5 1510.5 1108.5 1492 1117.5 1471 1125.5 1457.5 1133 1457.5 1220.5 1478 1230 1505.5 1238 1540 1244 1570.5 1247Z" fill="#9595ff"/>
<path d="M1579.5 1244.5 1611.5 1245.5 1644 1243.5 1662.5 1241 1710.5 1232.5 1720 1231.5 1738.5 1227 1750 1222 1758 1217 1768.5 1207.5 1773 1202 1777.5 1194 1780 1187.5 1781 1182 1781.5 1177.5 1781 1168.5 1780 1163.5 1777.5 1157.5 1773 1149.5 1759 1131.5 1756 1124.5 1753 1096.5 1750 1048 1747.5 1020.5 1743 994 1740.5 986 1737 979 1733.5 977 1731.5 978 1729 981 1725.5 990.5 1722 1008 1715.5 1062.5 1712 1078.5 1707 1090 1704 1093 1701.5 1094 1699 1093.5 1694.5 1090 1685.5 1079.5 1678.5 1073.5 1674 1070.5 1660.5 1064.5 1653 1058.5 1646 1047.5 1640.5 1034.5 1630.5 1002 1625.5 990 1618.5 979.5 1614.5 976.5 1611.5 975.5 1607 976 1602.5 979 1595 988 1585 1006.5 1575 1030 1564 1053 1549.5 1077 1539.5 1090 1531 1098.5 1519 1108.5 1500.5 1120 1471 1134.5 1462.5 1140.5 1457.5 1145 1457.5 1212.5 1464 1217.5 1471 1221.5 1487 1228.5 1501.5 1233 1531 1239.5 1563 1243.5 1578 1244.5Z" fill="#a3a3ff"/>
<path d="M1586.5 1242 1588.5 1242.5 1623 1242.5 1646 1240.5 1694.5 1232.5 1723.5 1228.5 1738.5 1224.5 1753.5 1217 1761.5 1210.5 1768.5 1203.5 1775 1191.5 1778 1180 1778 1170.5 1776.5 1163.5 1773.5 1156.5 1766 1145 1756.5 1134 1751.5 1124.5 1750 1113 1747.5 1057.5 1744.5 1023 1740 1000 1738.5 995.5 1736 991.5 1733.5 990 1731.5 991.5 1729 995 1726.5 1002 1722 1028 1717.5 1066.5 1715.5 1077.5 1712 1090 1708.5 1097 1704 1101 1701 1101.5 1699 1101 1694.5 1097.5 1685.5 1087.5 1678.5 1081.5 1674 1078.5 1660 1071.5 1655.5 1068 1650 1062 1646 1056 1641.5 1046.5 1625 1002 1621 995 1618.5 992 1614 988 1611.5 987.5 1606.5 988 1604.5 989 1600 993.5 1594 1002 1588 1013.5 1575 1043 1567.5 1057.5 1556 1076 1542.5 1093 1529 1106 1510.5 1120 1482.5 1136 1471 1144.5 1461.5 1154.5 1457.5 1161.5 1457.5 1202 1459.5 1205 1464.5 1210 1470.5 1214.5 1487 1223.5 1500 1228.5 1516.5 1233 1538 1237.5 1551.5 1239.5 1584.5 1242Z" fill="#b1b1ff"/>
<path d="M1591 1240 1621 1240 1639.5 1238.5 1727 1225.5 1738.5 1222 1749 1217 1758.5 1210 1768.5 1198.5 1773.5 1187 1775 1177.5 1774.5 1168.5 1772.5 1161.5 1768.5 1153.5 1762.5 1145 1752 1133 1747 1124.5 1746 1120 1745.5 1110.5 1745 1078.5 1742.5 1036.5 1741 1025 1738.5 1013.5 1736 1008 1734.5 1006.5 1733.5 1006 1732.5 1006.5 1730.5 1009 1729 1012 1727.5 1018 1724 1036.5 1719.5 1073.5 1715.5 1092.5 1712 1101.5 1706.5 1108.5 1704 1109.5 1699 1108.5 1694.5 1105 1687 1096.5 1682 1092 1674 1086 1660 1078.5 1651.5 1071.5 1643.5 1060 1640 1053 1625.5 1016.5 1621 1008 1618.5 1004.5 1614 1000.5 1611.5 999.5 1607 1000 1604.5 1001.5 1599.5 1006.5 1595.5 1012.5 1575 1055 1565 1071.5 1551 1090 1538 1103.5 1526.5 1113.5 1510.5 1125.5 1487.5 1140.5 1479 1147.5 1470.5 1156.5 1463 1170.5 1461 1177.5 1460 1187 1461.5 1193.5 1464 1199 1467 1203 1475.5 1211 1489.5 1219.5 1498.5 1223.5 1524 1231.5 1535.5 1234 1558.5 1237.5 1591 1240Z" fill="#bfbfff"/>
<path d="M1598 1237.5 1621 1237.5 1639.5 1236 1674 1230.5 1715.5 1225.5 1731.5 1222 1743 1217.5 1748 1214.5 1754.5 1210 1761.5 1203 1765 1198.5 1768.5 1192 1771.5 1180 1771.5 1170.5 1770 1163.5 1767 1156.5 1761.5 1148 1747 1131.5 1742.5 1124.5 1741 1117.5 1740.5 1071.5 1739.5 1053 1738.5 1042.5 1736 1031.5 1733.5 1027.5 1731.5 1029 1729 1035.5 1726 1053 1723 1078.5 1718.5 1099 1715.5 1107.5 1713 1112 1708.5 1116.5 1704 1117.5 1699 1116 1695 1113 1678.5 1096.5 1657.5 1083.5 1649.5 1076 1646 1071.5 1639 1060 1621 1021 1617 1016 1614 1013.5 1611.5 1012.5 1605.5 1013.5 1600.5 1018 1593 1030 1579.5 1057.5 1571 1071.5 1569 1073.5 1566 1078.5 1563 1081.5 1562.5 1083 1549.5 1098 1539 1108.5 1525.5 1120 1498.5 1139.5 1489.5 1147 1482.5 1154 1475.5 1163.5 1470.5 1175 1468.5 1187 1471 1196 1478 1205 1487 1212.5 1503.5 1221 1524 1228 1547 1233 1575 1236.5 1597.5 1237.5Z" fill="#cdcdff"/>
<path d="M1568 1233 1591 1235 1621 1235 1646 1232.5 1678.5 1227.5 1704 1225 1727 1221 1736 1218 1743 1214.5 1753 1207.5 1761.5 1198 1765 1191.5 1768 1180 1768.5 1175 1768 1170.5 1766 1162 1761 1152 1750 1138 1745 1133.5 1738.5 1125.5 1737 1124.5 1734.5 1120 1733.5 1115 1731.5 1089.5 1729 1092.5 1727.5 1099 1723.5 1110.5 1720 1116.5 1716.5 1120 1713 1122 1706 1123.5 1699 1122.5 1692 1117.5 1678 1103.5 1657.5 1090 1647.5 1080.5 1641.5 1072.5 1630.5 1053 1625 1041.5 1618.5 1031 1614 1027 1611.5 1026 1609.5 1025.5 1607 1026 1604.5 1027.5 1600 1032 1597 1036.5 1579.5 1067.5 1568.5 1083 1558.5 1094.5 1542.5 1110.5 1526.5 1124.5 1500.5 1145 1491 1154.5 1482.5 1166.5 1480.5 1170.5 1477 1182 1477.5 1191.5 1481 1198.5 1487 1205.5 1492 1209 1492.5 1210 1500 1214.5 1505.5 1217.5 1524 1224.5 1549.5 1230.5 1568 1233Z" fill="#dcdcff"/>
<path d="M1572.5 1231 1607 1233 1627.5 1232 1660 1227.5 1699 1223.5 1713 1221.5 1729 1218 1737.5 1214.5 1745.5 1210 1754.5 1202 1757.5 1198.5 1761.5 1191 1764.5 1180 1764.5 1170.5 1761.5 1159 1757.5 1152 1751 1143 1740.5 1132.5 1731.5 1126 1727 1124.5 1722 1124.5 1708.5 1127.5 1704 1127.5 1697 1126 1692 1123.5 1674 1107.5 1658.5 1096.5 1657.5 1096.5 1650 1090 1641.5 1080 1621 1047 1614 1040 1611.5 1039 1607 1039.5 1601.5 1043.5 1596 1050.5 1579.5 1076.5 1564.5 1094.5 1549.5 1109.5 1535 1122 1533.5 1124 1528.5 1127.5 1513.5 1140.5 1498.5 1155 1489.5 1168.5 1487 1174 1485 1182 1484.5 1189 1487 1196 1492.5 1203 1501 1210 1514 1217 1531 1223 1551.5 1228 1571 1230.5Z" fill="#eaeaff"/>
<path d="M1575 1228.5 1602.5 1230.5 1623 1230 1641.5 1228 1653 1226 1699 1221.5 1720 1218 1731.5 1214.5 1740.5 1210 1744 1207.5 1750 1202 1754.5 1196.5 1759 1187 1760.5 1177.5 1760.5 1170.5 1759 1163 1754.5 1152 1750 1145.5 1743 1138 1737 1133.5 1731.5 1130.5 1724.5 1129 1704 1130.5 1694.5 1128.5 1686 1124.5 1674 1114.5 1653 1099 1641.5 1087 1621 1059 1616 1054 1611.5 1052 1607 1052.5 1602.5 1055 1596 1062 1579.5 1084.5 1570.5 1094.5 1556.5 1108.5 1524 1137 1508.5 1152 1504.5 1156.5 1498.5 1165.5 1494 1175 1492 1182 1491.5 1187 1492.5 1191.5 1496 1198.5 1498.5 1201.5 1509.5 1210 1524 1217 1535.5 1221 1556.5 1226 1573.5 1228.5Z" fill="#f8f8ff"/>
<path d="M1577 1226 1600 1228 1623 1227.5 1657.5 1223 1694.5 1220 1713.5 1217 1729 1212.5 1738.5 1207.5 1748.5 1198.5 1754.5 1187 1756 1177.5 1756 1168.5 1754 1159 1751 1152 1743 1141.5 1736 1136 1727 1132.5 1722 1132 1710.5 1133 1699 1132.5 1690 1130 1680.5 1126 1672 1120 1662.5 1112 1657 1108.5 1649 1101.5 1638 1090 1625 1073.5 1618 1066.5 1611.5 1063.5 1607 1064 1602 1066.5 1593 1075.5 1586.5 1084 1570 1101.5 1528.5 1138.5 1517 1150 1506.5 1163.5 1501 1175 1499 1182 1498.5 1187.5 1501.5 1196 1505.5 1201 1517 1209.5 1528.5 1215 1533.5 1216.5 1533.5 1217 1545 1220.5 1561 1224 1575.5 1226Z" fill="#fff6f6"/>
<path d="M1586.5 1224 1602.5 1225 1627.5 1224 1660 1220 1685.5 1218.5 1697 1217 1717.5 1212.5 1725 1210 1737 1203 1741.5 1198.5 1745 1193.5 1748 1187 1749 1182 1750 1168.5 1748 1156.5 1743 1147.5 1736 1140.5 1729 1137 1724.5 1136 1708.5 1136.5 1699 1135.5 1682.5 1131.5 1671.5 1127 1648 1108.5 1625.5 1085 1620 1080.5 1614 1077.5 1609.5 1076.5 1602.5 1079 1593 1086.5 1575 1104.5 1540 1135 1527.5 1147.5 1519.5 1157 1513.5 1166 1508.5 1177.5 1507 1184.5 1508 1191.5 1510.5 1196 1517 1203 1526.5 1209 1538 1214 1554 1219 1572.5 1222.5 1584 1223.5Z" fill="#ffe4e4"/>
<path d="M1595.5 1221.5 1604.5 1222 1621 1221.5 1651 1218 1673 1217 1687.5 1215.5 1706 1212 1713 1210 1724.5 1205 1733.5 1198.5 1738.5 1191.5 1742 1180 1743 1170.5 1743 1161.5 1742 1156.5 1737.5 1147.5 1731.5 1142.5 1724.5 1140 1704 1139.5 1697 1138.5 1697 1138 1680.5 1134.5 1670 1131.5 1664.5 1129 1653 1120.5 1625.5 1095 1618.5 1090.5 1611.5 1088 1604.5 1089 1595.5 1094.5 1568 1118 1563 1121.5 1542.5 1140 1531 1152 1524 1161.5 1518 1173 1515 1184.5 1516 1191.5 1521 1198.5 1528.5 1204.5 1535.5 1208.5 1547 1213 1561 1216.5 1561 1217 1581.5 1220.5 1594 1221.5Z" fill="#ffd1d1"/>
<path d="M1579.5 1217 1604.5 1219 1621 1218.5 1641.5 1216 1664.5 1215 1685.5 1213 1700 1210 1708.5 1207 1715.5 1204 1723.5 1198.5 1726 1196 1731.5 1187 1735 1168.5 1735 1159 1734 1154.5 1731.5 1150.5 1728.5 1147.5 1723 1145 1703 1143 1664.5 1134 1655.5 1129.5 1646 1122 1644 1119.5 1632.5 1109.5 1623 1102.5 1616 1099 1611.5 1098 1604.5 1099 1593 1105 1580 1115 1557 1133.5 1545 1145 1535 1156.5 1528.5 1166.5 1525.5 1173 1523 1182 1523 1187 1524 1191.5 1527 1196 1535.5 1203 1551.5 1210.5 1566.5 1214.5 1579.5 1217Z" fill="#ffbfbf"/>
<path d="M1586.5 1214.5 1595.5 1215.5 1611.5 1216 1646 1213 1676 1211.5 1685.5 1210 1697 1207 1708.5 1201.5 1715.5 1195.5 1721 1187 1723.5 1173 1723.5 1161.5 1722 1156.5 1720 1154 1715.5 1151.5 1699 1146.5 1694.5 1144.5 1679 1140.5 1667 1138.5 1667 1138 1655.5 1135 1649 1131.5 1640.5 1124.5 1639.5 1123 1625.5 1112.5 1616 1108 1611.5 1107 1602.5 1108.5 1593 1113 1570 1129.5 1554 1143.5 1546 1152 1537.5 1163.5 1532 1175 1530.5 1182 1531 1189.5 1535.5 1196.5 1540 1200 1547 1204 1562.5 1210 1575 1213 1585.5 1214.5Z" fill="#ffadad"/>
<path d="M1593 1212 1602.5 1213 1614 1213 1641.5 1210.5 1662.5 1210 1681 1207.5 1694.5 1203.5 1702.5 1198.5 1708.5 1191.5 1710.5 1187 1711 1173 1709.5 1166 1708.5 1163 1704.5 1156.5 1699 1152 1690.5 1147.5 1684 1145 1657.5 1140 1652.5 1138.5 1646 1135.5 1640 1131.5 1632.5 1125 1623 1119 1618.5 1117 1611.5 1115.5 1604.5 1116 1600 1117.5 1591 1122 1583.5 1126.5 1574 1133.5 1560 1145 1551.5 1154 1544.5 1163.5 1540 1173 1538 1180 1537.5 1187 1540 1192.5 1547 1199 1549.5 1200.5 1556.5 1204 1570 1208.5 1579.5 1210.5 1592.5 1212Z" fill="#ff9b9b"/>
<path d="M1604.5 1210 1657.5 1207.5 1676 1205.5 1684.5 1203 1693 1198.5 1697 1195 1699.5 1191.5 1701.5 1185 1701.5 1177.5 1700 1168.5 1696 1159 1689 1152 1685.5 1150 1678.5 1147.5 1668 1145 1655 1143 1646 1140.5 1641.5 1138.5 1623 1126.5 1614 1123.5 1607 1123.5 1596 1126.5 1583.5 1133.5 1570 1143.5 1558.5 1154.5 1551.5 1164 1548 1170.5 1545 1182 1545 1187 1547 1191.5 1551.5 1196 1558.5 1200.5 1572.5 1205.5 1581.5 1207.5 1603.5 1210Z" fill="#ff8989"/>
<path d="M1588.5 1205.5 1602.5 1207 1616 1207 1644 1205 1655.5 1205 1671.5 1203 1678.5 1201 1684 1198.5 1690 1193.5 1693.5 1187 1693.5 1177.5 1692.5 1170.5 1690 1163.5 1687.5 1159 1682.5 1154.5 1674 1150.5 1664.5 1148 1646 1145 1634.5 1140.5 1621 1133 1614 1131 1607 1131 1598 1133 1588.5 1137.5 1577 1145 1564.5 1156.5 1559 1163.5 1555.5 1170.5 1553.5 1175 1552 1182 1552.5 1187 1555 1191.5 1558.5 1195 1563 1198 1576.5 1203 1587 1205Z" fill="#ff7676"/>
<path d="M1593 1203 1602.5 1204 1616 1204 1637 1202.5 1648.5 1202.5 1660 1201.5 1673.5 1198.5 1678.5 1196 1683.5 1191.5 1685.5 1188 1686.5 1180 1685.5 1172.5 1683.5 1166 1678.5 1159 1675.5 1156.5 1669 1153.5 1662.5 1151.5 1639.5 1147.5 1630 1144.5 1618.5 1139.5 1611.5 1138 1607 1138 1595.5 1141 1587.5 1145 1581.5 1149 1570 1159.5 1563 1169.5 1559.5 1180 1559.5 1187 1563 1192 1569 1196 1577 1199.5 1593 1203Z" fill="#ff6464"/>
<path d="M1602.5 1200.5 1616 1201 1658 1198.5 1664.5 1197 1671.5 1194 1675 1191.5 1677 1189 1678.5 1185.5 1679 1180 1677.5 1170.5 1674 1164 1669 1159.5 1663.5 1156.5 1660 1155.5 1634.5 1151 1614 1145.5 1604.5 1145.5 1600 1146.5 1591 1150.5 1584 1155 1573 1166 1569 1173 1567.5 1177.5 1567 1180 1567.5 1187 1571 1191.5 1577 1195 1581.5 1197 1586.5 1198 1586.5 1198.5 1601.5 1200.5Z" fill="#ff5252"/>
<path d="M1593 1196 1602.5 1197.5 1611.5 1198 1644 1196.5 1657.5 1194.5 1665 1191.5 1669.5 1187 1671 1182 1671 1177.5 1670 1173 1667 1167 1663.5 1163.5 1655.5 1159.5 1644 1157 1627.5 1155 1614 1152.5 1607 1152.5 1600 1154 1593.5 1156.5 1581.5 1166 1576 1175 1574.5 1182 1574.5 1184.5 1575.5 1187 1580 1191.5 1584 1193.5 1593 1196Z" fill="#ff4040"/>
<path d="M1602.5 1194 1616 1194.5 1639.5 1193 1649.5 1191.5 1656.5 1189 1659.5 1187 1662 1182 1661.5 1175 1659.5 1170.5 1654 1166 1648.5 1163.5 1634.5 1161 1618.5 1159.5 1609.5 1159.5 1602.5 1161 1596 1163.5 1588.5 1169.5 1584.5 1175 1583 1180 1583 1184.5 1584 1187 1586.5 1189 1593 1192 1601 1193.5Z" fill="#ff2e2e"/>
<path d="M1600 1189 1607 1190.5 1623 1190 1642.5 1187 1647 1184.5 1648.5 1183 1649.5 1180 1649 1175 1647 1173 1643.5 1170.5 1639.5 1169 1623 1167 1611.5 1167 1604.5 1168.5 1600.5 1170.5 1595.5 1174.5 1592.5 1180 1592.5 1184.5 1594.5 1187 1599.5 1189Z" fill="#ff1b1b"/>
<path d="M1607 1185 1613.5 1184.5 1615.5 1182 1614 1179.5 1609.5 1179 1607 1180 1605.5 1182 1606 1184.5Z" fill="#ff0909"/>
</g></g>
<rect x="1482.4" y="969.1" width="502.6" height="296.8" fill="none" stroke="#000" stroke-width="1.6"/>
<line x1="1477.9" y1="1265.9" x2="1482.4" y2="1265.9" stroke="#000" stroke-width="1.5"/>
<line x1="1473.9" y1="1216.4" x2="1482.4" y2="1216.4" stroke="#000" stroke-width="1.5"/>
<text x="1465" y="1225.4" font-size="26.2" text-anchor="end">1</text>
<line x1="1477.9" y1="1167" x2="1482.4" y2="1167" stroke="#000" stroke-width="1.5"/>
<line x1="1473.9" y1="1117.5" x2="1482.4" y2="1117.5" stroke="#000" stroke-width="1.5"/>
<text x="1465" y="1126.5" font-size="26.2" text-anchor="end">2</text>
<line x1="1477.9" y1="1068" x2="1482.4" y2="1068" stroke="#000" stroke-width="1.5"/>
<line x1="1473.9" y1="1018.6" x2="1482.4" y2="1018.6" stroke="#000" stroke-width="1.5"/>
<text x="1465" y="1027.6" font-size="26.2" text-anchor="end">3</text>
<line x1="1477.9" y1="969.1" x2="1482.4" y2="969.1" stroke="#000" stroke-width="1.5"/>
<line x1="1482.4" y1="1265.9" x2="1482.4" y2="1275.4" stroke="#000" stroke-width="1.5"/>
<line x1="1545.2" y1="1265.9" x2="1545.2" y2="1271.4" stroke="#000" stroke-width="1.5"/>
<line x1="1608.1" y1="1265.9" x2="1608.1" y2="1275.4" stroke="#000" stroke-width="1.5"/>
<line x1="1670.9" y1="1265.9" x2="1670.9" y2="1271.4" stroke="#000" stroke-width="1.5"/>
<line x1="1733.7" y1="1265.9" x2="1733.7" y2="1275.4" stroke="#000" stroke-width="1.5"/>
<line x1="1796.5" y1="1265.9" x2="1796.5" y2="1271.4" stroke="#000" stroke-width="1.5"/>
<line x1="1859.3" y1="1265.9" x2="1859.3" y2="1275.4" stroke="#000" stroke-width="1.5"/>
<line x1="1922.2" y1="1265.9" x2="1922.2" y2="1271.4" stroke="#000" stroke-width="1.5"/>
<line x1="1985" y1="1265.9" x2="1985" y2="1275.4" stroke="#000" stroke-width="1.5"/>
<text x="1441" y="1117.5" font-size="29" text-anchor="middle" transform="rotate(-90 1441 1117.5)">R + α (Å)</text>
<g clip-path="url(#cc4)"><g filter="url(#blr)">
<rect x="1462.4" y="1266.6" width="542.6" height="337" fill="#0000ff"/>
<path d="M1459.5 1608.5 1916.5 1608.5 1895 1607 1837.5 1605 1816.5 1603.5 1796 1601 1778 1597 1773 1595 1769.5 1592 1769 1590 1770.5 1587.5 1773.5 1585 1784.5 1581 1809.5 1575.5 1846.5 1571 1865 1570 1902 1566.5 1915.5 1564.5 1948 1558 2010 1557.5 2010 1262 1457.5 1262 1457.5 1608.5ZM1942.5 1543.5 1938.5 1543 1934.5 1541.5 1927 1536.5 1922.5 1531 1918.5 1523 1917.5 1513.5 1919 1506.5 1922.5 1500 1927 1494 1934.5 1488 1941 1485.5 1948 1486 1953 1488 1962 1494 1968.5 1502 1970.5 1506.5 1971.5 1511.5 1971.5 1518.5 1970.5 1523 1968.5 1527.5 1962 1536 1957 1540 1952.5 1542.5 1943.5 1544ZM1940 1433 1938.5 1432 1935.5 1426 1932.5 1412 1931 1396 1931 1379.5 1932 1368 1934 1356.5 1935.5 1352 1938.5 1345.5 1941 1344 1943.5 1344.5 1948.5 1354 1950.5 1363.5 1952 1377.5 1952 1400.5 1950.5 1414.5 1950 1414.5 1948 1424.5 1945.5 1430.5 1943.5 1433 1941 1433.5ZM1682.5 1405 1680.5 1403 1677.5 1396 1674.5 1382 1673.5 1370.5 1673.5 1340.5 1677.5 1294 1680.5 1276 1683 1268.5 1685.5 1266 1687.5 1267.5 1690 1273 1692.5 1285 1695 1305.5 1697.5 1338 1698 1366 1697 1381 1693.5 1398 1691.5 1403 1687.5 1407 1683 1406ZM1789 1305.5 1786.5 1299.5 1786.5 1287.5 1789 1281.5 1789.5 1282.5 1791 1289.5 1791 1299 1789 1306Z" fill="#1515ff"/>
<path d="M1459.5 1608.5 1747.5 1608.5 1733.5 1603 1725.5 1597 1725 1594.5 1726 1592 1729 1589.5 1738.5 1585.5 1738.5 1585 1763.5 1577 1798 1569.5 1835 1564 1888 1558.5 1904 1555 1909 1553 1914.5 1548.5 1915 1546 1915 1541.5 1911 1529 1909.5 1518.5 1911 1508 1913 1502 1917 1495 1932 1476.5 1935.5 1467.5 1935.5 1463 1928.5 1430.5 1927 1419 1925.5 1386.5 1926.5 1361 1929 1340.5 1934 1318.5 1938.5 1308 1940.5 1305.5 1943.5 1303 1945.5 1302.5 1950.5 1305.5 1952 1308 1956.5 1319.5 1959 1331 1961.5 1349.5 1963 1372.5 1962.5 1405 1960 1430.5 1954.5 1458 1955 1465 1957.5 1470 1964 1474 1971 1475.5 1978 1474.5 1983 1470 1985 1465 1987 1456 1989 1428 1989 1396 1987.5 1370.5 1985.5 1352 1983 1336 1976.5 1305.5 1967.5 1278 1962 1264 1960.5 1262 1803 1262 1801.5 1294 1798.5 1319.5 1796.5 1329 1794 1336 1791.5 1340 1789 1341.5 1786.5 1340 1783.5 1333.5 1780 1317.5 1777.5 1285 1777.5 1262 1697 1262 1700 1338 1700 1370.5 1698.5 1386.5 1695.5 1400.5 1692.5 1407.5 1690 1411 1687.5 1412.5 1683 1411.5 1679.5 1407.5 1677.5 1403 1673.5 1389 1671.5 1372.5 1671 1340.5 1673 1301 1674 1262 1457.5 1262 1457.5 1608.5Z" fill="#2323ff"/>
<path d="M1515 1607 1516 1608.5 1671 1608.5 1672 1601.5 1676 1596.5 1684 1592 1704.5 1585 1747.5 1575.5 1763.5 1570.5 1816.5 1559 1837.5 1555.5 1837.5 1555 1865 1551 1876.5 1548.5 1885.5 1545.5 1892.5 1541.5 1895 1538.5 1897.5 1533 1899.5 1516 1902.5 1504.5 1905.5 1497.5 1920.5 1474.5 1923.5 1463 1923.5 1449 1920.5 1405 1920.5 1354 1921.5 1333.5 1921 1305.5 1920.5 1300.5 1916.5 1285 1913.5 1279 1909 1272.5 1902 1266 1895 1262 1856 1262 1851 1264 1840.5 1271 1821 1287.5 1816 1294 1809.5 1310 1804 1333.5 1798 1352 1794 1359 1791.5 1361 1789 1361 1786.5 1360 1784 1356.5 1782 1352 1777 1331 1774 1308 1770 1262 1704.5 1262 1703 1273.5 1702 1296.5 1702.5 1361 1700.5 1386.5 1697 1403.5 1695.5 1407.5 1690 1416 1685.5 1417 1680.5 1414 1676 1406 1673 1396 1670.5 1382 1668.5 1356.5 1668.5 1296.5 1667 1275.5 1664.5 1262 1517 1262 1514.5 1264 1504.5 1275.5 1500 1285 1499 1289.5 1498.5 1289.5 1498 1294 1489.5 1305.5 1482.5 1318 1479 1326.5 1475.5 1339.5 1473.5 1354 1473.5 1362 1473 1361 1471 1360.5 1465.5 1352 1457.5 1336.5 1457.5 1582.5 1459.5 1583.5 1468 1585 1482.5 1589 1498.5 1594.5 1510.5 1601.5 1514 1606ZM1830.5 1504.5 1825 1500 1822.5 1495 1821 1490.5 1820.5 1479 1821 1475.5 1824.5 1467.5 1828 1464.5 1830.5 1463.5 1833 1463.5 1837.5 1466 1839.5 1469 1843 1476.5 1844 1483.5 1843.5 1490.5 1841.5 1497.5 1837.5 1503 1833 1505Z" fill="#3232ff"/>
<path d="M1565.5 1592 1586.5 1594 1614 1594 1630 1592.5 1655.5 1588.5 1715.5 1576.5 1743 1572 1766 1564.5 1800.5 1555.5 1800.5 1555 1814.5 1551 1830.5 1544 1839.5 1539 1860.5 1532.5 1865.5 1530 1872 1525.5 1879 1518 1883 1511.5 1892.5 1493 1906.5 1470 1909 1464 1912 1451.5 1913.5 1419 1912.5 1372.5 1911 1354 1909 1340.5 1906.5 1332 1903 1324 1900 1319.5 1895 1314 1890.5 1310.5 1881 1306.5 1874 1305.5 1869.5 1306 1865 1307 1858 1310 1851 1314 1838.5 1324 1818.5 1342.5 1810 1354 1800.5 1372 1796 1377.5 1791.5 1380 1789 1379.5 1786 1377.5 1781.5 1370.5 1777 1356.5 1775 1347.5 1771 1319.5 1768 1289.5 1764 1262 1710.5 1262 1708 1278 1705.5 1305.5 1704.5 1368 1702.5 1386.5 1697 1410 1695 1414.5 1692 1418.5 1690 1420.5 1687.5 1421 1687.5 1421.5 1683 1420.5 1680.5 1418.5 1677.5 1414.5 1672 1400.5 1669.5 1389 1667.5 1375 1666 1354 1665 1319.5 1662.5 1298 1660 1289 1657 1282.5 1651.5 1273.5 1648 1262 1565.5 1262 1555.5 1269 1544.5 1275.5 1534 1285 1528.5 1293 1524 1303.5 1520.5 1305.5 1512.5 1312.5 1504 1324 1500.5 1331 1496.5 1342.5 1494.5 1356.5 1495 1370.5 1498.5 1386.5 1489.5 1389 1485 1389 1478 1387.5 1464 1381 1457.5 1376 1457.5 1575 1517 1586 1551.5 1591 1565 1592ZM1832 1520.5 1828.5 1518.5 1822.5 1511.5 1818 1502 1815.5 1493 1815 1476.5 1817.5 1465 1821 1458 1825.5 1453.5 1830.5 1451.5 1833 1451.5 1837.5 1453 1843 1458 1848.5 1467.5 1852 1481.5 1852.5 1493 1850.5 1504.5 1848 1511.5 1844.5 1517.5 1842 1520 1837.5 1522 1833 1521Z" fill="#4040ff"/>
<path d="M1581.5 1585.5 1609.5 1586 1634.5 1584.5 1674 1579.5 1706 1574.5 1709 1573.5 1731.5 1570.5 1747.5 1567 1747.5 1566.5 1795.5 1548.5 1808 1541.5 1814.5 1534.5 1816 1530 1815.5 1518.5 1811 1500 1809.5 1490.5 1809.5 1472.5 1811 1463 1813 1456 1817 1446.5 1821 1440.5 1825 1437.5 1830.5 1435 1837.5 1436 1840.5 1437.5 1844.5 1440 1849 1444.5 1856 1453.5 1862 1463 1867.5 1467 1869.5 1467 1874 1464.5 1879 1459 1879 1458 1883.5 1451.5 1890.5 1433.5 1892.5 1424 1894.5 1409.5 1894.5 1398 1893.5 1389 1890.5 1377 1886 1368 1879 1361 1872 1359 1867.5 1359 1862.5 1360.5 1853.5 1366 1841 1377.5 1830.5 1386 1825 1389 1809.5 1394.5 1798 1400 1793.5 1400.5 1789 1399 1786.5 1397 1782 1390.5 1777.5 1379.5 1772 1356.5 1769 1336 1764 1292 1761.5 1275.5 1758.5 1262 1716 1262 1712 1282.5 1709 1308 1707.5 1336 1707 1363.5 1704 1390 1700 1407.5 1697.5 1414.5 1694.5 1420 1690 1424.5 1685.5 1425 1680.5 1422.5 1676 1416.5 1672 1407.5 1669 1396.5 1666 1379.5 1663.5 1356.5 1662.5 1339.5 1660.5 1324 1657.5 1312.5 1651 1301 1648 1294 1646 1287.5 1640.5 1262 1581.5 1262 1577 1269 1570 1277 1551.5 1293.5 1547 1298.5 1540 1309 1535.5 1322 1528.5 1327 1524.5 1331 1518.5 1340.5 1515.5 1349.5 1514 1359 1514.5 1368 1518 1379.5 1518 1382 1515 1386 1510.5 1390.5 1503.5 1395.5 1496.5 1398.5 1489.5 1400 1475.5 1399.5 1464 1396.5 1457.5 1394 1457.5 1569 1487 1575 1519.5 1580 1556.5 1584 1580 1585Z" fill="#4e4eff"/>
<path d="M1591 1580.5 1611.5 1581 1644 1579 1683 1574.5 1710.5 1570 1735 1567 1745 1564.5 1756 1560 1775 1549.5 1778 1548.5 1793.5 1538 1801 1530 1803 1526 1805 1518.5 1805 1506.5 1803.5 1495 1802.5 1479 1803 1446.5 1800 1435 1795 1428 1786.5 1419 1782 1410.5 1774.5 1389 1768.5 1361 1760.5 1294 1754 1262 1721 1262 1717.5 1276.5 1713 1303.5 1710.5 1333.5 1709.5 1361 1705 1393.5 1701.5 1408 1697 1420.5 1693.5 1426 1690 1428.5 1687.5 1429 1683 1428 1678 1423.5 1675 1419 1670 1407.5 1664.5 1384.5 1658 1338 1654.5 1326.5 1646 1307.5 1641 1287.5 1639.5 1278 1639 1278 1636 1264 1635 1262 1591.5 1262 1575 1288 1568 1296.5 1559 1305.5 1551.5 1315.5 1545 1329 1540.5 1342.5 1534 1366 1529 1377.5 1525 1384.5 1515.5 1396 1506 1403 1501.5 1405 1495 1407.5 1485 1409.5 1473.5 1409.5 1457.5 1407.5 1457.5 1563.5 1459.5 1564.5 1475.5 1568 1522 1575.5 1561 1579.5 1589.5 1580.5Z" fill="#5c5cff"/>
<path d="M1572.5 1576 1588.5 1577 1618.5 1577 1641.5 1575.5 1678.5 1572 1738.5 1563.5 1749 1560 1766 1550 1780 1539 1784.5 1534.5 1791.5 1525 1795 1516 1796.5 1504.5 1796 1495 1793 1472 1790.5 1460.5 1782 1433 1780 1423.5 1779.5 1423.5 1776.5 1409.5 1769.5 1384.5 1765.5 1366 1760.5 1319.5 1757 1294 1756.5 1294 1752 1271 1749 1262 1726 1262 1722 1274.5 1717.5 1296.5 1714.5 1319.5 1712 1359 1708.5 1384.5 1704.5 1403 1700.5 1416.5 1696.5 1426 1692.5 1430.5 1690 1432 1685.5 1432 1680.5 1429.5 1677 1426 1672.5 1419 1669.5 1412 1666.5 1403 1664.5 1394 1655 1345 1644.5 1317.5 1635 1278 1632.5 1270 1628.5 1262 1601 1262 1600 1262.5 1575 1303 1557.5 1326.5 1549.5 1342.5 1545 1356 1533.5 1382.5 1524 1396 1517 1403 1510.5 1408 1501 1413 1494 1415.5 1478 1418.5 1457.5 1419 1457.5 1558.5 1481.5 1564.5 1508 1569.5 1538 1573.5 1571.5 1576Z" fill="#6a6aff"/>
<path d="M1556.5 1571.5 1584 1573.5 1623 1573.5 1676 1569.5 1699 1567 1699 1566.5 1715.5 1564 1731.5 1562.5 1743 1560 1750 1557 1756.5 1553 1766 1545.5 1773 1538.5 1780 1530.5 1784.5 1523 1788.5 1511.5 1789 1497.5 1788 1488 1782 1463 1780.5 1449 1776 1421 1762.5 1366 1756.5 1312.5 1753.5 1294 1750 1278.5 1747.5 1271 1744 1264 1742 1262 1733 1262 1729 1268.5 1724 1282.5 1720.5 1299 1717.5 1319.5 1715.5 1347.5 1712.5 1372.5 1704 1411 1701.5 1419 1697 1429.5 1694 1433 1690 1435 1685.5 1435 1680.5 1433 1676 1428.5 1669 1416 1664.5 1403 1654 1356.5 1642 1322 1635.5 1294 1632 1282.5 1629 1275.5 1625.5 1270 1621 1266 1616 1264.5 1611.5 1265 1608.5 1266.5 1604.5 1269.5 1599.5 1275.5 1593 1285.5 1586.5 1298 1575 1317.5 1565.5 1331 1558.5 1343 1553 1354 1545 1373 1539 1384.5 1531 1396 1525 1403 1511 1414.5 1496.5 1421.5 1481 1426 1457.5 1430 1457.5 1553 1471 1557.5 1498.5 1564 1526.5 1568.5 1554 1571.5Z" fill="#7878ff"/>
<path d="M1565.5 1569 1586.5 1570.5 1625.5 1570.5 1678 1567 1697 1565 1717.5 1561.5 1734 1560 1740.5 1558.5 1750 1554.5 1758.5 1548.5 1766 1541.5 1776.5 1527.5 1780 1520.5 1783.5 1506.5 1783.5 1495 1779.5 1472 1776.5 1439.5 1774.5 1426 1769 1400.5 1763.5 1381 1758.5 1359 1755 1324 1750 1294 1747.5 1285 1743.5 1275.5 1738.5 1271 1736 1271.5 1733.5 1273.5 1730.5 1278 1728.5 1282.5 1724.5 1296.5 1720.5 1319.5 1715.5 1367 1704 1416 1698.5 1430.5 1694.5 1435.5 1691 1437.5 1687.5 1438 1680.5 1436 1676 1432 1669 1421 1663 1405 1651 1359 1650.5 1359 1642 1333.5 1635.5 1308 1630.5 1292 1625.5 1282 1621 1277.5 1617 1275.5 1613 1275.5 1609.5 1277 1604.5 1281 1598 1289.5 1576.5 1329 1558.5 1359 1545 1385 1532 1403 1520 1414.5 1503.5 1425 1492 1430 1466.5 1437.5 1457.5 1441 1457.5 1547 1475.5 1554 1505.5 1561.5 1540 1567 1564.5 1569Z" fill="#8787ff"/>
<path d="M1575 1567 1595.5 1568 1618.5 1568 1669 1565.5 1692 1563.5 1713 1560 1733.5 1558 1743 1555.5 1754.5 1549 1762.5 1541.5 1768.5 1534 1772.5 1527.5 1776 1520.5 1779.5 1506.5 1779.5 1490.5 1776 1463 1775.5 1451.5 1773.5 1433 1768.5 1406 1756.5 1362 1754.5 1349.5 1752 1324 1747.5 1300.5 1743 1288 1741 1285 1738.5 1283.5 1736 1283.5 1733.5 1285.5 1729.5 1294 1728 1299 1724 1317.5 1719.5 1356.5 1715.5 1376 1703 1423.5 1700.5 1430.5 1697 1436.5 1694.5 1438.5 1687.5 1440.5 1680.5 1438.5 1674 1433 1669.5 1426 1664 1414.5 1661.5 1407.5 1652.5 1375 1640 1338 1631 1305.5 1627 1296.5 1623 1290.5 1618.5 1287 1614 1286.5 1609.5 1288 1604.5 1292 1598 1301 1591.5 1312.5 1580 1336 1560 1370.5 1545.5 1393.5 1533.5 1408.5 1522 1419 1512.5 1426 1500 1433 1467.5 1446.5 1457.5 1452.5 1457.5 1540 1464 1544 1474 1548.5 1494 1555 1531 1562.5 1573 1567Z" fill="#9595ff"/>
<path d="M1581.5 1564.5 1614 1565.5 1667 1563.5 1687.5 1562 1713 1558 1731.5 1556.5 1743 1553.5 1752 1548.5 1761.5 1539.5 1768.5 1529.5 1772 1523 1774.5 1516 1777 1502 1776.5 1483.5 1772 1435 1766.5 1405 1753.5 1359 1750.5 1340.5 1749.5 1329 1746.5 1312.5 1743 1301.5 1738.5 1296 1736 1296.5 1733.5 1299 1730.5 1305.5 1726.5 1322 1721.5 1359 1709 1407.5 1704 1425.5 1701 1433 1698.5 1437.5 1694.5 1441 1690 1442.5 1685.5 1442.5 1680.5 1441 1675.5 1437.5 1671.5 1433 1667 1426 1658.5 1405 1651 1380 1641 1352 1632.5 1322 1632 1322 1629 1312.5 1627 1308 1622.5 1301 1618.5 1298 1614 1297 1611.5 1297.5 1607 1300.5 1602.5 1305.5 1593 1321.5 1586.5 1336 1576.5 1354 1575 1358 1570 1366 1558 1384.5 1544.5 1403 1534 1414.5 1522 1425 1510.5 1433 1496.5 1441 1471 1454 1464 1459 1457.5 1465 1457.5 1532.5 1467 1539 1475.5 1543.5 1487.5 1548.5 1503.5 1553.5 1538 1560.5 1563 1563.5 1579.5 1564.5Z" fill="#a3a3ff"/>
<path d="M1586.5 1562 1614 1563 1676 1561 1697 1559 1713 1556 1729 1555 1738.5 1553 1745 1550.5 1752 1546 1757 1541.5 1763 1534.5 1766 1530 1770.5 1520.5 1773 1512.5 1774.5 1504.5 1775 1488 1771 1439.5 1768.5 1422.5 1763 1398 1751 1359 1743.5 1319.5 1740.5 1312.5 1738.5 1310.5 1736 1311 1733.5 1314 1731.5 1319.5 1727.5 1338 1725.5 1352 1722 1366 1715.5 1386.5 1708.5 1414.5 1704 1429.5 1701.5 1435.5 1697 1442 1694.5 1443.5 1692 1444.5 1684.5 1444.5 1678.5 1442 1672.5 1437.5 1666 1428 1661.5 1419 1641.5 1363.5 1629 1324 1623 1313 1621 1310.5 1616.5 1308 1611.5 1308.5 1604.5 1314 1598 1324 1584.5 1352 1575 1369.5 1561 1389.5 1546.5 1407.5 1533.5 1421 1519 1433 1501.5 1444.5 1487 1452.5 1470 1465 1464 1471.5 1459 1479 1457.5 1482.5 1457.5 1522 1464.5 1530 1470.5 1534.5 1487 1543.5 1500 1548.5 1516.5 1553 1545 1558.5 1572.5 1561.5 1585.5 1562Z" fill="#b1b1ff"/>
<path d="M1591 1560 1621 1560.5 1678.5 1559 1704 1556 1713 1554 1724.5 1553.5 1736 1552 1743 1549.5 1750 1545.5 1757 1539 1761.5 1533.5 1768.5 1520.5 1771 1511.5 1773 1500 1773 1481.5 1770.5 1458 1770 1446.5 1768.5 1432.5 1766 1418.5 1762 1400.5 1758 1386.5 1745.5 1349.5 1741.5 1333.5 1738.5 1328.5 1736 1329 1733.5 1333 1726.5 1359 1717 1386.5 1708.5 1419 1704 1433.5 1701.5 1438.5 1696.5 1444.5 1692 1446.5 1687.5 1447 1683 1446 1676 1443 1669 1436.5 1665 1430.5 1657.5 1415 1650 1396 1628 1333.5 1623 1324 1618.5 1320 1616 1319 1611 1319.5 1605.5 1324 1602 1329 1594.5 1342.5 1586.5 1360 1579.5 1372.5 1571.5 1384.5 1552.5 1407.5 1538 1422.5 1526 1433 1515 1441.5 1487 1460.5 1482.5 1464 1474.5 1472 1471 1476.5 1464.5 1488 1462.5 1495 1460.5 1506.5 1462 1513.5 1464 1518.5 1471 1527 1475.5 1531 1493.5 1541.5 1508 1547 1512.5 1548 1512.5 1548.5 1535.5 1554 1563 1558 1590 1560Z" fill="#bfbfff"/>
<path d="M1595.5 1557.5 1600 1558 1674 1557.5 1694.5 1555.5 1713 1552 1727 1551.5 1738.5 1549.5 1750 1543.5 1761.5 1530.5 1765.5 1523 1768.5 1515.5 1771.5 1500 1771 1474.5 1767.5 1437.5 1765 1421 1761.5 1405 1754 1379.5 1743.5 1354 1740.5 1349.5 1738.5 1347.5 1736 1347.5 1733.5 1350 1729 1359 1722 1376.5 1716.5 1393.5 1706.5 1430.5 1704 1437 1701.5 1441.5 1697 1446.5 1692 1448.5 1685.5 1448.5 1675 1444.5 1669 1439.5 1664 1433 1654.5 1414.5 1653 1409.5 1641.5 1382 1632.5 1356.5 1626.5 1342.5 1621 1333.5 1618 1331 1614 1330 1611.5 1330.5 1607.5 1333.5 1604.5 1337 1597 1349.5 1586.5 1371 1585 1372.5 1578 1384.5 1568 1397.5 1540.5 1426 1518.5 1444.5 1517 1445 1510.5 1450.5 1498.5 1459 1486.5 1469.5 1480.5 1476.5 1476 1483.5 1471 1495 1469.5 1502 1469.5 1509 1470.5 1513.5 1475.5 1522.5 1483.5 1530 1498.5 1539 1508 1543 1525.5 1548.5 1549.5 1553.5 1575 1556.5 1593.5 1557.5Z" fill="#cdcdff"/>
<path d="M1598 1555.5 1669 1556 1687.5 1554.5 1713 1550 1733.5 1549 1738.5 1547.5 1747.5 1543 1754.5 1537 1760 1530 1766 1517.5 1768 1511.5 1770 1497.5 1770 1479 1765.5 1435 1761 1409.5 1754.5 1386.5 1747 1368 1743 1361 1738.5 1357 1736 1357 1733.5 1359 1729 1365.5 1725.5 1372.5 1718 1393.5 1708.5 1428.5 1704 1440 1701.5 1444 1697 1448.5 1692 1450.5 1685.5 1450.5 1676 1447 1672 1444.5 1664.5 1437.5 1660 1430.5 1654 1419 1625.5 1352 1618.5 1343 1616 1342 1611 1342.5 1604.5 1348.5 1597 1361 1586.5 1381 1575 1397 1561 1412 1545 1427.5 1525.5 1444.5 1512.5 1454.5 1498.5 1466.5 1487 1479.5 1482 1488 1479.5 1495 1478 1501 1477.5 1509 1478.5 1513.5 1481 1518.5 1484.5 1523 1492.5 1530 1498.5 1534 1505.5 1537.5 1515 1541.5 1528.5 1546 1551.5 1551 1565.5 1553 1588.5 1555 1596 1555Z" fill="#dcdcff"/>
<path d="M1600 1553 1648.5 1554.5 1671.5 1554 1692 1552 1713 1548 1727 1548 1738.5 1546 1743 1544 1750 1539 1756.5 1532 1761 1525 1765 1516 1767 1509 1769 1493 1768.5 1476.5 1765 1451.5 1764 1437.5 1762 1423.5 1759 1409.5 1755 1393.5 1750 1379.5 1745.5 1370.5 1740.5 1364.5 1738.5 1363.5 1736 1363.5 1733.5 1365 1728 1372.5 1722 1386.5 1708.5 1433 1704 1443 1699 1449 1695.5 1451.5 1692 1452.5 1687.5 1452.5 1681.5 1451.5 1671.5 1446.5 1664.5 1440.5 1658.5 1433 1645.5 1407.5 1638.5 1391 1625.5 1363.5 1621 1357 1618.5 1355 1614 1353.5 1611.5 1354 1604 1361 1586.5 1390 1575 1404.5 1545 1433 1515.5 1458 1498.5 1475 1490 1488 1487 1495.5 1485 1504.5 1485 1509 1487 1515.5 1492.5 1523 1501 1530 1517 1538.5 1535.5 1544.5 1553.5 1548.5 1581.5 1552 1598 1553Z" fill="#eaeaff"/>
<path d="M1600 1550.5 1639.5 1552.5 1667 1552.5 1685.5 1551 1710.5 1546 1729 1546 1738.5 1544 1744 1541.5 1750 1537 1754.5 1532 1760.5 1523 1763.5 1516 1765.5 1509 1767.5 1495 1767 1476.5 1763.5 1453.5 1761.5 1433 1759 1418.5 1754.5 1398 1751.5 1389 1746.5 1377.5 1743.5 1372.5 1741.5 1370.5 1738.5 1368.5 1733.5 1370 1731 1372.5 1727 1379.5 1722 1391.5 1710 1433 1704 1445.5 1698.5 1451.5 1694.5 1454 1687.5 1454.5 1680.5 1453 1674 1450 1664.5 1443.5 1659 1437.5 1648 1419 1632 1386.5 1624 1372.5 1620 1368 1614 1365.5 1611.5 1366 1608.5 1368 1604 1372.5 1586.5 1398.5 1575 1411.5 1524 1456.5 1510.5 1469.5 1510.5 1470.5 1505.5 1475.5 1498.5 1486 1494 1496.5 1492 1506.5 1493.5 1513.5 1496 1518.5 1500 1523 1509 1530 1528.5 1539 1540 1542.5 1561 1547 1586.5 1550 1598.5 1550.5Z" fill="#f8f8ff"/>
<path d="M1644 1550.5 1648.5 1551 1671.5 1550.5 1689 1548.5 1708.5 1544 1727 1544.5 1736 1543 1743 1540 1750 1534.5 1756 1527.5 1761 1518.5 1764 1509 1766 1497.5 1766 1481.5 1764 1465 1760.5 1446.5 1758 1423.5 1752.5 1398 1748.5 1386.5 1745 1379.5 1740.5 1374.5 1738.5 1373.5 1736 1373.5 1733.5 1375 1729 1380.5 1724 1391 1719.5 1405 1714 1426 1710 1437.5 1704 1448 1701 1451.5 1695 1456 1687.5 1456.5 1680.5 1455 1673 1451.5 1662.5 1444.5 1657.5 1439.5 1653 1433 1626.5 1386.5 1620.5 1379.5 1616 1377 1614 1377 1609.5 1378.5 1604.5 1382.5 1589 1403 1579.5 1413.5 1542.5 1445.5 1517 1470 1511.5 1476.5 1505.5 1486 1501.5 1495 1499 1504.5 1500.5 1513.5 1503.5 1518.5 1507.5 1523 1515 1528.5 1526.5 1534.5 1540 1539.5 1549.5 1541.5 1551.5 1542.5 1572.5 1546 1598.5 1548.5 1642.5 1550.5Z" fill="#fff6f6"/>
<path d="M1641.5 1548.5 1666 1548.5 1680.5 1547 1690 1545.5 1708.5 1541 1717.5 1541 1724.5 1542 1732 1541.5 1743 1537.5 1743.5 1536.5 1747 1534.5 1751.5 1530 1756.5 1523 1761.5 1511.5 1763.5 1502 1764.5 1493 1763.5 1474.5 1758 1451.5 1754.5 1421 1751 1403 1745 1386.5 1743 1383.5 1738.5 1380 1736 1380 1733.5 1381 1729 1387 1722 1405 1715.5 1429 1713 1435.5 1708.5 1444.5 1704 1451 1697 1458 1694.5 1459 1690 1459.5 1680.5 1457.5 1669 1452 1658.5 1444.5 1653 1439 1648.5 1433 1639.5 1417.5 1626 1398 1621 1393 1617.5 1391 1614 1390.5 1610.5 1391 1604.5 1395 1587 1414.5 1579.5 1421.5 1558.5 1438.5 1536.5 1458 1523.5 1472 1517 1480.5 1510.5 1493 1507.5 1504.5 1507.5 1509 1509 1513.5 1512.5 1518.5 1519.5 1525 1528.5 1530.5 1547 1537.5 1570 1542.5 1598 1545.5 1641 1548.5Z" fill="#ffe4e4"/>
<path d="M1639.5 1546 1657.5 1546.5 1676 1545 1693 1541.5 1706 1537.5 1713 1537.5 1727 1539.5 1731.5 1539 1736 1538 1743 1534.5 1750 1528.5 1754 1523 1758.5 1513.5 1762 1500 1762.5 1495 1762 1479 1759 1465 1755 1453.5 1752.5 1442 1751 1421 1747.5 1403 1743 1391 1738.5 1387 1736 1387 1733.5 1388.5 1729 1395 1715.5 1436.5 1704 1454 1697 1461 1692 1462.5 1683 1461 1669 1454.5 1657.5 1447.5 1646 1436 1636 1421 1626.5 1409.5 1621 1404.5 1616 1402.5 1614 1402.5 1609.5 1403.5 1602.5 1408 1575 1433 1558.5 1445.5 1547 1455.5 1535.5 1467 1523 1483.5 1520.5 1488 1517 1497.5 1515.5 1504.5 1516.5 1511.5 1519 1516 1524 1521.5 1533.5 1527.5 1538.5 1530 1554 1535.5 1572.5 1539.5 1607 1543.5 1639 1546Z" fill="#ffd1d1"/>
<path d="M1639.5 1544 1660 1544 1671.5 1543 1687.5 1539.5 1701.5 1534.5 1708.5 1533 1724.5 1536.5 1731.5 1536.5 1738 1534.5 1743 1531.5 1750 1525 1754.5 1517.5 1758.5 1506.5 1760.5 1493 1760.5 1486 1757.5 1469.5 1750 1451.5 1748 1444.5 1745.5 1414.5 1743.5 1405 1741.5 1400.5 1738.5 1396.5 1736 1396.5 1733.5 1398 1729.5 1405 1722 1430.5 1718.5 1437.5 1704 1457 1697 1465 1692 1466.5 1680 1463 1655 1449 1646 1442 1628.5 1421 1621 1415 1614 1413 1607 1415 1600 1419.5 1584 1433 1558.5 1452.5 1545 1465 1533.5 1479 1528 1488 1526 1493 1523.5 1502 1523.5 1509 1527 1516 1535 1523 1549 1530 1564.5 1534.5 1591 1539 1632.5 1543.5 1637.5 1543.5Z" fill="#ffbfbf"/>
<path d="M1637 1541.5 1651 1542 1669 1540.5 1680.5 1538 1690 1535 1704 1528.5 1708.5 1528.5 1717.5 1532 1724.5 1533.5 1731.5 1533.5 1740.5 1530 1748 1523 1751.5 1518.5 1755.5 1509 1758 1497.5 1758 1483.5 1754.5 1469.5 1750 1459.5 1745 1451.5 1740.5 1442 1738.5 1433 1738 1426 1737 1421 1736 1419.5 1733.5 1420.5 1728.5 1433 1725.5 1437.5 1710.5 1451.5 1701.5 1464.5 1696.5 1470 1690 1470.5 1674 1463 1667 1458.5 1648.5 1448.5 1643 1444.5 1629 1430.5 1621 1424.5 1616 1423 1611.5 1423 1604.5 1425.5 1594 1433 1593 1433 1558.5 1459.5 1547 1471 1540 1480 1535.5 1488 1531 1502 1531 1509 1532 1511.5 1537.5 1518.5 1547 1524.5 1563 1530.5 1584 1535 1616 1539.5 1636 1541.5Z" fill="#ffadad"/>
<path d="M1637 1539 1653 1539.5 1660 1539 1674 1536.5 1685.5 1532.5 1690.5 1530 1699 1524 1704 1522.5 1708.5 1523.5 1722 1530 1731.5 1530.5 1736 1529 1744.5 1523 1750 1515.5 1752 1511.5 1754.5 1502.5 1755.5 1495 1755.5 1486 1754.5 1480 1750 1467 1744.5 1458 1738.5 1450.5 1733 1446.5 1729 1445.5 1722 1446.5 1715.5 1450.5 1708 1458 1698.5 1474.5 1697 1476 1694.5 1477 1687.5 1474.5 1667 1461.5 1646 1451 1634.5 1443.5 1624 1435 1616 1432 1611.5 1432 1607 1433 1595 1439.5 1569 1458 1558.5 1467 1551.5 1474.5 1544 1486 1540 1494.5 1538 1506.5 1539.5 1511.5 1546 1518.5 1551.5 1522 1561 1526 1581.5 1531.5 1618.5 1537.5 1635 1539Z" fill="#ff9b9b"/>
<path d="M1634.5 1537 1657.5 1536.5 1668 1534.5 1676 1532 1685.5 1527.5 1691.5 1523 1699 1515 1701.5 1513.5 1704 1514 1710.5 1519.5 1720 1525.5 1727 1527 1733.5 1526 1739.5 1523 1743 1520 1746 1516 1750.5 1506.5 1752.5 1495 1752 1483.5 1748.5 1472 1744.5 1465 1739 1458 1731.5 1452.5 1727 1451.5 1720 1452 1716.5 1453.5 1711 1458 1706 1466 1699 1484.5 1697 1487 1694.5 1487 1692 1485.5 1685.5 1479 1674 1469.5 1662.5 1462 1639 1451.5 1621 1441.5 1614 1440 1607 1441 1595.5 1446.5 1578 1458 1563 1470.5 1557.5 1476.5 1551.5 1485 1547 1495 1545.5 1502 1546 1509 1549 1513.5 1554.5 1518.5 1568 1524.5 1590 1530 1611.5 1534 1630 1536.5 1634.5 1536.5Z" fill="#ff8989"/>
<path d="M1634.5 1534.5 1651 1534.5 1667 1531.5 1676 1527.5 1683 1523 1685.5 1521 1689.5 1516 1691.5 1511.5 1692.5 1506.5 1692 1506.5 1691.5 1502 1689.5 1495 1682.5 1483.5 1668.5 1469.5 1660 1464 1647 1458 1623 1449.5 1616 1448 1611.5 1448 1604.5 1449.5 1600 1451.5 1593 1455 1584 1461 1570 1472 1560 1483.5 1554.5 1495 1552.5 1504.5 1553.5 1509 1558.5 1515 1563 1518 1568.5 1520.5 1581.5 1525 1614 1532 1634.5 1534.5ZM1727 1523 1731.5 1522.5 1738.5 1519 1744.5 1511.5 1747.5 1503 1749 1490.5 1747 1479 1743 1470 1739.5 1465 1731.5 1458 1724.5 1456 1717.5 1457 1713 1460.5 1709.5 1465 1706 1473.5 1704 1483.5 1704 1495 1705 1502 1710.5 1513 1716 1518.5 1719 1520.5 1722 1522 1726.5 1523Z" fill="#ff7676"/>
<path d="M1637 1532 1648.5 1532 1655.5 1531 1664.5 1528.5 1674 1524 1680 1518.5 1683 1514 1685 1506.5 1684.5 1502 1681.5 1493 1674 1480.5 1667 1473 1662.5 1469.5 1648.5 1462 1636 1458 1618.5 1454.5 1614 1454.5 1600.5 1458 1593 1462 1579 1472 1570 1481 1565 1488 1563 1491.5 1561 1497.5 1560 1504.5 1561 1508 1563 1511.5 1568 1515.5 1573.5 1518.5 1581.5 1521.5 1600 1526.5 1618.5 1530.5 1630 1532 1636 1532ZM1722 1517 1729 1518 1736 1514.5 1740.5 1509 1742.5 1504.5 1744 1497.5 1744 1486 1741 1476.5 1739 1472 1736 1468 1733 1465 1729 1462.5 1724.5 1461 1720 1461 1716 1463 1713 1465.5 1710.5 1469.5 1708 1479 1707.5 1488 1710 1502 1715 1511.5 1720 1516Z" fill="#ff6464"/>
<path d="M1618.5 1528 1630 1529.5 1644 1529.5 1657.5 1527 1667 1523 1670.5 1520.5 1674 1517.5 1677.5 1511.5 1678.5 1506.5 1677 1497.5 1672 1486 1665 1476.5 1656.5 1469.5 1647 1465 1637 1462 1623 1460 1618.5 1460 1607 1462 1598 1466 1584 1475.5 1576 1483.5 1570 1493 1568.5 1497.5 1567.5 1504.5 1569 1509 1571 1511.5 1577 1515.5 1583.5 1518.5 1595.5 1522.5 1616 1527.5ZM1722 1510.5 1727 1511 1731.5 1509.5 1735.5 1504.5 1738 1495 1738 1486 1737 1481.5 1735 1476.5 1732 1472 1729 1469.5 1724.5 1467 1718.5 1467.5 1714 1472 1712.5 1476.5 1711.5 1481.5 1711.5 1488 1712.5 1495 1715 1502 1717.5 1506.5 1720 1509Z" fill="#ff5252"/>
<path d="M1618.5 1525.5 1630 1527 1641.5 1527 1651 1525.5 1651 1525 1658 1523 1665.5 1518.5 1671 1511.5 1672 1509 1672 1502 1669.5 1493 1665 1483.5 1660 1477.5 1655.5 1473.5 1646 1468.5 1632.5 1465 1623 1464.5 1614 1465.5 1600 1471 1593 1475.5 1584 1484 1579 1490.5 1576 1497.5 1575 1504.5 1577 1509 1579.5 1511.5 1584 1514.5 1593 1518.5 1607 1523 1617 1525ZM1724.5 1498 1727 1496.5 1729 1490.5 1729 1488 1727 1480.5 1724.5 1478 1722 1477.5 1720 1478 1717.5 1483 1717.5 1488 1719 1493 1723 1497.5Z" fill="#ff4040"/>
<path d="M1618.5 1523 1634.5 1524.5 1641.5 1524 1648.5 1522.5 1658 1518.5 1662.5 1514.5 1665.5 1509 1666 1502 1664.5 1495 1662.5 1489.5 1659 1483.5 1655 1479 1648.5 1474 1641.5 1471 1632.5 1469 1621 1469 1616 1470 1607 1473 1602.5 1475.5 1593 1482.5 1588 1488 1583 1497.5 1582.5 1500 1583 1506.5 1584 1508.5 1587 1511.5 1600 1518 1618 1523Z" fill="#ff2e2e"/>
<path d="M1621 1520.5 1625.5 1521.5 1634.5 1521.5 1639.5 1521 1649 1518.5 1653 1516 1658 1511.5 1660 1506.5 1660 1502 1658.5 1495 1655.5 1488 1652.5 1483.5 1647.5 1479 1643.5 1476.5 1637 1474 1630 1473 1625.5 1473 1616 1474.5 1611.5 1476 1604.5 1480 1595 1488 1590.5 1495 1589 1500 1589.5 1506.5 1594.5 1511.5 1600 1514.5 1610 1518.5 1620 1520.5Z" fill="#ff1b1b"/>
<path d="M1625.5 1518.5 1633.5 1518.5 1644 1516 1651 1511 1653.5 1504.5 1653.5 1502 1651 1492 1647 1486 1644 1483 1639.5 1480 1632.5 1478 1627.5 1477.5 1621 1478 1617.5 1479 1607 1484 1602 1488 1600 1490.5 1597 1495 1595 1502 1595.5 1506 1601 1511.5 1611.5 1516 1624.5 1518.5Z" fill="#ff0909"/>
</g></g>
<rect x="1482.4" y="1286.6" width="502.6" height="297" fill="none" stroke="#000" stroke-width="1.6"/>
<line x1="1477.9" y1="1583.6" x2="1482.4" y2="1583.6" stroke="#000" stroke-width="1.5"/>
<line x1="1473.9" y1="1534.1" x2="1482.4" y2="1534.1" stroke="#000" stroke-width="1.5"/>
<text x="1465" y="1543.1" font-size="26.2" text-anchor="end">1</text>
<line x1="1477.9" y1="1484.6" x2="1482.4" y2="1484.6" stroke="#000" stroke-width="1.5"/>
<line x1="1473.9" y1="1435.1" x2="1482.4" y2="1435.1" stroke="#000" stroke-width="1.5"/>
<text x="1465" y="1444.1" font-size="26.2" text-anchor="end">2</text>
<line x1="1477.9" y1="1385.6" x2="1482.4" y2="1385.6" stroke="#000" stroke-width="1.5"/>
<line x1="1473.9" y1="1336.1" x2="1482.4" y2="1336.1" stroke="#000" stroke-width="1.5"/>
<text x="1465" y="1345.1" font-size="26.2" text-anchor="end">3</text>
<line x1="1477.9" y1="1286.6" x2="1482.4" y2="1286.6" stroke="#000" stroke-width="1.5"/>
<line x1="1482.4" y1="1583.6" x2="1482.4" y2="1593.1" stroke="#000" stroke-width="1.5"/>
<line x1="1545.2" y1="1583.6" x2="1545.2" y2="1589.1" stroke="#000" stroke-width="1.5"/>
<line x1="1608.1" y1="1583.6" x2="1608.1" y2="1593.1" stroke="#000" stroke-width="1.5"/>
<line x1="1670.9" y1="1583.6" x2="1670.9" y2="1589.1" stroke="#000" stroke-width="1.5"/>
<line x1="1733.7" y1="1583.6" x2="1733.7" y2="1593.1" stroke="#000" stroke-width="1.5"/>
<line x1="1796.5" y1="1583.6" x2="1796.5" y2="1589.1" stroke="#000" stroke-width="1.5"/>
<line x1="1859.3" y1="1583.6" x2="1859.3" y2="1593.1" stroke="#000" stroke-width="1.5"/>
<line x1="1922.2" y1="1583.6" x2="1922.2" y2="1589.1" stroke="#000" stroke-width="1.5"/>
<line x1="1985" y1="1583.6" x2="1985" y2="1593.1" stroke="#000" stroke-width="1.5"/>
<text x="1441" y="1435.1" font-size="29" text-anchor="middle" transform="rotate(-90 1441 1435.1)">R + α (Å)</text>
<text x="1531" y="64.3" font-size="25.6" fill="#fff">Fe foil</text>
<text x="1944.5" y="373" font-size="25.6" text-anchor="end" fill="#fff">FeTpp</text>
<text x="1970.8" y="689.5" font-size="25.3" text-anchor="end" fill="#fff">Fe-pdN-C(O)</text>
<text x="1972" y="1005.4" font-size="25.3" text-anchor="end" fill="#fff">Fe-poN-C(O)</text>
<text x="1977.5" y="1324.7" font-size="25.3" text-anchor="end" fill="#fff">Fe-poN-C/Fe</text>
<text x="1802" y="133.3" font-size="25.4" text-anchor="middle">Fe-Fe</text>
<line x1="1798.7" y1="143.3" x2="1798.7" y2="277.5" stroke="#000" stroke-width="2.0" stroke-dasharray="9.4,9.68"/>
<text x="1612" y="461.1" font-size="25.4" text-anchor="middle">Fe-N</text>
<line x1="1609" y1="470.9" x2="1609" y2="606" stroke="#000" stroke-width="2.0" stroke-dasharray="9.4,9.68"/>
<text x="1608" y="759.4" font-size="25.4" text-anchor="middle">Fe-N</text>
<line x1="1605.9" y1="768.5" x2="1605.9" y2="904.2" stroke="#000" stroke-width="2.0" stroke-dasharray="9.4,9.68"/>
<text x="1609" y="1083.5" font-size="25.4" text-anchor="middle">Fe-N</text>
<line x1="1607.1" y1="1092.7" x2="1607.1" y2="1228.4" stroke="#000" stroke-width="2.0" stroke-dasharray="9.4,9.68"/>
<text x="1609" y="1404.6" font-size="25.4" text-anchor="middle">Fe-N</text>
<line x1="1607.1" y1="1414.7" x2="1607.1" y2="1549.5" stroke="#000" stroke-width="2.0" stroke-dasharray="9.4,9.68"/>
<text x="1740" y="1368" font-size="25.4" text-anchor="middle">Fe-Fe</text>
<line x1="1738.3" y1="1375" x2="1738.3" y2="1482.4" stroke="#000" stroke-width="2.0" stroke-dasharray="9.4,9.68"/>
<text x="1482.4" y="1618.1" font-size="26.2" text-anchor="middle">0</text>
<text x="1608.1" y="1618.1" font-size="26.2" text-anchor="middle">3</text>
<text x="1733.7" y="1618.1" font-size="26.2" text-anchor="middle">6</text>
<text x="1859.3" y="1618.1" font-size="26.2" text-anchor="middle">9</text>
<text x="1985" y="1618.1" font-size="26.2" text-anchor="middle">12</text>
<text x="1697" y="1645.5" font-size="28.5"><tspan font-style="italic">k</tspan> (Å<tspan font-size="17" dy="-10">-1</tspan><tspan dy="10">)</tspan></text>
<text x="1398.5" y="32.8" font-size="38" font-weight="bold">c</text>
<defs><clipPath id="cd"><rect x="56.5" y="606.7" width="503.6" height="414.19999999999993"/></clipPath></defs>
<g clip-path="url(#cd)">
<path d="M56.5,981.6C57.6,979.3 60.6,971.1 63,968C65.3,964.9 68.3,962.6 70.6,962.8C72.9,963 74.7,966.1 77,969C79.3,971.9 82.2,980.3 84.7,980.1C87.2,979.9 89.4,972.2 92,968C94.6,963.8 97.7,956.7 100.4,955C103.1,953.3 105.7,956.4 108,958C110.3,959.6 112.6,965.7 114.5,964.4C116.4,963.1 117.5,957.4 119.2,950.3C121,943.2 122.9,931.4 125,922C127.1,912.6 129.6,903.1 131.8,893.8C134,884.5 135.9,875.4 138,866C140.1,856.6 142.5,846.6 144.3,837.3C146.1,828 147.4,819.9 149,810C150.6,800.1 152.3,789 153.8,777.7C155.3,766.4 156.4,755.1 158,742C159.6,728.9 161.7,709.5 163.2,699.2C164.7,688.9 165.6,684.7 167,680C168.4,675.3 170.2,672 171.6,671C173,670 174.3,671.9 175.5,674C176.7,676.1 177.8,678 178.9,683.5C180,689 181,698.1 182,707C183,715.9 184.1,726.4 185.1,736.9C186.1,747.4 186.9,759.5 188,770C189.1,780.5 190.3,791.4 191.4,799.7C192.5,808 193.4,815.3 194.5,820C195.6,824.7 196.3,827.6 197.7,827.9C199.1,828.2 200.9,823.8 203,822C205.1,820.2 207.9,816.4 210.2,816.9C212.5,817.4 215,821.8 217,825C219,828.2 220.5,834 222,836C223.5,838 224.4,838.6 225.9,837.3C227.4,836 228.9,832.2 231,828C233.1,823.8 236.3,817.2 238.5,812.2C240.7,807.2 241.9,801.4 244,798C246.1,794.6 249,792.6 251,791.8C253,791 254.4,791.7 256,793C257.6,794.3 258.9,795.9 260.4,799.7C261.9,803.5 263.4,809.2 265,816C266.6,822.8 268.3,832.4 269.9,840.4C271.5,848.4 272.9,855.6 274.5,864C276.1,872.4 277.7,881.9 279.3,890.6C280.9,899.3 282.4,907.6 284,916C285.6,924.4 287.4,934.9 288.7,940.9C290,946.9 290.7,949.4 292,952C293.3,954.6 294.7,955.8 296.5,956.5C298.3,957.2 300.6,956.5 303,956C305.4,955.5 307.8,955.7 310.6,953.4C313.4,951.1 317.1,945.7 320,942C322.9,938.3 325.9,932.9 327.9,931.4C329.9,929.9 330.7,931.4 332,933C333.3,934.6 334.5,936.7 335.8,940.9C337.1,945.1 338.4,951.7 340,958C341.6,964.3 343.6,974.3 345.2,978.5C346.8,982.7 348.6,985 349.9,983.2C351.2,981.5 352,972.5 353,968C354,963.5 354.8,961.2 356.1,956.5C357.4,951.8 359.2,944.2 361,940C362.8,935.8 365.1,931.9 367.1,931.4C369.1,930.9 370.9,934.1 373,937C375.1,939.9 377.9,945.7 379.7,948.7C381.5,951.7 382.4,953.2 384,955C385.6,956.8 387.1,959.9 389.1,959.7C391.1,959.5 393.4,956.1 396,954C398.6,951.9 400.2,948.8 404.8,947.1C409.4,945.4 416.8,945.6 423.6,944C430.4,942.4 440.4,938 445.6,937.7C450.8,937.4 451.9,939.9 455,942C458.1,944.1 461.6,947.6 464.4,950.3C467.2,953 469.4,955.4 472,958C474.6,960.6 477.1,964 480.1,966C483.1,968 486.3,969 490,970C493.7,971 497.1,971 502.1,972.2C507.1,973.4 514.2,975.2 520,977C525.8,978.8 531.9,982.7 536.6,983.2C541.3,983.7 544.1,981.6 548,980C551.9,978.4 558.1,974.8 560.1,973.8" fill="none" stroke="#ff4d4d" stroke-width="2.6" stroke-linejoin="round"/>
<g fill="none" stroke="#7d7d7d" stroke-width="2.7"><circle cx="57" cy="980.5" r="5.2"/><circle cx="59.8" cy="974.1" r="5.2"/><circle cx="62.5" cy="968.7" r="5.2"/><circle cx="65.2" cy="965.5" r="5.2"/><circle cx="68" cy="963.4" r="5.2"/><circle cx="70.8" cy="962.8" r="5.2"/><circle cx="73.5" cy="964.6" r="5.2"/><circle cx="76.2" cy="968" r="5.2"/><circle cx="79" cy="972.3" r="5.2"/><circle cx="81.8" cy="977.4" r="5.2"/><circle cx="84.5" cy="980.1" r="5.2"/><circle cx="87.2" cy="977.6" r="5.2"/><circle cx="90" cy="971.9" r="5.2"/><circle cx="92.8" cy="966.7" r="5.2"/><circle cx="95.5" cy="961.8" r="5.2"/><circle cx="98.2" cy="957.3" r="5.2"/><circle cx="101" cy="954.7" r="5.2"/><circle cx="103.8" cy="955" r="5.2"/><circle cx="106.5" cy="956.9" r="5.2"/><circle cx="109.2" cy="959.2" r="5.2"/><circle cx="112" cy="963" r="5.2"/><circle cx="114.8" cy="964.2" r="5.2"/><circle cx="117.5" cy="957.3" r="5.2"/><circle cx="120.2" cy="945.7" r="5.2"/><circle cx="123" cy="931.7" r="5.2"/><circle cx="125.8" cy="918.7" r="5.2"/><circle cx="128.5" cy="907.4" r="5.2"/><circle cx="131.2" cy="896.1" r="5.2"/><circle cx="134" cy="884.1" r="5.2"/><circle cx="136.8" cy="871.7" r="5.2"/><circle cx="139.5" cy="859.3" r="5.2"/><circle cx="142.2" cy="847.1" r="5.2"/><circle cx="145" cy="833.7" r="5.2"/><circle cx="147.8" cy="817.8" r="5.2"/><circle cx="150.5" cy="800.5" r="5.2"/><circle cx="153.2" cy="781.8" r="5.2"/><circle cx="156" cy="759.4" r="5.2"/><circle cx="158.8" cy="735.6" r="5.2"/><circle cx="161.5" cy="712.3" r="5.2"/><circle cx="164.2" cy="692.4" r="5.2"/><circle cx="167" cy="680" r="5.2"/><circle cx="169.8" cy="673.3" r="5.2"/><circle cx="172.5" cy="670.7" r="5.2"/><circle cx="175.2" cy="673.6" r="5.2"/><circle cx="178" cy="679.7" r="5.2"/><circle cx="180.8" cy="696.3" r="5.2"/><circle cx="183.5" cy="720.7" r="5.2"/><circle cx="186.2" cy="750.1" r="5.2"/><circle cx="189" cy="779.5" r="5.2"/><circle cx="191.8" cy="802.4" r="5.2"/><circle cx="194.5" cy="820" r="5.2"/><circle cx="197.2" cy="827.7" r="5.2"/><circle cx="200" cy="825.9" r="5.2"/><circle cx="202.8" cy="822.2" r="5.2"/><circle cx="205.5" cy="819.5" r="5.2"/><circle cx="208.2" cy="817.3" r="5.2"/><circle cx="211" cy="817.2" r="5.2"/><circle cx="213.8" cy="820" r="5.2"/><circle cx="216.5" cy="824.2" r="5.2"/><circle cx="219.2" cy="829.8" r="5.2"/><circle cx="222" cy="836" r="5.2"/><circle cx="224.8" cy="838" r="5.2"/><circle cx="227.5" cy="835.1" r="5.2"/><circle cx="230.2" cy="829.5" r="5.2"/><circle cx="233" cy="824" r="5.2"/><circle cx="235.8" cy="818.2" r="5.2"/><circle cx="238.5" cy="812.2" r="5.2"/><circle cx="241.2" cy="804.6" r="5.2"/><circle cx="244" cy="798" r="5.2"/><circle cx="246.8" cy="794.6" r="5.2"/><circle cx="249.5" cy="792.6" r="5.2"/><circle cx="252.2" cy="791.5" r="5.2"/><circle cx="255" cy="792.2" r="5.2"/><circle cx="257.8" cy="794.8" r="5.2"/><circle cx="260.5" cy="800" r="5.2"/><circle cx="263.2" cy="808.9" r="5.2"/><circle cx="266" cy="820.5" r="5.2"/><circle cx="268.8" cy="834.5" r="5.2"/><circle cx="271.5" cy="848.5" r="5.2"/><circle cx="274.2" cy="862.7" r="5.2"/><circle cx="277" cy="877.8" r="5.2"/><circle cx="279.8" cy="893" r="5.2"/><circle cx="282.5" cy="907.4" r="5.2"/><circle cx="285.2" cy="924.5" r="5.2"/><circle cx="288" cy="945" r="5.2"/><circle cx="290.8" cy="963.3" r="5.2"/><circle cx="293.5" cy="982" r="5.2"/><circle cx="296.2" cy="991.7" r="5.2"/><circle cx="299" cy="990.5" r="5.2"/><circle cx="301.8" cy="987" r="5.2"/><circle cx="304.5" cy="982.9" r="5.2"/><circle cx="307.2" cy="982.5" r="5.2"/><circle cx="310" cy="985.4" r="5.2"/><circle cx="312.8" cy="989" r="5.2"/><circle cx="315.5" cy="993.9" r="5.2"/><circle cx="318.2" cy="996.9" r="5.2"/><circle cx="321" cy="995.1" r="5.2"/><circle cx="323.8" cy="990.7" r="5.2"/><circle cx="326.5" cy="987.1" r="5.2"/><circle cx="329.2" cy="983.5" r="5.2"/><circle cx="332" cy="981.2" r="5.2"/><circle cx="334.8" cy="981.7" r="5.2"/><circle cx="337.5" cy="984.4" r="5.2"/><circle cx="340.2" cy="987.2" r="5.2"/><circle cx="343" cy="990.4" r="5.2"/><circle cx="345.8" cy="993.6" r="5.2"/><circle cx="348.5" cy="995" r="5.2"/><circle cx="351.2" cy="993.3" r="5.2"/><circle cx="354" cy="989.9" r="5.2"/><circle cx="356.8" cy="987.5" r="5.2"/><circle cx="359.5" cy="986" r="5.2"/><circle cx="362.2" cy="985.1" r="5.2"/><circle cx="365" cy="985.3" r="5.2"/><circle cx="367.8" cy="987.1" r="5.2"/><circle cx="370.5" cy="989.6" r="5.2"/><circle cx="373.2" cy="992.2" r="5.2"/><circle cx="376" cy="995.1" r="5.2"/><circle cx="378.8" cy="995.9" r="5.2"/><circle cx="381.5" cy="994.1" r="5.2"/><circle cx="384.2" cy="991.5" r="5.2"/><circle cx="387" cy="989.8" r="5.2"/><circle cx="389.8" cy="988.4" r="5.2"/><circle cx="392.5" cy="988" r="5.2"/><circle cx="395.2" cy="989" r="5.2"/><circle cx="398" cy="990.8" r="5.2"/><circle cx="400.8" cy="992.5" r="5.2"/><circle cx="403.5" cy="994.5" r="5.2"/><circle cx="406.2" cy="996.4" r="5.2"/><circle cx="409" cy="996.9" r="5.2"/><circle cx="411.8" cy="994.9" r="5.2"/><circle cx="414.5" cy="992.7" r="5.2"/><circle cx="417.2" cy="990.9" r="5.2"/><circle cx="420" cy="990" r="5.2"/><circle cx="422.8" cy="990.6" r="5.2"/><circle cx="425.5" cy="992.1" r="5.2"/><circle cx="428.2" cy="993.6" r="5.2"/><circle cx="431" cy="995.1" r="5.2"/><circle cx="433.8" cy="996.6" r="5.2"/><circle cx="436.5" cy="997.8" r="5.2"/><circle cx="439.2" cy="997.8" r="5.2"/><circle cx="442" cy="996.6" r="5.2"/><circle cx="444.8" cy="995.1" r="5.2"/><circle cx="447.5" cy="994" r="5.2"/><circle cx="450.2" cy="993.1" r="5.2"/><circle cx="453" cy="993.2" r="5.2"/><circle cx="455.8" cy="994.1" r="5.2"/><circle cx="458.5" cy="995.4" r="5.2"/><circle cx="461.2" cy="996.5" r="5.2"/><circle cx="464" cy="997.9" r="5.2"/><circle cx="466.8" cy="998.9" r="5.2"/><circle cx="469.5" cy="998.5" r="5.2"/><circle cx="472.2" cy="996.9" r="5.2"/><circle cx="475" cy="995.6" r="5.2"/><circle cx="477.8" cy="994.7" r="5.2"/><circle cx="480.5" cy="994.6" r="5.2"/><circle cx="483.2" cy="995.3" r="5.2"/><circle cx="486" cy="996.3" r="5.2"/><circle cx="488.8" cy="997.3" r="5.2"/><circle cx="491.5" cy="998.3" r="5.2"/><circle cx="494.2" cy="999.3" r="5.2"/><circle cx="497" cy="999.4" r="5.2"/><circle cx="499.8" cy="998.1" r="5.2"/><circle cx="502.5" cy="996.8" r="5.2"/><circle cx="505.2" cy="995.8" r="5.2"/><circle cx="508" cy="995.5" r="5.2"/><circle cx="510.8" cy="996.1" r="5.2"/><circle cx="513.5" cy="997.2" r="5.2"/><circle cx="516.2" cy="998.1" r="5.2"/><circle cx="519" cy="998.9" r="5.2"/><circle cx="521.8" cy="999.6" r="5.2"/><circle cx="524.5" cy="1000" r="5.2"/><circle cx="527.2" cy="999.7" r="5.2"/><circle cx="530" cy="998.7" r="5.2"/><circle cx="532.8" cy="997.8" r="5.2"/><circle cx="535.5" cy="996.9" r="5.2"/><circle cx="538.2" cy="996.5" r="5.2"/><circle cx="541" cy="996.8" r="5.2"/><circle cx="543.8" cy="997.5" r="5.2"/><circle cx="546.5" cy="998.1" r="5.2"/><circle cx="549.2" cy="999" r="5.2"/><circle cx="552" cy="999.8" r="5.2"/><circle cx="554.8" cy="1000" r="5.2"/><circle cx="557.5" cy="999.4" r="5.2"/><circle cx="560.2" cy="998.6" r="5.2"/></g>
</g>
<rect x="56.5" y="606.7" width="503.6" height="414.2" fill="none" stroke="#000" stroke-width="1.5"/>
<line x1="56.5" y1="1020.9" x2="56.5" y2="1029.9" stroke="#000" stroke-width="1.5"/>
<text x="56.5" y="1055.4" font-size="26.2" text-anchor="middle">0</text>
<line x1="140.4" y1="1020.9" x2="140.4" y2="1025.9" stroke="#000" stroke-width="1.5"/>
<line x1="224.4" y1="1020.9" x2="224.4" y2="1029.9" stroke="#000" stroke-width="1.5"/>
<text x="224.4" y="1055.4" font-size="26.2" text-anchor="middle">2</text>
<line x1="308.3" y1="1020.9" x2="308.3" y2="1025.9" stroke="#000" stroke-width="1.5"/>
<line x1="392.2" y1="1020.9" x2="392.2" y2="1029.9" stroke="#000" stroke-width="1.5"/>
<text x="392.2" y="1055.4" font-size="26.2" text-anchor="middle">4</text>
<line x1="476.2" y1="1020.9" x2="476.2" y2="1025.9" stroke="#000" stroke-width="1.5"/>
<line x1="560.1" y1="1020.9" x2="560.1" y2="1029.9" stroke="#000" stroke-width="1.5"/>
<text x="560.1" y="1055.4" font-size="26.2" text-anchor="middle">6</text>
<text x="309" y="1083.6" font-size="27.5" text-anchor="middle">R (Å)</text>
<text x="41" y="813.5" font-size="28.3" text-anchor="middle" transform="rotate(-90 41 813.5)">FT-EXAFS (a.u.)</text>
<line x1="349.9" y1="759.5" x2="399.1" y2="759.5" stroke="#ff4d4d" stroke-width="2.8"/>
<text x="404" y="767.6" font-size="24">Fe-poN-C/Fe</text>
<circle cx="375" cy="792.7" r="5.2" fill="none" stroke="#7d7d7d" stroke-width="2.7"/>
<text x="404" y="800.8" font-size="24">Fit</text>
<text x="-1" y="611.4" font-size="38" font-weight="bold">d</text>
<defs><clipPath id="ce"><rect x="55.1" y="1167.7" width="504.29999999999995" height="415.29999999999995"/></clipPath></defs>
<g clip-path="url(#ce)" fill="none" stroke-linejoin="round">
<path d="M55.1,1279.4 58.7,1284.2 62.3,1279.5 65.9,1278.9 69.5,1274.9 73.1,1279.5 76.7,1288.1 80.3,1283.6 83.9,1287.6 87.5,1282.5 91.1,1283.4 94.7,1282 98.3,1269.6 101.9,1286.4 105.5,1284.1 109.1,1284 112.7,1268.9 116.3,1268.4 119.9,1274.1 123.5,1276.7 127.1,1281.7 130.7,1278.7 134.3,1281.9 137.9,1272.6 141.5,1277.7 145.1,1276.2 148.7,1265.8 152.3,1279.2 155.9,1266.2 159.5,1265.4 163.1,1246 166.7,1238.2 170.3,1233.8 173.9,1228.4 177.5,1227.3 181.1,1218.7 184.7,1209.2 188.3,1202.7 191.9,1205.2 195.5,1219.5 199.1,1206.9 202.7,1219.2 206.3,1225.9 209.9,1217.1 213.5,1235 217.1,1250.5 220.7,1229.9 224.3,1247.7 227.9,1253.1 231.5,1250.3 235.1,1262.9 238.7,1260 242.3,1249.8 245.9,1268.9 249.5,1268.1 253.1,1270.6 256.7,1274.8 260.3,1266.2 263.9,1264.4 267.5,1252.9 271.1,1268.9 274.7,1258.9 278.3,1260.5 281.9,1254 285.5,1256.8 289.1,1260.8 292.7,1276.6 296.3,1248.9 299.9,1254.2 303.5,1269.2 307.1,1280.1 310.7,1273.2 314.3,1252.3 317.9,1247.4 321.5,1273 325.1,1264 328.7,1261.2 332.3,1280.2 335.9,1281.9 339.5,1274 343.1,1275.3 346.7,1277.5 350.3,1288.4 353.9,1280.1 357.5,1279.7 361.1,1280.3 364.7,1261.4 368.3,1287.8 371.9,1285.2 375.5,1281.6 379.1,1258.7 382.7,1271.3 386.3,1285.3 389.9,1260.7 393.5,1276.1 397.1,1287.6 400.7,1265.7 404.3,1293.5 407.9,1283.6 411.5,1277 415.1,1281.7 418.7,1284.9 422.3,1279.9 425.9,1289.8 429.5,1272.3 433.1,1274.8 436.7,1289.1 440.3,1279.1 443.9,1270.2 447.5,1288.3 451.1,1293.5 454.7,1274.5 458.3,1265.1 461.9,1277.6 465.5,1277.4 469.1,1275.9 472.7,1293.1 476.3,1268.4 479.9,1291.7 483.5,1265.9 487.1,1270.8 490.7,1285.3 494.3,1290.5 497.9,1287.7 501.5,1282.4 505.1,1280.2 508.7,1280.3 512.3,1284.8 515.9,1276.9 519.5,1281.6 523.1,1284.7 526.7,1278.7 530.3,1286.8 533.9,1284.7 537.5,1300.2 541.1,1282.1 544.7,1274 548.3,1274.5 551.9,1278.4 555.5,1288.6 559.1,1274.8" stroke="#c4c4c4" stroke-width="1.8"/>
<path d="M118.1,1280.5 119.6,1280.5 121.1,1280.4 122.6,1280.3 124.1,1280.2 125.6,1280.1 127.1,1280 128.6,1279.8 130.1,1279.6 131.6,1279.4 133.1,1279.1 134.6,1278.8 136.1,1278.4 137.6,1278 139.1,1277.4 140.6,1276.8 142.1,1276.1 143.6,1275.3 145.1,1274.4 146.6,1273.4 148.1,1272.2 149.6,1270.9 151.1,1269.5 152.6,1267.9 154.1,1266.2 155.6,1264.3 157.1,1262.3 158.6,1260.1 160.1,1257.8 161.6,1255.4 163.1,1252.8 164.6,1250.2 166.1,1247.4 167.6,1244.6 169.1,1241.8 170.6,1238.9 172.1,1236.1 173.6,1233.3 175.1,1230.6 176.6,1228.1 178.1,1225.7 179.6,1223.4 181.1,1221.4 182.6,1219.7 184.1,1218.2 185.6,1217 187.1,1216.1 188.6,1215.6 190.1,1215.3 191.6,1215.5 193.1,1215.9 194.6,1216.7 196.1,1217.8 197.6,1219.2 199.1,1220.9 200.6,1222.8 202.1,1224.9 203.6,1227.3 205.1,1229.8 206.6,1232.4 208.1,1235.2 209.6,1238 211.1,1240.8 212.6,1243.6 214.1,1246.4 215.6,1249.2 217.1,1251.9 218.6,1254.4 220.1,1256.9 221.6,1259.2 223.1,1261.4 224.6,1263.5 226.1,1265.4 227.6,1267.1 229.1,1268.7 230.6,1270.2 232.1,1271.5 233.6,1272.7 235.1,1273.7 236.6,1274.6 238.1,1275.5 239.6,1276.2 241.1,1276.8 242.6,1277.3 244.1,1277.8 245.6,1278.2 247.1,1278.5 248.6,1278.8 250.1,1279 251.6,1279.2 253.1,1279.3 254.6,1279.5 256.1,1279.6 257.6,1279.6 259.1,1279.7 260.6,1279.8 262.1,1279.8" stroke="#ff0000" stroke-width="2"/>
<path d="M112.1,1280.6 113.6,1280.5 115.1,1280.5 116.6,1280.5 118.1,1280.5 119.6,1280.4 121.1,1280.4 122.6,1280.4 124.1,1280.3 125.6,1280.3 127.1,1280.2 128.6,1280.2 130.1,1280.2 131.6,1280.1 133.1,1280.1 134.6,1280 136.1,1279.9 137.6,1279.9 139.1,1279.8 140.6,1279.7 142.1,1279.7 143.6,1279.6 145.1,1279.5 146.6,1279.4 148.1,1279.3 149.6,1279.2 151.1,1279.1 152.6,1279 154.1,1278.9 155.6,1278.8 157.1,1278.7 158.6,1278.6 160.1,1278.4 161.6,1278.3 163.1,1278.1 164.6,1278 166.1,1277.8 167.6,1277.6 169.1,1277.5 170.6,1277.3 172.1,1277.1 173.6,1276.9 175.1,1276.7 176.6,1276.5 178.1,1276.3 179.6,1276 181.1,1275.8 182.6,1275.6 184.1,1275.3 185.6,1275.1 187.1,1274.8 188.6,1274.5 190.1,1274.3 191.6,1274 193.1,1273.7 194.6,1273.4 196.1,1273.1 197.6,1272.8 199.1,1272.5 200.6,1272.2 202.1,1271.9 203.6,1271.6 205.1,1271.3 206.6,1270.9 208.1,1270.6 209.6,1270.3 211.1,1270 212.6,1269.7 214.1,1269.4 215.6,1269 217.1,1268.7 218.6,1268.4 220.1,1268.1 221.6,1267.8 223.1,1267.5 224.6,1267.2 226.1,1266.9 227.6,1266.6 229.1,1266.4 230.6,1266.1 232.1,1265.9 233.6,1265.6 235.1,1265.4 236.6,1265.2 238.1,1265 239.6,1264.8 241.1,1264.6 242.6,1264.4 244.1,1264.2 245.6,1264.1 247.1,1264 248.6,1263.9 250.1,1263.8 251.6,1263.7 253.1,1263.6 254.6,1263.6 256.1,1263.5 257.6,1263.5 259.1,1263.5 260.6,1263.5 262.1,1263.5 263.6,1263.5 265.1,1263.6 266.6,1263.6 268.1,1263.7 269.6,1263.7 271.1,1263.8 272.6,1263.9 274.1,1264 275.6,1264.1 277.1,1264.2 278.6,1264.3 280.1,1264.4 281.6,1264.5 283.1,1264.7 284.6,1264.8 286.1,1265 287.6,1265.1 289.1,1265.3 290.6,1265.5 292.1,1265.6 293.6,1265.8 295.1,1266 296.6,1266.2 298.1,1266.4 299.6,1266.6 301.1,1266.8 302.6,1267 304.1,1267.3 305.6,1267.5 307.1,1267.7 308.6,1267.9 310.1,1268.1 311.6,1268.4 313.1,1268.6 314.6,1268.8 316.1,1269.1 317.6,1269.3 319.1,1269.5 320.6,1269.8 322.1,1270 323.6,1270.2 325.1,1270.5 326.6,1270.7 328.1,1270.9 329.6,1271.2 331.1,1271.4 332.6,1271.6 334.1,1271.8 335.6,1272.1 337.1,1272.3 338.6,1272.5 340.1,1272.7 341.6,1272.9 343.1,1273.1 344.6,1273.3 346.1,1273.5 347.6,1273.7 349.1,1273.9 350.6,1274.1 352.1,1274.3 353.6,1274.5 355.1,1274.7 356.6,1274.8 358.1,1275 359.6,1275.2 361.1,1275.3 362.6,1275.5 364.1,1275.7 365.6,1275.8 367.1,1275.9 368.6,1276.1 370.1,1276.2 371.6,1276.4 373.1,1276.5 374.6,1276.6 376.1,1276.7 377.6,1276.8 379.1,1276.9 380.6,1277.1 382.1,1277.2 383.6,1277.3 385.1,1277.3 386.6,1277.4 388.1,1277.5 389.6,1277.6 391.1,1277.7 392.6,1277.8 394.1,1277.8 395.6,1277.9 397.1,1278 398.6,1278 400.1,1278.1 401.6,1278.2 403.1,1278.2 404.6,1278.3 406.1,1278.3 407.6,1278.4 409.1,1278.4 410.6,1278.4 412.1,1278.5 413.6,1278.5 415.1,1278.5 416.6,1278.6 418.1,1278.6 419.6,1278.6 421.1,1278.7 422.6,1278.7 424.1,1278.7 425.6,1278.7 427.1,1278.8 428.6,1278.8 430.1,1278.8 431.6,1278.8 433.1,1278.8 434.6,1278.8 436.1,1278.8 437.6,1278.9 439.1,1278.9 440.6,1278.9 442.1,1278.9 443.6,1278.9 445.1,1278.9 446.6,1278.9" stroke="#40b4fa" stroke-width="2"/>
<line x1="55.1" y1="1281" x2="559.4" y2="1278.5" stroke="#333" stroke-width="2"/>
<path d="M55.1,1281 56.6,1281 58.1,1281 59.6,1281 61.1,1281 62.6,1281 64.1,1281 65.6,1280.9 67.1,1280.9 68.6,1280.9 70.1,1280.9 71.6,1280.9 73.1,1280.9 74.6,1280.9 76.1,1280.9 77.6,1280.9 79.1,1280.9 80.6,1280.9 82.1,1280.8 83.6,1280.8 85.1,1280.8 86.6,1280.8 88.1,1280.8 89.6,1280.8 91.1,1280.8 92.6,1280.8 94.1,1280.8 95.6,1280.7 97.1,1280.7 98.6,1280.7 100.1,1280.7 101.6,1280.7 103.1,1280.7 104.6,1280.6 106.1,1280.6 107.6,1280.6 109.1,1280.6 110.6,1280.5 112.1,1280.5 113.6,1280.5 115.1,1280.4 116.6,1280.4 118.1,1280.3 119.6,1280.2 121.1,1280.1 122.6,1280 124.1,1279.9 125.6,1279.8 127.1,1279.6 128.6,1279.4 130.1,1279.2 131.6,1278.9 133.1,1278.6 134.6,1278.2 136.1,1277.8 137.6,1277.3 139.1,1276.7 140.6,1276 142.1,1275.2 143.6,1274.4 145.1,1273.4 146.6,1272.3 148.1,1271 149.6,1269.7 151.1,1268.1 152.6,1266.5 154.1,1264.6 155.6,1262.6 157.1,1260.5 158.6,1258.2 160.1,1255.8 161.6,1253.2 163.1,1250.5 164.6,1247.7 166.1,1244.8 167.6,1241.8 169.1,1238.8 170.6,1235.8 172.1,1232.8 173.6,1229.8 175.1,1226.9 176.6,1224.2 178.1,1221.5 179.6,1219.1 181.1,1216.9 182.6,1214.9 184.1,1213.1 185.6,1211.7 187.1,1210.6 188.6,1209.8 190.1,1209.3 191.6,1209.1 193.1,1209.3 194.6,1209.8 196.1,1210.6 197.6,1211.7 199.1,1213.1 200.6,1214.7 202.1,1216.6 203.6,1218.6 205.1,1220.8 206.6,1223.1 208.1,1225.6 209.6,1228 211.1,1230.6 212.6,1233.1 214.1,1235.6 215.6,1238 217.1,1240.4 218.6,1242.6 220.1,1244.8 221.6,1246.8 223.1,1248.8 224.6,1250.5 226.1,1252.1 227.6,1253.6 229.1,1255 230.6,1256.2 232.1,1257.2 233.6,1258.2 235.1,1259 236.6,1259.7 238.1,1260.3 239.6,1260.8 241.1,1261.3 242.6,1261.6 244.1,1261.9 245.6,1262.2 247.1,1262.4 248.6,1262.6 250.1,1262.7 251.6,1262.8 253.1,1262.9 254.6,1263 256.1,1263.1 257.6,1263.2 259.1,1263.2 260.6,1263.3 262.1,1263.3 263.6,1263.4 265.1,1263.5 266.6,1263.5 268.1,1263.6 269.6,1263.7 271.1,1263.8 272.6,1263.8 274.1,1263.9 275.6,1264 277.1,1264.2 278.6,1264.3 280.1,1264.4 281.6,1264.5 283.1,1264.7 284.6,1264.8 286.1,1265 287.6,1265.1 289.1,1265.3 290.6,1265.5 292.1,1265.6 293.6,1265.8 295.1,1266 296.6,1266.2 298.1,1266.4 299.6,1266.6 301.1,1266.8 302.6,1267 304.1,1267.3 305.6,1267.5 307.1,1267.7 308.6,1267.9 310.1,1268.1 311.6,1268.4 313.1,1268.6 314.6,1268.8 316.1,1269.1 317.6,1269.3 319.1,1269.5 320.6,1269.8 322.1,1270 323.6,1270.2 325.1,1270.5 326.6,1270.7 328.1,1270.9 329.6,1271.2 331.1,1271.4 332.6,1271.6 334.1,1271.8 335.6,1272.1 337.1,1272.3 338.6,1272.5 340.1,1272.7 341.6,1272.9 343.1,1273.1 344.6,1273.3 346.1,1273.5 347.6,1273.7 349.1,1273.9 350.6,1274.1 352.1,1274.3 353.6,1274.5 355.1,1274.7 356.6,1274.8 358.1,1275 359.6,1275.2 361.1,1275.3 362.6,1275.5 364.1,1275.7 365.6,1275.8 367.1,1275.9 368.6,1276.1 370.1,1276.2 371.6,1276.4 373.1,1276.5 374.6,1276.6 376.1,1276.7 377.6,1276.8 379.1,1276.9 380.6,1277.1 382.1,1277.2 383.6,1277.3 385.1,1277.3 386.6,1277.4 388.1,1277.5 389.6,1277.6 391.1,1277.7 392.6,1277.8 394.1,1277.8 395.6,1277.9 397.1,1278 398.6,1278 400.1,1278.1 401.6,1278.2 403.1,1278.2 404.6,1278.3 406.1,1278.3 407.6,1278.4 409.1,1278.4 410.6,1278.4 412.1,1278.5 413.6,1278.5 415.1,1278.5 416.6,1278.6 418.1,1278.6 419.6,1278.6 421.1,1278.7 422.6,1278.7 424.1,1278.7 425.6,1278.7 427.1,1278.8 428.6,1278.8 430.1,1278.8 431.6,1278.8 433.1,1278.8 434.6,1278.8 436.1,1278.8 437.6,1278.9 439.1,1278.9 440.6,1278.9 442.1,1278.9 443.6,1278.9 445.1,1278.9 446.6,1278.9 448.1,1278.9 449.6,1278.9 451.1,1278.9 452.6,1278.9 454.1,1278.9 455.6,1278.9 457.1,1278.9 458.6,1278.9 460.1,1278.9 461.6,1278.9 463.1,1278.9 464.6,1278.9 466.1,1278.9 467.6,1278.9 469.1,1278.9 470.6,1278.9 472.1,1278.9 473.6,1278.9 475.1,1278.9 476.6,1278.9 478.1,1278.9 479.6,1278.9 481.1,1278.9 482.6,1278.9 484.1,1278.9 485.6,1278.8 487.1,1278.8 488.6,1278.8 490.1,1278.8 491.6,1278.8 493.1,1278.8 494.6,1278.8 496.1,1278.8 497.6,1278.8 499.1,1278.8 500.6,1278.8 502.1,1278.8 503.6,1278.8 505.1,1278.8 506.6,1278.8 508.1,1278.7 509.6,1278.7 511.1,1278.7 512.6,1278.7 514.1,1278.7 515.6,1278.7 517.1,1278.7 518.6,1278.7 520.1,1278.7 521.6,1278.7 523.1,1278.7 524.6,1278.7 526.1,1278.7 527.6,1278.7 529.1,1278.6 530.6,1278.6 532.1,1278.6 533.6,1278.6 535.1,1278.6 536.6,1278.6 538.1,1278.6 539.6,1278.6 541.1,1278.6 542.6,1278.6 544.1,1278.6 545.6,1278.6 547.1,1278.6 548.6,1278.6 550.1,1278.5 551.6,1278.5 553.1,1278.5 554.6,1278.5 556.1,1278.5 557.6,1278.5 559.1,1278.5 560.6,1278.5" stroke="#3a3a3a" stroke-width="2.2"/>
<path d="M55.1,1431.7 58.7,1438.3 62.3,1418.3 65.9,1424.8 69.5,1431 73.1,1431.7 76.7,1430.9 80.3,1427.7 83.9,1432.8 87.5,1431 91.1,1427.2 94.7,1441.2 98.3,1431.2 101.9,1426.8 105.5,1429 109.1,1428.3 112.7,1429.1 116.3,1415.9 119.9,1426.8 123.5,1434.1 127.1,1423.2 130.7,1428.5 134.3,1433.3 137.9,1432.4 141.5,1434.8 145.1,1417.3 148.7,1422.1 152.3,1419.1 155.9,1419.5 159.5,1415.6 163.1,1387.6 166.7,1396.8 170.3,1371.3 173.9,1369 177.5,1343.8 181.1,1339.9 184.7,1334.9 188.3,1320.6 191.9,1319.4 195.5,1323.9 199.1,1325.6 202.7,1332.5 206.3,1351.4 209.9,1359.3 213.5,1362 217.1,1387.6 220.7,1373 224.3,1389.7 227.9,1386.5 231.5,1390.9 235.1,1395.3 238.7,1393.2 242.3,1395.9 245.9,1383.7 249.5,1384.1 253.1,1396.9 256.7,1388.4 260.3,1388.8 263.9,1387.3 267.5,1404.6 271.1,1402.9 274.7,1408.8 278.3,1396.1 281.9,1403.4 285.5,1398.3 289.1,1411.5 292.7,1418.3 296.3,1405 299.9,1421.6 303.5,1419.8 307.1,1414.2 310.7,1404.5 314.3,1426.7 317.9,1418.6 321.5,1416.5 325.1,1423.8 328.7,1424.7 332.3,1432.4 335.9,1417.1 339.5,1431.4 343.1,1434.1 346.7,1434.3 350.3,1424.2 353.9,1420.8 357.5,1432.4 361.1,1426.8 364.7,1427 368.3,1435.6 371.9,1424.6 375.5,1411.2 379.1,1423.9 382.7,1414.1 386.3,1431.9 389.9,1428.6 393.5,1422.3 397.1,1426.4 400.7,1432 404.3,1426.9 407.9,1435.4 411.5,1425.9 415.1,1433.4 418.7,1436.5 422.3,1437.3 425.9,1421.5 429.5,1432.3 433.1,1413 436.7,1418.5 440.3,1412.2 443.9,1433.5 447.5,1417.2 451.1,1425.8 454.7,1424.5 458.3,1425.6 461.9,1421.6 465.5,1427.4 469.1,1438.6 472.7,1426 476.3,1429.5 479.9,1432.9 483.5,1424.1 487.1,1416.3 490.7,1421.4 494.3,1433.4 497.9,1413.3 501.5,1421 505.1,1432.9 508.7,1431.2 512.3,1425.3 515.9,1431.3 519.5,1426.5 523.1,1416.3 526.7,1413.3 530.3,1420.2 533.9,1432.1 537.5,1420.7 541.1,1418.1 544.7,1419 548.3,1413.1 551.9,1424 555.5,1415.7 559.1,1427.6" stroke="#c4c4c4" stroke-width="1.8"/>
<path d="M131.6,1429 133.1,1428.9 134.6,1428.8 136.1,1428.7 137.6,1428.5 139.1,1428.3 140.6,1428 142.1,1427.6 143.6,1427.2 145.1,1426.7 146.6,1426 148.1,1425.2 149.6,1424.2 151.1,1423.1 152.6,1421.7 154.1,1420.1 155.6,1418.2 157.1,1416 158.6,1413.5 160.1,1410.7 161.6,1407.5 163.1,1404 164.6,1400.2 166.1,1396 167.6,1391.5 169.1,1386.7 170.6,1381.7 172.1,1376.5 173.6,1371.2 175.1,1365.9 176.6,1360.6 178.1,1355.4 179.6,1350.5 181.1,1345.9 182.6,1341.7 184.1,1338 185.6,1334.9 187.1,1332.5 188.6,1330.8 190.1,1329.8 191.6,1329.6 193.1,1330.2 194.6,1331.5 196.1,1333.6 197.6,1336.4 199.1,1339.8 200.6,1343.7 202.1,1348.1 203.6,1352.8 205.1,1357.9 206.6,1363.1 208.1,1368.4 209.6,1373.7 211.1,1378.9 212.6,1384 214.1,1388.8 215.6,1393.4 217.1,1397.7 218.6,1401.7 220.1,1405.4 221.6,1408.6 223.1,1411.6 224.6,1414.2 226.1,1416.5 227.6,1418.5 229.1,1420.2 230.6,1421.7 232.1,1422.9 233.6,1423.9 235.1,1424.8 236.6,1425.4 238.1,1426 239.6,1426.5 241.1,1426.8 242.6,1427.1 244.1,1427.3 245.6,1427.5 247.1,1427.6 248.6,1427.7 250.1,1427.8 251.6,1427.8" stroke="#ff0000" stroke-width="2"/>
<path d="M128.6,1429.1 130.1,1429 131.6,1429 133.1,1428.9 134.6,1428.9 136.1,1428.8 137.6,1428.8 139.1,1428.7 140.6,1428.6 142.1,1428.6 143.6,1428.5 145.1,1428.4 146.6,1428.3 148.1,1428.2 149.6,1428.1 151.1,1427.9 152.6,1427.8 154.1,1427.6 155.6,1427.5 157.1,1427.3 158.6,1427.1 160.1,1426.9 161.6,1426.7 163.1,1426.4 164.6,1426.2 166.1,1425.9 167.6,1425.6 169.1,1425.2 170.6,1424.9 172.1,1424.5 173.6,1424.1 175.1,1423.7 176.6,1423.3 178.1,1422.8 179.6,1422.3 181.1,1421.8 182.6,1421.3 184.1,1420.7 185.6,1420.1 187.1,1419.5 188.6,1418.8 190.1,1418.1 191.6,1417.4 193.1,1416.7 194.6,1415.9 196.1,1415.2 197.6,1414.4 199.1,1413.5 200.6,1412.7 202.1,1411.8 203.6,1411 205.1,1410.1 206.6,1409.2 208.1,1408.3 209.6,1407.4 211.1,1406.5 212.6,1405.6 214.1,1404.7 215.6,1403.8 217.1,1403 218.6,1402.1 220.1,1401.3 221.6,1400.5 223.1,1399.7 224.6,1398.9 226.1,1398.2 227.6,1397.5 229.1,1396.9 230.6,1396.3 232.1,1395.7 233.6,1395.2 235.1,1394.7 236.6,1394.3 238.1,1393.9 239.6,1393.6 241.1,1393.4 242.6,1393.2 244.1,1393.1 245.6,1393 247.1,1393 248.6,1393.1 250.1,1393.2 251.6,1393.3 253.1,1393.5 254.6,1393.7 256.1,1393.9 257.6,1394.2 259.1,1394.6 260.6,1394.9 262.1,1395.3 263.6,1395.8 265.1,1396.3 266.6,1396.8 268.1,1397.3 269.6,1397.9 271.1,1398.5 272.6,1399.1 274.1,1399.8 275.6,1400.4 277.1,1401.1 278.6,1401.8 280.1,1402.5 281.6,1403.2 283.1,1404 284.6,1404.7 286.1,1405.4 287.6,1406.2 289.1,1406.9 290.6,1407.7 292.1,1408.4 293.6,1409.1 295.1,1409.9 296.6,1410.6 298.1,1411.3 299.6,1412 301.1,1412.7 302.6,1413.3 304.1,1414 305.6,1414.6 307.1,1415.3 308.6,1415.9 310.1,1416.4 311.6,1417 313.1,1417.6 314.6,1418.1 316.1,1418.6 317.6,1419.1 319.1,1419.6 320.6,1420 322.1,1420.5 323.6,1420.9 325.1,1421.3 326.6,1421.6 328.1,1422 329.6,1422.3 331.1,1422.7 332.6,1423 334.1,1423.2 335.6,1423.5 337.1,1423.8 338.6,1424 340.1,1424.2 341.6,1424.4 343.1,1424.6 344.6,1424.8 346.1,1425 347.6,1425.1 349.1,1425.2 350.6,1425.4 352.1,1425.5 353.6,1425.6 355.1,1425.7 356.6,1425.8 358.1,1425.9 359.6,1426 361.1,1426 362.6,1426.1 364.1,1426.1 365.6,1426.2 367.1,1426.2 368.6,1426.3 370.1,1426.3 371.6,1426.3 373.1,1426.4 374.6,1426.4 376.1,1426.4 377.6,1426.4 379.1,1426.4 380.6,1426.4 382.1,1426.4 383.6,1426.4" stroke="#40b4fa" stroke-width="2"/>
<line x1="55.1" y1="1430" x2="559.4" y2="1424.8" stroke="#333" stroke-width="2"/>
<path d="M55.1,1430 56.6,1430 58.1,1430 59.6,1430 61.1,1429.9 62.6,1429.9 64.1,1429.9 65.6,1429.9 67.1,1429.9 68.6,1429.9 70.1,1429.8 71.6,1429.8 73.1,1429.8 74.6,1429.8 76.1,1429.8 77.6,1429.8 79.1,1429.8 80.6,1429.7 82.1,1429.7 83.6,1429.7 85.1,1429.7 86.6,1429.7 88.1,1429.7 89.6,1429.6 91.1,1429.6 92.6,1429.6 94.1,1429.6 95.6,1429.6 97.1,1429.6 98.6,1429.5 100.1,1429.5 101.6,1429.5 103.1,1429.5 104.6,1429.5 106.1,1429.5 107.6,1429.4 109.1,1429.4 110.6,1429.4 112.1,1429.4 113.6,1429.4 115.1,1429.3 116.6,1429.3 118.1,1429.3 119.6,1429.2 121.1,1429.2 122.6,1429.2 124.1,1429.1 125.6,1429.1 127.1,1429 128.6,1429 130.1,1428.9 131.6,1428.8 133.1,1428.7 134.6,1428.5 136.1,1428.3 137.6,1428.1 139.1,1427.9 140.6,1427.5 142.1,1427.1 143.6,1426.6 145.1,1426 146.6,1425.2 148.1,1424.3 149.6,1423.3 151.1,1422 152.6,1420.5 154.1,1418.7 155.6,1416.7 157.1,1414.4 158.6,1411.7 160.1,1408.7 161.6,1405.3 163.1,1401.6 164.6,1397.5 166.1,1393 167.6,1388.2 169.1,1383.1 170.6,1377.8 172.1,1372.3 173.6,1366.6 175.1,1360.8 176.6,1355.1 178.1,1349.5 179.6,1344.1 181.1,1339 182.6,1334.3 184.1,1330.1 185.6,1326.4 187.1,1323.3 188.6,1321 190.1,1319.3 191.6,1318.4 193.1,1318.3 194.6,1318.9 196.1,1320.2 197.6,1322.2 199.1,1324.8 200.6,1327.9 202.1,1331.4 203.6,1335.3 205.1,1339.5 206.6,1343.8 208.1,1348.3 209.6,1352.7 211.1,1357 212.6,1361.2 214.1,1365.2 215.6,1368.9 217.1,1372.4 218.6,1375.5 220.1,1378.3 221.6,1380.8 223.1,1383 224.6,1384.9 226.1,1386.5 227.6,1387.8 229.1,1388.8 230.6,1389.7 232.1,1390.4 233.6,1390.9 235.1,1391.3 236.6,1391.6 238.1,1391.8 239.6,1392 241.1,1392.1 242.6,1392.3 244.1,1392.4 245.6,1392.5 247.1,1392.6 248.6,1392.8 250.1,1392.9 251.6,1393.1 253.1,1393.3 254.6,1393.6 256.1,1393.9 257.6,1394.2 259.1,1394.5 260.6,1394.9 262.1,1395.3 263.6,1395.8 265.1,1396.3 266.6,1396.8 268.1,1397.3 269.6,1397.9 271.1,1398.5 272.6,1399.1 274.1,1399.8 275.6,1400.4 277.1,1401.1 278.6,1401.8 280.1,1402.5 281.6,1403.2 283.1,1404 284.6,1404.7 286.1,1405.4 287.6,1406.2 289.1,1406.9 290.6,1407.7 292.1,1408.4 293.6,1409.1 295.1,1409.9 296.6,1410.6 298.1,1411.3 299.6,1412 301.1,1412.7 302.6,1413.3 304.1,1414 305.6,1414.6 307.1,1415.3 308.6,1415.9 310.1,1416.4 311.6,1417 313.1,1417.6 314.6,1418.1 316.1,1418.6 317.6,1419.1 319.1,1419.6 320.6,1420 322.1,1420.5 323.6,1420.9 325.1,1421.3 326.6,1421.6 328.1,1422 329.6,1422.3 331.1,1422.7 332.6,1423 334.1,1423.2 335.6,1423.5 337.1,1423.8 338.6,1424 340.1,1424.2 341.6,1424.4 343.1,1424.6 344.6,1424.8 346.1,1425 347.6,1425.1 349.1,1425.2 350.6,1425.4 352.1,1425.5 353.6,1425.6 355.1,1425.7 356.6,1425.8 358.1,1425.9 359.6,1426 361.1,1426 362.6,1426.1 364.1,1426.1 365.6,1426.2 367.1,1426.2 368.6,1426.3 370.1,1426.3 371.6,1426.3 373.1,1426.4 374.6,1426.4 376.1,1426.4 377.6,1426.4 379.1,1426.4 380.6,1426.4 382.1,1426.4 383.6,1426.4 385.1,1426.5 386.6,1426.5 388.1,1426.5 389.6,1426.4 391.1,1426.4 392.6,1426.4 394.1,1426.4 395.6,1426.4 397.1,1426.4 398.6,1426.4 400.1,1426.4 401.6,1426.4 403.1,1426.4 404.6,1426.4 406.1,1426.4 407.6,1426.3 409.1,1426.3 410.6,1426.3 412.1,1426.3 413.6,1426.3 415.1,1426.3 416.6,1426.3 418.1,1426.2 419.6,1426.2 421.1,1426.2 422.6,1426.2 424.1,1426.2 425.6,1426.2 427.1,1426.2 428.6,1426.1 430.1,1426.1 431.6,1426.1 433.1,1426.1 434.6,1426.1 436.1,1426.1 437.6,1426.1 439.1,1426 440.6,1426 442.1,1426 443.6,1426 445.1,1426 446.6,1426 448.1,1425.9 449.6,1425.9 451.1,1425.9 452.6,1425.9 454.1,1425.9 455.6,1425.9 457.1,1425.9 458.6,1425.8 460.1,1425.8 461.6,1425.8 463.1,1425.8 464.6,1425.8 466.1,1425.8 467.6,1425.7 469.1,1425.7 470.6,1425.7 472.1,1425.7 473.6,1425.7 475.1,1425.7 476.6,1425.7 478.1,1425.6 479.6,1425.6 481.1,1425.6 482.6,1425.6 484.1,1425.6 485.6,1425.6 487.1,1425.5 488.6,1425.5 490.1,1425.5 491.6,1425.5 493.1,1425.5 494.6,1425.5 496.1,1425.5 497.6,1425.4 499.1,1425.4 500.6,1425.4 502.1,1425.4 503.6,1425.4 505.1,1425.4 506.6,1425.3 508.1,1425.3 509.6,1425.3 511.1,1425.3 512.6,1425.3 514.1,1425.3 515.6,1425.3 517.1,1425.2 518.6,1425.2 520.1,1425.2 521.6,1425.2 523.1,1425.2 524.6,1425.2 526.1,1425.1 527.6,1425.1 529.1,1425.1 530.6,1425.1 532.1,1425.1 533.6,1425.1 535.1,1425.1 536.6,1425 538.1,1425 539.6,1425 541.1,1425 542.6,1425 544.1,1425 545.6,1424.9 547.1,1424.9 548.6,1424.9 550.1,1424.9 551.6,1424.9 553.1,1424.9 554.6,1424.8 556.1,1424.8 557.6,1424.8 559.1,1424.8 560.6,1424.8" stroke="#3a3a3a" stroke-width="2.2"/>
<path d="M55.1,1541.3 58.7,1552.1 62.3,1548.1 65.9,1542.6 69.5,1553.5 73.1,1549.3 76.7,1541 80.3,1546.6 83.9,1551.4 87.5,1548.1 91.1,1553.2 94.7,1553 98.3,1552.6 101.9,1551 105.5,1555.3 109.1,1552.3 112.7,1551.2 116.3,1539.9 119.9,1552.9 123.5,1554.6 127.1,1547.3 130.7,1546.2 134.3,1556.7 137.9,1539.5 141.5,1548.8 145.1,1556.5 148.7,1539.3 152.3,1544.1 155.9,1546 159.5,1532 163.1,1529.4 166.7,1524.3 170.3,1508.5 173.9,1504.8 177.5,1499.5 181.1,1495.6 184.7,1486 188.3,1480.9 191.9,1473.5 195.5,1473.8 199.1,1477.3 202.7,1470.9 206.3,1463.4 209.9,1460.7 213.5,1475.7 217.1,1466.2 220.7,1462.8 224.3,1446.9 227.9,1465 231.5,1467.6 235.1,1478.5 238.7,1477.9 242.3,1481.9 245.9,1491.9 249.5,1486 253.1,1508.1 256.7,1510.4 260.3,1510.3 263.9,1525.5 267.5,1531.8 271.1,1517.7 274.7,1524 278.3,1530.9 281.9,1531.7 285.5,1529.6 289.1,1527.3 292.7,1544.9 296.3,1539.6 299.9,1527.9 303.5,1527.6 307.1,1544.9 310.7,1541.5 314.3,1546.7 317.9,1541.6 321.5,1532.6 325.1,1539.5 328.7,1526.2 332.3,1534.7 335.9,1539 339.5,1542.7 343.1,1535.9 346.7,1539.7 350.3,1543.4 353.9,1543.2 357.5,1544.9 361.1,1542.6 364.7,1539.6 368.3,1546.3 371.9,1542.1 375.5,1536.9 379.1,1538.2 382.7,1541.9 386.3,1541.3 389.9,1542.9 393.5,1541.9 397.1,1543 400.7,1541 404.3,1534.1 407.9,1544.3 411.5,1548.2 415.1,1544.3 418.7,1540.4 422.3,1544.2 425.9,1535.4 429.5,1529.4 433.1,1541.6 436.7,1535.3 440.3,1545.7 443.9,1534.1 447.5,1524.1 451.1,1534.1 454.7,1550.8 458.3,1538.1 461.9,1531.7 465.5,1535.5 469.1,1543.7 472.7,1543.5 476.3,1541.3 479.9,1549.8 483.5,1544.6 487.1,1539.7 490.7,1543.7 494.3,1550.6 497.9,1546 501.5,1546.3 505.1,1532.1 508.7,1538.3 512.3,1544.1 515.9,1537.1 519.5,1546.3 523.1,1543 526.7,1545 530.3,1537.3 533.9,1556.1 537.5,1547.1 541.1,1537 544.7,1539 548.3,1556.3 551.9,1535.8 555.5,1544.2 559.1,1544.9" stroke="#c4c4c4" stroke-width="1.8"/>
<path d="M131.6,1548.7 133.1,1548.6 134.6,1548.5 136.1,1548.4 137.6,1548.2 139.1,1547.9 140.6,1547.7 142.1,1547.3 143.6,1546.9 145.1,1546.4 146.6,1545.9 148.1,1545.2 149.6,1544.4 151.1,1543.5 152.6,1542.4 154.1,1541.2 155.6,1539.9 157.1,1538.4 158.6,1536.7 160.1,1535 161.6,1533 163.1,1531 164.6,1528.8 166.1,1526.6 167.6,1524.4 169.1,1522.1 170.6,1519.9 172.1,1517.8 173.6,1515.8 175.1,1514 176.6,1512.4 178.1,1511 179.6,1509.9 181.1,1509.2 182.6,1508.7 184.1,1508.6 185.6,1508.9 187.1,1509.4 188.6,1510.3 190.1,1511.5 191.6,1513 193.1,1514.7 194.6,1516.5 196.1,1518.6 197.6,1520.7 199.1,1522.8 200.6,1525 202.1,1527.2 203.6,1529.2 205.1,1531.3 206.6,1533.1 208.1,1534.9 209.6,1536.5 211.1,1538 212.6,1539.3 214.1,1540.5 215.6,1541.5 217.1,1542.4 218.6,1543.2 220.1,1543.8 221.6,1544.3 223.1,1544.8 224.6,1545.1 226.1,1545.4 227.6,1545.6 229.1,1545.8 230.6,1545.9 232.1,1546 233.6,1546 235.1,1546.1 236.6,1546.1" stroke="#52b42a" stroke-width="2"/>
<path d="M143.6,1548.5 145.1,1548.4 146.6,1548.3 148.1,1548.2 149.6,1548 151.1,1547.9 152.6,1547.7 154.1,1547.5 155.6,1547.3 157.1,1547.1 158.6,1546.8 160.1,1546.5 161.6,1546.1 163.1,1545.6 164.6,1545.1 166.1,1544.6 167.6,1543.9 169.1,1543.2 170.6,1542.3 172.1,1541.4 173.6,1540.4 175.1,1539.2 176.6,1537.9 178.1,1536.5 179.6,1534.9 181.1,1533.2 182.6,1531.4 184.1,1529.4 185.6,1527.2 187.1,1524.9 188.6,1522.5 190.1,1519.9 191.6,1517.2 193.1,1514.4 194.6,1511.5 196.1,1508.5 197.6,1505.5 199.1,1502.4 200.6,1499.2 202.1,1496.1 203.6,1493.1 205.1,1490.1 206.6,1487.2 208.1,1484.4 209.6,1481.8 211.1,1479.4 212.6,1477.2 214.1,1475.2 215.6,1473.5 217.1,1472.1 218.6,1471 220.1,1470.2 221.6,1469.7 223.1,1469.6 224.6,1469.8 226.1,1470.3 227.6,1471.2 229.1,1472.3 230.6,1473.8 232.1,1475.5 233.6,1477.5 235.1,1479.7 236.6,1482.1 238.1,1484.7 239.6,1487.5 241.1,1490.3 242.6,1493.3 244.1,1496.3 245.6,1499.3 247.1,1502.4 248.6,1505.4 250.1,1508.3 251.6,1511.2 253.1,1514 254.6,1516.7 256.1,1519.3 257.6,1521.7 259.1,1524 260.6,1526.2 262.1,1528.2 263.6,1530 265.1,1531.8 266.6,1533.3 268.1,1534.8 269.6,1536 271.1,1537.2 272.6,1538.2 274.1,1539.2 275.6,1540 277.1,1540.7 278.6,1541.3 280.1,1541.9 281.6,1542.3 283.1,1542.7 284.6,1543.1 286.1,1543.4 287.6,1543.6 289.1,1543.8 290.6,1544 292.1,1544.1 293.6,1544.2 295.1,1544.3 296.6,1544.3 298.1,1544.4 299.6,1544.4 301.1,1544.4 302.6,1544.4" stroke="#1818e0" stroke-width="2"/>
<path d="M110.6,1549.3 112.1,1549.3 113.6,1549.2 115.1,1549.2 116.6,1549.1 118.1,1549 119.6,1549 121.1,1548.9 122.6,1548.9 124.1,1548.8 125.6,1548.7 127.1,1548.7 128.6,1548.6 130.1,1548.6 131.6,1548.5 133.1,1548.4 134.6,1548.3 136.1,1548.3 137.6,1548.2 139.1,1548.1 140.6,1548 142.1,1547.9 143.6,1547.8 145.1,1547.8 146.6,1547.7 148.1,1547.6 149.6,1547.5 151.1,1547.4 152.6,1547.3 154.1,1547.2 155.6,1547.1 157.1,1546.9 158.6,1546.8 160.1,1546.7 161.6,1546.6 163.1,1546.4 164.6,1546.3 166.1,1546.2 167.6,1546 169.1,1545.9 170.6,1545.8 172.1,1545.6 173.6,1545.4 175.1,1545.3 176.6,1545.1 178.1,1545 179.6,1544.8 181.1,1544.6 182.6,1544.4 184.1,1544.3 185.6,1544.1 187.1,1543.9 188.6,1543.7 190.1,1543.5 191.6,1543.3 193.1,1543.1 194.6,1542.9 196.1,1542.7 197.6,1542.4 199.1,1542.2 200.6,1542 202.1,1541.8 203.6,1541.6 205.1,1541.3 206.6,1541.1 208.1,1540.9 209.6,1540.6 211.1,1540.4 212.6,1540.2 214.1,1539.9 215.6,1539.7 217.1,1539.5 218.6,1539.2 220.1,1539 221.6,1538.8 223.1,1538.5 224.6,1538.3 226.1,1538.1 227.6,1537.8 229.1,1537.6 230.6,1537.4 232.1,1537.1 233.6,1536.9 235.1,1536.7 236.6,1536.5 238.1,1536.3 239.6,1536.1 241.1,1535.9 242.6,1535.7 244.1,1535.5 245.6,1535.3 247.1,1535.2 248.6,1535 250.1,1534.8 251.6,1534.7 253.1,1534.5 254.6,1534.4 256.1,1534.2 257.6,1534.1 259.1,1534 260.6,1533.9 262.1,1533.8 263.6,1533.7 265.1,1533.6 266.6,1533.5 268.1,1533.5 269.6,1533.4 271.1,1533.4 272.6,1533.3 274.1,1533.3 275.6,1533.3 277.1,1533.3 278.6,1533.3 280.1,1533.3 281.6,1533.4 283.1,1533.4 284.6,1533.5 286.1,1533.6 287.6,1533.7 289.1,1533.8 290.6,1533.9 292.1,1534 293.6,1534.1 295.1,1534.2 296.6,1534.4 298.1,1534.5 299.6,1534.7 301.1,1534.9 302.6,1535 304.1,1535.2 305.6,1535.4 307.1,1535.6 308.6,1535.8 310.1,1536 311.6,1536.2 313.1,1536.4 314.6,1536.6 316.1,1536.8 317.6,1537 319.1,1537.2 320.6,1537.4 322.1,1537.6 323.6,1537.8 325.1,1538 326.6,1538.2 328.1,1538.4 329.6,1538.6 331.1,1538.8 332.6,1539 334.1,1539.1 335.6,1539.3 337.1,1539.5 338.6,1539.6 340.1,1539.8 341.6,1539.9 343.1,1540.1 344.6,1540.2 346.1,1540.4 347.6,1540.5 349.1,1540.6 350.6,1540.7 352.1,1540.8 353.6,1540.9 355.1,1541 356.6,1541.1 358.1,1541.2 359.6,1541.3 361.1,1541.4 362.6,1541.5 364.1,1541.5 365.6,1541.6 367.1,1541.6 368.6,1541.7 370.1,1541.7 371.6,1541.8 373.1,1541.8 374.6,1541.8 376.1,1541.9 377.6,1541.9 379.1,1541.9 380.6,1541.9 382.1,1541.9 383.6,1541.9 385.1,1541.9 386.6,1542 388.1,1542 389.6,1541.9 391.1,1541.9 392.6,1541.9 394.1,1541.9 395.6,1541.9 397.1,1541.9 398.6,1541.9 400.1,1541.9 401.6,1541.8 403.1,1541.8 404.6,1541.8" stroke="#40b4fa" stroke-width="2"/>
<line x1="55.1" y1="1550.9" x2="559.4" y2="1538" stroke="#333" stroke-width="2"/>
<path d="M55.1,1550.9 56.6,1550.9 58.1,1550.8 59.6,1550.8 61.1,1550.7 62.6,1550.7 64.1,1550.7 65.6,1550.6 67.1,1550.6 68.6,1550.5 70.1,1550.5 71.6,1550.5 73.1,1550.4 74.6,1550.4 76.1,1550.3 77.6,1550.3 79.1,1550.3 80.6,1550.2 82.1,1550.2 83.6,1550.1 85.1,1550.1 86.6,1550.1 88.1,1550 89.6,1550 91.1,1549.9 92.6,1549.9 94.1,1549.8 95.6,1549.8 97.1,1549.7 98.6,1549.7 100.1,1549.7 101.6,1549.6 103.1,1549.6 104.6,1549.5 106.1,1549.5 107.6,1549.4 109.1,1549.4 110.6,1549.3 112.1,1549.3 113.6,1549.2 115.1,1549.2 116.6,1549.1 118.1,1549 119.6,1549 121.1,1548.9 122.6,1548.8 124.1,1548.8 125.6,1548.7 127.1,1548.6 128.6,1548.5 130.1,1548.4 131.6,1548.3 133.1,1548.1 134.6,1547.9 136.1,1547.7 137.6,1547.5 139.1,1547.2 140.6,1546.9 142.1,1546.4 143.6,1546 145.1,1545.4 146.6,1544.7 148.1,1543.9 149.6,1543 151.1,1541.9 152.6,1540.6 154.1,1539.2 155.6,1537.6 157.1,1535.8 158.6,1533.9 160.1,1531.7 161.6,1529.3 163.1,1526.8 164.6,1524.1 166.1,1521.2 167.6,1518.3 169.1,1515.2 170.6,1512.1 172.1,1509 173.6,1505.9 175.1,1502.8 176.6,1499.8 178.1,1496.9 179.6,1494.2 181.1,1491.6 182.6,1489.2 184.1,1487 185.6,1485 187.1,1483.2 188.6,1481.5 190.1,1480 191.6,1478.7 193.1,1477.4 194.6,1476.2 196.1,1475.1 197.6,1474 199.1,1473 200.6,1471.9 202.1,1470.8 203.6,1469.7 205.1,1468.6 206.6,1467.4 208.1,1466.3 209.6,1465.1 211.1,1464 212.6,1463 214.1,1462 215.6,1461.2 217.1,1460.5 218.6,1460 220.1,1459.6 221.6,1459.5 223.1,1459.7 224.6,1460.1 226.1,1460.7 227.6,1461.6 229.1,1462.8 230.6,1464.2 232.1,1465.9 233.6,1467.8 235.1,1469.9 236.6,1472.2 238.1,1474.7 239.6,1477.3 241.1,1480 242.6,1482.8 244.1,1485.7 245.6,1488.6 247.1,1491.5 248.6,1494.4 250.1,1497.2 251.6,1500 253.1,1502.7 254.6,1505.3 256.1,1507.7 257.6,1510.1 259.1,1512.3 260.6,1514.4 262.1,1516.4 263.6,1518.2 265.1,1519.8 266.6,1521.4 268.1,1522.8 269.6,1524.1 271.1,1525.2 272.6,1526.2 274.1,1527.2 275.6,1528 277.1,1528.8 278.6,1529.5 280.1,1530.1 281.6,1530.6 283.1,1531.1 284.6,1531.5 286.1,1531.9 287.6,1532.3 289.1,1532.6 290.6,1532.9 292.1,1533.2 293.6,1533.5 295.1,1533.7 296.6,1534 298.1,1534.2 299.6,1534.4 301.1,1534.7 302.6,1534.9 304.1,1535.1 305.6,1535.3 307.1,1535.5 308.6,1535.7 310.1,1535.9 311.6,1536.2 313.1,1536.4 314.6,1536.6 316.1,1536.8 317.6,1537 319.1,1537.2 320.6,1537.4 322.1,1537.6 323.6,1537.8 325.1,1538 326.6,1538.2 328.1,1538.4 329.6,1538.6 331.1,1538.8 332.6,1539 334.1,1539.1 335.6,1539.3 337.1,1539.5 338.6,1539.6 340.1,1539.8 341.6,1539.9 343.1,1540.1 344.6,1540.2 346.1,1540.4 347.6,1540.5 349.1,1540.6 350.6,1540.7 352.1,1540.8 353.6,1540.9 355.1,1541 356.6,1541.1 358.1,1541.2 359.6,1541.3 361.1,1541.4 362.6,1541.5 364.1,1541.5 365.6,1541.6 367.1,1541.6 368.6,1541.7 370.1,1541.7 371.6,1541.8 373.1,1541.8 374.6,1541.8 376.1,1541.9 377.6,1541.9 379.1,1541.9 380.6,1541.9 382.1,1541.9 383.6,1541.9 385.1,1541.9 386.6,1542 388.1,1542 389.6,1541.9 391.1,1541.9 392.6,1541.9 394.1,1541.9 395.6,1541.9 397.1,1541.9 398.6,1541.9 400.1,1541.9 401.6,1541.8 403.1,1541.8 404.6,1541.8 406.1,1541.8 407.6,1541.8 409.1,1541.7 410.6,1541.7 412.1,1541.7 413.6,1541.6 415.1,1541.6 416.6,1541.6 418.1,1541.6 419.6,1541.5 421.1,1541.5 422.6,1541.5 424.1,1541.4 425.6,1541.4 427.1,1541.4 428.6,1541.3 430.1,1541.3 431.6,1541.2 433.1,1541.2 434.6,1541.2 436.1,1541.1 437.6,1541.1 439.1,1541.1 440.6,1541 442.1,1541 443.6,1541 445.1,1540.9 446.6,1540.9 448.1,1540.8 449.6,1540.8 451.1,1540.8 452.6,1540.7 454.1,1540.7 455.6,1540.7 457.1,1540.6 458.6,1540.6 460.1,1540.5 461.6,1540.5 463.1,1540.5 464.6,1540.4 466.1,1540.4 467.6,1540.3 469.1,1540.3 470.6,1540.3 472.1,1540.2 473.6,1540.2 475.1,1540.2 476.6,1540.1 478.1,1540.1 479.6,1540 481.1,1540 482.6,1540 484.1,1539.9 485.6,1539.9 487.1,1539.8 488.6,1539.8 490.1,1539.8 491.6,1539.7 493.1,1539.7 494.6,1539.7 496.1,1539.6 497.6,1539.6 499.1,1539.5 500.6,1539.5 502.1,1539.5 503.6,1539.4 505.1,1539.4 506.6,1539.4 508.1,1539.3 509.6,1539.3 511.1,1539.2 512.6,1539.2 514.1,1539.2 515.6,1539.1 517.1,1539.1 518.6,1539 520.1,1539 521.6,1539 523.1,1538.9 524.6,1538.9 526.1,1538.9 527.6,1538.8 529.1,1538.8 530.6,1538.7 532.1,1538.7 533.6,1538.7 535.1,1538.6 536.6,1538.6 538.1,1538.5 539.6,1538.5 541.1,1538.5 542.6,1538.4 544.1,1538.4 545.6,1538.4 547.1,1538.3 548.6,1538.3 550.1,1538.2 551.6,1538.2 553.1,1538.2 554.6,1538.1 556.1,1538.1 557.6,1538 559.1,1538 560.6,1538" stroke="#3a3a3a" stroke-width="2.2"/>
</g>
<line x1="190.3" y1="1192.8" x2="190.3" y2="1437.6" stroke="#000" stroke-width="2.0" stroke-dasharray="9.4,9.68"/>
<line x1="224" y1="1402.4" x2="224" y2="1534" stroke="#000" stroke-width="2.0" stroke-dasharray="9.4,9.68"/>
<text x="214" y="1209" font-size="24.2" fill="#ff4d4d">Fe-poN</text>
<line x1="194.3" y1="1231.1" x2="222.9" y2="1217.2" stroke="#000" stroke-width="2.2"/><path d="M231,1213.3L223.8,1221.4L220.2,1213.9Z" fill="#000"/>
<text x="405.5" y="1255" font-size="24.2">Fe-poN-C/Fe</text>
<text x="248" y="1372" font-size="24" fill="#50b4f0">Graphitic N</text>
<line x1="255.5" y1="1404" x2="273" y2="1384.7" stroke="#000" stroke-width="2.2"/><path d="M279,1378L275.4,1388.2L269.2,1382.6Z" fill="#000"/>
<text x="408" y="1402" font-size="24.2">Fe-poN-C(O)</text>
<text x="66.5" y="1478" font-size="23.5" fill="#50b428">Pyridinic N</text>
<line x1="183.6" y1="1518.1" x2="169.5" y2="1492.4" stroke="#000" stroke-width="2.2"/><path d="M165.2,1484.5L173.7,1491.3L166.3,1495.3Z" fill="#000"/>
<text x="268" y="1482" font-size="24" fill="#1414dc">Fe-pdN</text>
<line x1="228.9" y1="1490.6" x2="253.2" y2="1481.5" stroke="#000" stroke-width="2.2"/><path d="M261.6,1478.3L253.7,1485.8L250.8,1477.9Z" fill="#000"/>
<text x="410" y="1522" font-size="24.2">Fe-pdN-C(O)</text>
<rect x="55.1" y="1167.7" width="504.3" height="415.3" fill="none" stroke="#000" stroke-width="1.5"/>
<line x1="91.1" y1="1583" x2="91.1" y2="1592" stroke="#000" stroke-width="1.5"/>
<text x="91.1" y="1616.6" font-size="26.2" text-anchor="middle">396</text>
<line x1="163.2" y1="1583" x2="163.2" y2="1588" stroke="#000" stroke-width="1.5"/>
<line x1="235.2" y1="1583" x2="235.2" y2="1592" stroke="#000" stroke-width="1.5"/>
<text x="235.2" y="1616.6" font-size="26.2" text-anchor="middle">400</text>
<line x1="307.2" y1="1583" x2="307.2" y2="1588" stroke="#000" stroke-width="1.5"/>
<line x1="379.3" y1="1583" x2="379.3" y2="1592" stroke="#000" stroke-width="1.5"/>
<text x="379.3" y="1616.6" font-size="26.2" text-anchor="middle">404</text>
<line x1="451.3" y1="1583" x2="451.3" y2="1588" stroke="#000" stroke-width="1.5"/>
<line x1="523.4" y1="1583" x2="523.4" y2="1592" stroke="#000" stroke-width="1.5"/>
<text x="523.4" y="1616.6" font-size="26.2" text-anchor="middle">408</text>
<text x="306" y="1644.2" font-size="27.5" text-anchor="middle">Binding energy (eV)</text>
<text x="44" y="1376" font-size="27.5" text-anchor="middle" transform="rotate(-90 44 1376)">Intensity (a.u.)</text>
<text x="-0.5" y="1182" font-size="38" font-weight="bold">e</text>
<defs><linearGradient id="gk" x1="0" x2="1"><stop offset="0" stop-color="#3c3c3c"/><stop offset="0.15" stop-color="#8c8c8c"/><stop offset="0.33" stop-color="#ececec"/><stop offset="0.45" stop-color="#fff"/><stop offset="0.6" stop-color="#f2f2f2"/><stop offset="0.8" stop-color="#a4a4a4"/><stop offset="1" stop-color="#4a4a4a"/></linearGradient><linearGradient id="gb" x1="0" x2="1"><stop offset="0" stop-color="#2020ff"/><stop offset="0.15" stop-color="#7272ff"/><stop offset="0.33" stop-color="#e2e2ff"/><stop offset="0.45" stop-color="#fff"/><stop offset="0.6" stop-color="#f0f0ff"/><stop offset="0.8" stop-color="#a6a6ff"/><stop offset="1" stop-color="#2a2aff"/></linearGradient><linearGradient id="gr" x1="0" x2="1"><stop offset="0" stop-color="#ff4646"/><stop offset="0.15" stop-color="#ff8a8a"/><stop offset="0.33" stop-color="#ffe6e6"/><stop offset="0.45" stop-color="#fff"/><stop offset="0.6" stop-color="#fff2f2"/><stop offset="0.8" stop-color="#ffabab"/><stop offset="1" stop-color="#ff5050"/></linearGradient></defs>
<rect x="822" y="1244.5" width="63" height="338.5" fill="url(#gk)" stroke="#000" stroke-width="1.1"/>
<rect x="978.9" y="1257.3" width="63.7" height="325.7" fill="url(#gb)" stroke="#000" stroke-width="1.1"/>
<rect x="1136.5" y="1445.1" width="63" height="137.9" fill="url(#gr)" stroke="#000" stroke-width="1.1"/>
<rect x="759.6" y="1167.5" width="502.9" height="415.5" fill="none" stroke="#000" stroke-width="1.5"/>
<line x1="751.1" y1="1583" x2="759.6" y2="1583" stroke="#000" stroke-width="1.5"/>
<text x="744" y="1592" font-size="26.2" text-anchor="end">0</text>
<line x1="754.6" y1="1543" x2="759.6" y2="1543" stroke="#000" stroke-width="1.5"/>
<line x1="751.1" y1="1503.1" x2="759.6" y2="1503.1" stroke="#000" stroke-width="1.5"/>
<text x="744" y="1512.1" font-size="26.2" text-anchor="end">1</text>
<line x1="754.6" y1="1463.2" x2="759.6" y2="1463.2" stroke="#000" stroke-width="1.5"/>
<line x1="751.1" y1="1423.2" x2="759.6" y2="1423.2" stroke="#000" stroke-width="1.5"/>
<text x="744" y="1432.2" font-size="26.2" text-anchor="end">2</text>
<line x1="754.6" y1="1383.2" x2="759.6" y2="1383.2" stroke="#000" stroke-width="1.5"/>
<line x1="751.1" y1="1343.3" x2="759.6" y2="1343.3" stroke="#000" stroke-width="1.5"/>
<text x="744" y="1352.3" font-size="26.2" text-anchor="end">3</text>
<line x1="754.6" y1="1303.3" x2="759.6" y2="1303.3" stroke="#000" stroke-width="1.5"/>
<line x1="751.1" y1="1263.4" x2="759.6" y2="1263.4" stroke="#000" stroke-width="1.5"/>
<text x="744" y="1272.4" font-size="26.2" text-anchor="end">4</text>
<line x1="754.6" y1="1223.5" x2="759.6" y2="1223.5" stroke="#000" stroke-width="1.5"/>
<line x1="751.1" y1="1183.5" x2="759.6" y2="1183.5" stroke="#000" stroke-width="1.5"/>
<text x="744" y="1192.5" font-size="26.2" text-anchor="end">5</text>
<line x1="853.2" y1="1583" x2="853.2" y2="1591.5" stroke="#000" stroke-width="1.5"/>
<line x1="1010.7" y1="1583" x2="1010.7" y2="1591.5" stroke="#000" stroke-width="1.5"/>
<line x1="1168.3" y1="1583" x2="1168.3" y2="1591.5" stroke="#000" stroke-width="1.5"/>
<text x="850" y="1626" font-size="25" text-anchor="middle" transform="rotate(-10 850 1626)">Fe-pdN-C(O)</text>
<text x="1012.6" y="1626" font-size="25" text-anchor="middle" transform="rotate(-10 1012.6 1626)">Fe-poN-C(O)</text>
<text x="1172" y="1626" font-size="25" text-anchor="middle" transform="rotate(-10 1172 1626)">Fe-poN-C/Fe</text>
<text x="718" y="1375.6" font-size="27.5" text-anchor="middle" transform="rotate(-90 718 1375.6)">O atmotic content (%)</text>
<text x="691.5" y="1182" font-size="38" font-weight="bold">f</text>
</svg>
</body></html>
